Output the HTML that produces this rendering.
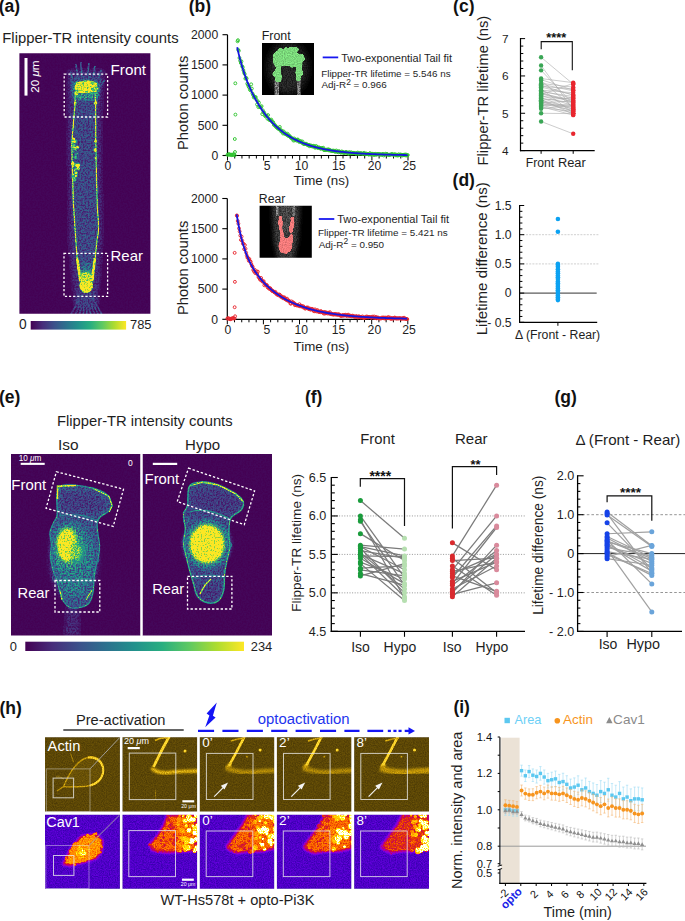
<!DOCTYPE html>
<html><head><meta charset="utf-8"><style>
html,body{margin:0;padding:0;background:#fff;width:685px;height:921px;overflow:hidden}
svg{display:block}
text{font-family:"Liberation Sans",sans-serif}
</style></head><body>
<svg width="685" height="921" viewBox="0 0 685 921">
<defs>
<linearGradient id="vir" x1="0" x2="1" y1="0" y2="0"><stop offset="0" stop-color="#440154"/><stop offset="0.125" stop-color="#472d7b"/><stop offset="0.25" stop-color="#3b528b"/><stop offset="0.375" stop-color="#2c728e"/><stop offset="0.5" stop-color="#21918c"/><stop offset="0.625" stop-color="#28ae80"/><stop offset="0.75" stop-color="#5ec962"/><stop offset="0.875" stop-color="#addc30"/><stop offset="1" stop-color="#fde725"/></linearGradient>
<filter id="b05" x="-20%" y="-20%" width="140%" height="140%"><feGaussianBlur stdDeviation="0.5"/></filter>
<filter id="b1" x="-30%" y="-30%" width="160%" height="160%"><feGaussianBlur stdDeviation="1"/></filter>
<filter id="b2" x="-50%" y="-50%" width="200%" height="200%"><feGaussianBlur stdDeviation="2"/></filter>
<filter id="b3" x="-50%" y="-50%" width="200%" height="200%"><feGaussianBlur stdDeviation="3.5"/></filter>
<filter id="vm" x="0" y="0" width="100%" height="100%" color-interpolation-filters="sRGB"><feTurbulence type="fractalNoise" baseFrequency="0.6" numOctaves="2" seed="4" result="n"/><feColorMatrix in="n" type="matrix" values="3 0 0 0 -1  3 0 0 0 -1  3 0 0 0 -1  0 0 0 0 1" result="nn"/><feComposite in="SourceGraphic" in2="nn" operator="arithmetic" k1="1.1" k2="0.45" k3="0.02" k4="0" result="m"/><feComponentTransfer in="m"><feFuncR type="table" tableValues="0.267 0.278 0.231 0.173 0.129 0.157 0.369 0.678 0.992"/><feFuncG type="table" tableValues="0.004 0.176 0.322 0.447 0.569 0.682 0.788 0.863 0.906"/><feFuncB type="table" tableValues="0.329 0.482 0.545 0.557 0.549 0.502 0.384 0.188 0.145"/><feFuncA type="linear" slope="0" intercept="1"/></feComponentTransfer></filter>
<filter id="vm2" x="0" y="0" width="100%" height="100%" color-interpolation-filters="sRGB"><feTurbulence type="fractalNoise" baseFrequency="0.7" numOctaves="2" seed="5" result="n"/><feColorMatrix in="n" type="matrix" values="2.4 0 0 0 -0.7  2.4 0 0 0 -0.7  2.4 0 0 0 -0.7  0 0 0 0 1" result="nn"/><feComposite in="SourceGraphic" in2="nn" operator="arithmetic" k1="0.6" k2="0.8" k3="0" k4="0" result="m"/><feComponentTransfer in="m"><feFuncR type="table" tableValues="0.267 0.278 0.231 0.173 0.129 0.157 0.369 0.678 0.992"/><feFuncG type="table" tableValues="0.004 0.176 0.322 0.447 0.569 0.682 0.788 0.863 0.906"/><feFuncB type="table" tableValues="0.329 0.482 0.545 0.557 0.549 0.502 0.384 0.188 0.145"/></feComponentTransfer></filter>
<filter id="am" x="0" y="0" width="100%" height="100%" color-interpolation-filters="sRGB"><feTurbulence type="fractalNoise" baseFrequency="0.9" numOctaves="2" seed="6" result="n"/><feColorMatrix in="n" type="matrix" values="2 0 0 0 -0.5  2 0 0 0 -0.5  2 0 0 0 -0.5  0 0 0 0 1" result="nn"/><feComposite in="SourceGraphic" in2="nn" operator="arithmetic" k1="0.3" k2="0.85" k3="0" k4="0" result="m"/><feComponentTransfer in="m"><feFuncR type="table" tableValues="0.000 0.250 0.500 0.780 1.000"/><feFuncG type="table" tableValues="0.000 0.190 0.390 0.600 0.860"/><feFuncB type="table" tableValues="0.000 0.020 0.030 0.020 0.200"/><feFuncA type="linear" slope="0" intercept="1"/></feComponentTransfer></filter>
<filter id="fm" x="0" y="0" width="100%" height="100%" color-interpolation-filters="sRGB"><feTurbulence type="fractalNoise" baseFrequency="0.85" numOctaves="2" seed="8" result="n"/><feColorMatrix in="n" type="matrix" values="2 0 0 0 -0.5  2 0 0 0 -0.5  2 0 0 0 -0.5  0 0 0 0 1" result="nn"/><feComposite in="SourceGraphic" in2="nn" operator="arithmetic" k1="0.35" k2="0.83" k3="0" k4="0" result="m"/><feComponentTransfer in="m"><feFuncR type="table" tableValues="0.000 0.000 0.004 0.098 0.192 0.286 0.384 0.478 0.573 0.635 0.678 0.722 0.765 0.812 0.851 0.898 0.941 0.988 1.000 1.000 1.000 1.000 1.000 1.000 1.000 1.000 1.000 1.000 1.000 1.000 1.000 1.000"/><feFuncG type="table" tableValues="0.000 0.000 0.000 0.000 0.000 0.000 0.000 0.000 0.000 0.000 0.000 0.000 0.000 0.055 0.137 0.224 0.310 0.396 0.459 0.522 0.576 0.631 0.686 0.745 0.804 0.859 0.918 0.973 1.000 1.000 1.000 1.000"/><feFuncB type="table" tableValues="0.000 0.239 0.376 0.510 0.647 0.753 0.863 0.890 0.824 0.710 0.592 0.478 0.365 0.251 0.137 0.020 0.000 0.000 0.000 0.000 0.000 0.000 0.000 0.000 0.000 0.000 0.000 0.137 0.384 0.627 0.875 1.000"/><feFuncA type="linear" slope="0" intercept="1"/></feComponentTransfer></filter>
<filter id="gm" x="0" y="0" width="100%" height="100%" color-interpolation-filters="sRGB"><feTurbulence type="fractalNoise" baseFrequency="0.8" numOctaves="2" seed="3" result="n"/><feColorMatrix in="n" type="matrix" values="3 0 0 0 -1  3 0 0 0 -1  3 0 0 0 -1  0 0 0 0 1" result="nn"/><feComposite in="SourceGraphic" in2="nn" operator="arithmetic" k1="0.7" k2="0.6" k3="0" k4="0" result="m"/><feComponentTransfer in="m"><feFuncR type="table" tableValues="0.000 1.000"/><feFuncG type="table" tableValues="0.000 1.000"/><feFuncB type="table" tableValues="0.000 1.000"/><feFuncA type="linear" slope="0" intercept="1"/></feComponentTransfer></filter>
<filter id="tex" x="-10%" y="-10%" width="120%" height="120%" color-interpolation-filters="sRGB"><feGaussianBlur in="SourceGraphic" stdDeviation="1.1" result="bl"/><feColorMatrix in="bl" type="matrix" values="1 0 0 0 0  0 1 0 0 0  0 0 1 0 0  0 0 0 12 -5" result="goo"/><feTurbulence type="fractalNoise" baseFrequency="0.9" numOctaves="1" seed="2" result="n"/><feColorMatrix in="n" type="matrix" values="2 0 0 0 -0.5  2 0 0 0 -0.5  2 0 0 0 -0.5  0 0 0 0 1" result="g"/><feComposite in="goo" in2="g" operator="arithmetic" k1="0.3" k2="0.85" result="c"/><feComposite in="c" in2="goo" operator="in"/></filter>
</defs>

<text x="-1.3" y="12.4" font-size="17.5" font-weight="bold" fill="#111">(a)</text>
<text x="2.3" y="43.0" font-size="14.83" fill="#1e1e1e">Flipper-TR intensity counts</text>
<svg x="19.4" y="53.2" width="131" height="260.6" viewBox="19.4 53.2 131 260.6" overflow="hidden">
<g filter="url(#vm)">
<rect x="19.40" y="53.20" width="131.00" height="260.60" fill="#000"/>
<path d="M68,70 L104,70 L101,120 L102,240 L99,290 L92,300 L80,300 L73,290 L69,240 L68,120 Z" fill="#1a1a1a" filter="url(#b2)"/>
<line x1="78.00" y1="80.00" x2="76.00" y2="64.00" stroke="#484848" stroke-width="1.5" filter="url(#b05)"/>
<line x1="82.00" y1="79.00" x2="81.00" y2="62.00" stroke="#484848" stroke-width="1.5" filter="url(#b05)"/>
<line x1="87.00" y1="79.00" x2="89.00" y2="63.00" stroke="#484848" stroke-width="1.5" filter="url(#b05)"/>
<line x1="92.00" y1="80.00" x2="95.00" y2="66.00" stroke="#484848" stroke-width="1.5" filter="url(#b05)"/>
<line x1="97.00" y1="82.00" x2="101.00" y2="70.00" stroke="#484848" stroke-width="1.5" filter="url(#b05)"/>
<line x1="74.00" y1="82.00" x2="70.00" y2="72.00" stroke="#484848" stroke-width="1.5" filter="url(#b05)"/>
<line x1="100.00" y1="86.00" x2="105.00" y2="80.00" stroke="#484848" stroke-width="1.5" filter="url(#b05)"/>
<line x1="86.00" y1="288.00" x2="70.00" y2="316.00" stroke="#363636" stroke-width="1.5" filter="url(#b05)"/>
<line x1="86.00" y1="288.00" x2="75.00" y2="316.00" stroke="#363636" stroke-width="1.5" filter="url(#b05)"/>
<line x1="86.00" y1="288.00" x2="79.00" y2="316.00" stroke="#363636" stroke-width="1.5" filter="url(#b05)"/>
<line x1="86.00" y1="288.00" x2="83.00" y2="316.00" stroke="#363636" stroke-width="1.5" filter="url(#b05)"/>
<line x1="86.00" y1="288.00" x2="87.00" y2="316.00" stroke="#363636" stroke-width="1.5" filter="url(#b05)"/>
<line x1="86.00" y1="288.00" x2="91.00" y2="316.00" stroke="#363636" stroke-width="1.5" filter="url(#b05)"/>
<line x1="86.00" y1="288.00" x2="95.00" y2="316.00" stroke="#363636" stroke-width="1.5" filter="url(#b05)"/>
<line x1="86.00" y1="288.00" x2="99.00" y2="316.00" stroke="#363636" stroke-width="1.5" filter="url(#b05)"/>
<line x1="86.00" y1="288.00" x2="103.00" y2="316.00" stroke="#363636" stroke-width="1.5" filter="url(#b05)"/>
<ellipse cx="86" cy="300" rx="12" ry="10" fill="#2a2a2a" filter="url(#b2)"/>
<path d="M70,79 Q86,72 102,79 L100,92 L96.5,102 L96.5,143 L97,169 L98,204 L99.5,228 L97.5,242 L95,262 L93.5,278 L86,293 L78.5,278 L76.5,262 L75,240 L72.5,204 L71.5,170 L70.5,143 L74,102 L70,92 Z" fill="#303030" filter="url(#b05)"/>
<path d="M72,84 Q86,76 100,84 L98,100 L74,100 Z" fill="#707070" filter="url(#b1)"/>
<ellipse cx="86" cy="272" rx="7" ry="10" fill="#555" filter="url(#b1)"/>
</g>
<g filter="url(#vm2)">
<path d="M74.5,87 Q76,80.5 84,81 Q92,79 97,83.5 Q98.5,89 93,92 Q86,94 80,93 Q74.5,92 74.5,87 Z" fill="#f4f4f4" filter="url(#b05)"/>
<circle cx="78.08" cy="89.60" r="1.66" fill="#e0e0e0" filter="url(#b05)"/>
<circle cx="80.80" cy="89.40" r="1.02" fill="#ffffff" filter="url(#b05)"/>
<circle cx="94.04" cy="90.37" r="1.49" fill="#c0c0c0" filter="url(#b05)"/>
<circle cx="82.93" cy="83.25" r="1.21" fill="#c0c0c0" filter="url(#b05)"/>
<circle cx="81.11" cy="89.94" r="1.08" fill="#e0e0e0" filter="url(#b05)"/>
<circle cx="87.92" cy="88.11" r="0.89" fill="#c0c0c0" filter="url(#b05)"/>
<circle cx="92.90" cy="90.22" r="1.77" fill="#ffffff" filter="url(#b05)"/>
<circle cx="83.42" cy="88.67" r="1.28" fill="#e0e0e0" filter="url(#b05)"/>
<circle cx="87.80" cy="90.06" r="1.05" fill="#ffffff" filter="url(#b05)"/>
<circle cx="96.83" cy="88.72" r="1.48" fill="#ffffff" filter="url(#b05)"/>
<circle cx="84.78" cy="81.60" r="1.64" fill="#c0c0c0" filter="url(#b05)"/>
<circle cx="79.88" cy="90.26" r="1.25" fill="#e0e0e0" filter="url(#b05)"/>
<circle cx="86.35" cy="91.36" r="1.59" fill="#c0c0c0" filter="url(#b05)"/>
<circle cx="76.68" cy="82.72" r="1.54" fill="#c0c0c0" filter="url(#b05)"/>
<circle cx="88.62" cy="89.56" r="0.81" fill="#c0c0c0" filter="url(#b05)"/>
<circle cx="92.66" cy="86.87" r="1.00" fill="#ffffff" filter="url(#b05)"/>
<circle cx="82.92" cy="88.67" r="1.02" fill="#ffffff" filter="url(#b05)"/>
<circle cx="95.97" cy="86.96" r="1.48" fill="#a0a0a0" filter="url(#b05)"/>
<circle cx="89.15" cy="88.92" r="1.44" fill="#ffffff" filter="url(#b05)"/>
<circle cx="80.75" cy="84.59" r="1.45" fill="#c0c0c0" filter="url(#b05)"/>
<circle cx="92.57" cy="88.93" r="0.98" fill="#e0e0e0" filter="url(#b05)"/>
<circle cx="92.96" cy="81.99" r="0.86" fill="#a0a0a0" filter="url(#b05)"/>
<circle cx="91.46" cy="86.19" r="0.86" fill="#c0c0c0" filter="url(#b05)"/>
<circle cx="77.47" cy="85.70" r="1.08" fill="#c0c0c0" filter="url(#b05)"/>
<circle cx="80.14" cy="89.08" r="1.68" fill="#a0a0a0" filter="url(#b05)"/>
<circle cx="90.91" cy="88.44" r="1.74" fill="#e0e0e0" filter="url(#b05)"/>
<circle cx="92.62" cy="88.95" r="1.45" fill="#a0a0a0" filter="url(#b05)"/>
<circle cx="95.34" cy="90.12" r="1.57" fill="#c0c0c0" filter="url(#b05)"/>
<circle cx="85.27" cy="82.39" r="1.16" fill="#ffffff" filter="url(#b05)"/>
<circle cx="82.80" cy="82.36" r="0.87" fill="#c0c0c0" filter="url(#b05)"/>
<circle cx="92.06" cy="82.93" r="1.79" fill="#a0a0a0" filter="url(#b05)"/>
<circle cx="85.50" cy="90.13" r="1.40" fill="#ffffff" filter="url(#b05)"/>
<circle cx="82.62" cy="90.36" r="1.30" fill="#ffffff" filter="url(#b05)"/>
<circle cx="95.58" cy="89.96" r="1.74" fill="#a0a0a0" filter="url(#b05)"/>
<circle cx="76.81" cy="91.30" r="1.54" fill="#a0a0a0" filter="url(#b05)"/>
<circle cx="86.40" cy="89.52" r="0.95" fill="#ffffff" filter="url(#b05)"/>
<circle cx="84.79" cy="87.66" r="1.50" fill="#e0e0e0" filter="url(#b05)"/>
<circle cx="89.93" cy="91.15" r="0.88" fill="#ffffff" filter="url(#b05)"/>
<circle cx="78.91" cy="89.90" r="1.44" fill="#c0c0c0" filter="url(#b05)"/>
<circle cx="80.29" cy="88.98" r="1.61" fill="#e0e0e0" filter="url(#b05)"/>
<circle cx="76.50" cy="93.00" r="2.20" fill="#d8d8d8" filter="url(#b05)"/>
<circle cx="95.50" cy="91.00" r="1.80" fill="#c8c8c8" filter="url(#b05)"/>
<path d="M75,94 L75.2,102 L71.8,143 L72.4,170 L73.4,204 L75.8,240 L77.4,262 L80,277" fill="none" stroke="#f0f0f0" stroke-width="1.2" filter="url(#b05)"/>
<path d="M95,94 L95.6,102 L95.8,143 L96.3,169 L97.2,204 L98.8,229 L97,241 L94.7,262 L92.5,277" fill="none" stroke="#e6e6e6" stroke-width="1.2" filter="url(#b05)"/>
<circle cx="75.30" cy="103.00" r="1.60" fill="#ffffff" filter="url(#b05)"/>
<circle cx="95.60" cy="103.00" r="1.80" fill="#ffffff" filter="url(#b05)"/>
<circle cx="75.72" cy="149.96" r="0.89" fill="#c0c0c0" filter="url(#b05)"/>
<circle cx="74.09" cy="138.95" r="0.93" fill="#ffffff" filter="url(#b05)"/>
<circle cx="74.53" cy="180.08" r="1.51" fill="#909090" filter="url(#b05)"/>
<circle cx="73.55" cy="140.93" r="1.79" fill="#e0e0e0" filter="url(#b05)"/>
<circle cx="77.41" cy="147.28" r="1.59" fill="#ffffff" filter="url(#b05)"/>
<circle cx="73.49" cy="164.97" r="0.86" fill="#ffffff" filter="url(#b05)"/>
<circle cx="73.83" cy="145.58" r="1.65" fill="#c0c0c0" filter="url(#b05)"/>
<circle cx="72.88" cy="142.13" r="1.63" fill="#c0c0c0" filter="url(#b05)"/>
<circle cx="75.75" cy="172.49" r="1.83" fill="#909090" filter="url(#b05)"/>
<circle cx="77.95" cy="167.07" r="1.61" fill="#c0c0c0" filter="url(#b05)"/>
<circle cx="72.93" cy="164.10" r="1.80" fill="#e0e0e0" filter="url(#b05)"/>
<circle cx="77.28" cy="153.46" r="0.82" fill="#a0a0a0" filter="url(#b05)"/>
<circle cx="74.88" cy="169.31" r="1.03" fill="#a0a0a0" filter="url(#b05)"/>
<circle cx="73.07" cy="174.76" r="1.30" fill="#ffffff" filter="url(#b05)"/>
<circle cx="72.97" cy="162.65" r="1.37" fill="#ffffff" filter="url(#b05)"/>
<circle cx="76.17" cy="165.47" r="1.49" fill="#c0c0c0" filter="url(#b05)"/>
<circle cx="73.71" cy="152.00" r="0.81" fill="#c0c0c0" filter="url(#b05)"/>
<circle cx="75.96" cy="140.19" r="0.91" fill="#909090" filter="url(#b05)"/>
<circle cx="74.58" cy="178.25" r="1.48" fill="#a0a0a0" filter="url(#b05)"/>
<circle cx="75.40" cy="157.32" r="1.87" fill="#909090" filter="url(#b05)"/>
<circle cx="73.04" cy="179.95" r="0.83" fill="#ffffff" filter="url(#b05)"/>
<circle cx="74.37" cy="164.29" r="1.33" fill="#e0e0e0" filter="url(#b05)"/>
<circle cx="77.95" cy="164.87" r="1.78" fill="#ffffff" filter="url(#b05)"/>
<circle cx="78.23" cy="168.47" r="1.67" fill="#e0e0e0" filter="url(#b05)"/>
<circle cx="75.35" cy="141.64" r="1.63" fill="#a0a0a0" filter="url(#b05)"/>
<circle cx="75.83" cy="175.67" r="1.51" fill="#c0c0c0" filter="url(#b05)"/>
<circle cx="75.74" cy="154.82" r="1.21" fill="#909090" filter="url(#b05)"/>
<circle cx="72.74" cy="176.85" r="1.45" fill="#a0a0a0" filter="url(#b05)"/>
<circle cx="74.72" cy="148.30" r="1.77" fill="#e0e0e0" filter="url(#b05)"/>
<circle cx="76.51" cy="173.77" r="1.81" fill="#909090" filter="url(#b05)"/>
<circle cx="76.35" cy="169.16" r="1.45" fill="#a0a0a0" filter="url(#b05)"/>
<circle cx="76.26" cy="166.67" r="0.86" fill="#909090" filter="url(#b05)"/>
<circle cx="73.86" cy="148.08" r="0.85" fill="#909090" filter="url(#b05)"/>
<circle cx="75.13" cy="172.64" r="1.11" fill="#c0c0c0" filter="url(#b05)"/>
<circle cx="74.56" cy="179.44" r="1.72" fill="#a0a0a0" filter="url(#b05)"/>
<circle cx="77.64" cy="164.12" r="1.24" fill="#a0a0a0" filter="url(#b05)"/>
<circle cx="74.46" cy="170.73" r="0.85" fill="#e0e0e0" filter="url(#b05)"/>
<circle cx="72.75" cy="174.61" r="1.20" fill="#c0c0c0" filter="url(#b05)"/>
<circle cx="74.76" cy="141.60" r="1.23" fill="#e0e0e0" filter="url(#b05)"/>
<circle cx="73.52" cy="138.38" r="0.95" fill="#ffffff" filter="url(#b05)"/>
<circle cx="78.08" cy="164.02" r="1.25" fill="#909090" filter="url(#b05)"/>
<circle cx="76.27" cy="173.12" r="1.39" fill="#e0e0e0" filter="url(#b05)"/>
<circle cx="77.87" cy="165.56" r="1.88" fill="#ffffff" filter="url(#b05)"/>
<circle cx="73.90" cy="180.89" r="1.11" fill="#909090" filter="url(#b05)"/>
<circle cx="73.48" cy="165.59" r="1.42" fill="#c0c0c0" filter="url(#b05)"/>
<circle cx="95.00" cy="150.00" r="1.60" fill="#ffffff" filter="url(#b05)"/>
<circle cx="95.50" cy="141.00" r="1.50" fill="#f0f0f0" filter="url(#b05)"/>
<circle cx="95.80" cy="158.00" r="1.30" fill="#d0d0d0" filter="url(#b05)"/>
<ellipse cx="86.2" cy="285.5" rx="6.8" ry="7.6" fill="#ffffff" filter="url(#b05)"/>
<path d="M77.2,258 L80.4,281" fill="none" stroke="#ffffff" stroke-width="2.6" filter="url(#b05)"/>
<path d="M94.8,258 L92.2,281" fill="none" stroke="#ffffff" stroke-width="2.6" filter="url(#b05)"/>
<path d="M80,274 Q86,268 92.5,274 L92.5,282 L80,282 Z" fill="#d0d0d0" filter="url(#b1)"/>
</g>
</svg>
<rect x="24.50" y="58.00" width="3.00" height="37.60" fill="#fff"/>
<text x="38.7" y="92.7" font-size="11.6" fill="#fff" transform="rotate(-90 38.7 92.7)">20 <tspan font-style="italic">μ</tspan>m</text>
<rect x="64.2" y="74.2" width="43.4" height="42.8" fill="none" stroke="#fff" stroke-width="1.3" stroke-dasharray="2.2 1.9"/>
<rect x="64.0" y="253.4" width="43.6" height="43.0" fill="none" stroke="#fff" stroke-width="1.3" stroke-dasharray="2.2 1.9"/>
<text x="110.6" y="74.5" font-size="15.2" fill="#fff">Front</text>
<text x="110.5" y="261.0" font-size="14.98" fill="#fff">Rear</text>
<rect x="30.70" y="321.00" width="95.40" height="8.60" fill="url(#vir)"/>
<text x="19.1" y="329.3" font-size="13.75" fill="#1e1e1e">0</text>
<text x="130.0" y="329.3" font-size="12.91" fill="#1e1e1e">785</text>
<text x="188.7" y="12.4" font-size="17.5" font-weight="bold" fill="#111">(b)</text>
<line x1="227.50" y1="34.70" x2="227.50" y2="156.00" stroke="#000" stroke-width="1.2"/>
<line x1="226.90" y1="155.50" x2="408.60" y2="155.50" stroke="#000" stroke-width="1.2"/>
<line x1="222.50" y1="155.50" x2="227.50" y2="155.50" stroke="#000" stroke-width="1.1"/>
<text x="218.2" y="159.8" font-size="12.2" text-anchor="end" fill="#1e1e1e">0</text>
<line x1="222.50" y1="125.30" x2="227.50" y2="125.30" stroke="#000" stroke-width="1.1"/>
<text x="218.2" y="129.6" font-size="12.2" text-anchor="end" fill="#1e1e1e">500</text>
<line x1="222.50" y1="95.10" x2="227.50" y2="95.10" stroke="#000" stroke-width="1.1"/>
<text x="218.2" y="99.4" font-size="12.2" text-anchor="end" fill="#1e1e1e">1000</text>
<line x1="222.50" y1="64.90" x2="227.50" y2="64.90" stroke="#000" stroke-width="1.1"/>
<text x="218.2" y="69.2" font-size="12.2" text-anchor="end" fill="#1e1e1e">1500</text>
<line x1="222.50" y1="34.70" x2="227.50" y2="34.70" stroke="#000" stroke-width="1.1"/>
<text x="218.2" y="39.0" font-size="12.2" text-anchor="end" fill="#1e1e1e">2000</text>
<line x1="227.50" y1="155.50" x2="227.50" y2="160.50" stroke="#000" stroke-width="1"/>
<text x="228.0" y="170.0" font-size="12.2" text-anchor="middle" fill="#1e1e1e">0</text>
<line x1="234.72" y1="155.50" x2="234.72" y2="158.50" stroke="#000" stroke-width="1"/>
<line x1="241.94" y1="155.50" x2="241.94" y2="158.50" stroke="#000" stroke-width="1"/>
<line x1="249.16" y1="155.50" x2="249.16" y2="158.50" stroke="#000" stroke-width="1"/>
<line x1="256.38" y1="155.50" x2="256.38" y2="158.50" stroke="#000" stroke-width="1"/>
<line x1="263.60" y1="155.50" x2="263.60" y2="160.50" stroke="#000" stroke-width="1"/>
<text x="267.1" y="170.0" font-size="12.2" text-anchor="middle" fill="#1e1e1e">5</text>
<line x1="270.82" y1="155.50" x2="270.82" y2="158.50" stroke="#000" stroke-width="1"/>
<line x1="278.04" y1="155.50" x2="278.04" y2="158.50" stroke="#000" stroke-width="1"/>
<line x1="285.26" y1="155.50" x2="285.26" y2="158.50" stroke="#000" stroke-width="1"/>
<line x1="292.48" y1="155.50" x2="292.48" y2="158.50" stroke="#000" stroke-width="1"/>
<line x1="299.70" y1="155.50" x2="299.70" y2="160.50" stroke="#000" stroke-width="1"/>
<text x="301.5" y="170.0" font-size="12.2" text-anchor="middle" fill="#1e1e1e">10</text>
<line x1="306.92" y1="155.50" x2="306.92" y2="158.50" stroke="#000" stroke-width="1"/>
<line x1="314.14" y1="155.50" x2="314.14" y2="158.50" stroke="#000" stroke-width="1"/>
<line x1="321.36" y1="155.50" x2="321.36" y2="158.50" stroke="#000" stroke-width="1"/>
<line x1="328.58" y1="155.50" x2="328.58" y2="158.50" stroke="#000" stroke-width="1"/>
<line x1="335.80" y1="155.50" x2="335.80" y2="160.50" stroke="#000" stroke-width="1"/>
<text x="338.8" y="170.0" font-size="12.2" text-anchor="middle" fill="#1e1e1e">15</text>
<line x1="343.02" y1="155.50" x2="343.02" y2="158.50" stroke="#000" stroke-width="1"/>
<line x1="350.24" y1="155.50" x2="350.24" y2="158.50" stroke="#000" stroke-width="1"/>
<line x1="357.46" y1="155.50" x2="357.46" y2="158.50" stroke="#000" stroke-width="1"/>
<line x1="364.68" y1="155.50" x2="364.68" y2="158.50" stroke="#000" stroke-width="1"/>
<line x1="371.90" y1="155.50" x2="371.90" y2="160.50" stroke="#000" stroke-width="1"/>
<text x="374.6" y="170.0" font-size="12.2" text-anchor="middle" fill="#1e1e1e">20</text>
<line x1="379.12" y1="155.50" x2="379.12" y2="158.50" stroke="#000" stroke-width="1"/>
<line x1="386.34" y1="155.50" x2="386.34" y2="158.50" stroke="#000" stroke-width="1"/>
<line x1="393.56" y1="155.50" x2="393.56" y2="158.50" stroke="#000" stroke-width="1"/>
<line x1="400.78" y1="155.50" x2="400.78" y2="158.50" stroke="#000" stroke-width="1"/>
<line x1="408.00" y1="155.50" x2="408.00" y2="160.50" stroke="#000" stroke-width="1"/>
<text x="409.3" y="170.0" font-size="12.2" text-anchor="middle" fill="#1e1e1e">25</text>
<g fill="none" stroke="#2fc42f" stroke-width="0.95">
<circle cx="227.50" cy="154.82" r="1.45"/>
<circle cx="228.22" cy="154.65" r="1.45"/>
<circle cx="228.94" cy="154.10" r="1.45"/>
<circle cx="229.67" cy="154.80" r="1.45"/>
<circle cx="230.39" cy="154.73" r="1.45"/>
<circle cx="231.11" cy="154.61" r="1.45"/>
<circle cx="231.83" cy="155.22" r="1.45"/>
<circle cx="232.55" cy="154.73" r="1.45"/>
<circle cx="233.28" cy="154.55" r="1.45"/>
<circle cx="234.00" cy="154.30" r="1.45"/>
<circle cx="234.72" cy="155.36" r="1.45"/>
<circle cx="234.98" cy="152.00" r="1.45"/>
<circle cx="234.80" cy="139.01" r="1.45"/>
<circle cx="235.42" cy="114.61" r="1.45"/>
<circle cx="235.32" cy="83.32" r="1.45"/>
<circle cx="237.97" cy="40.20" r="1.45"/>
<circle cx="237.54" cy="41.31" r="1.45"/>
<circle cx="238.19" cy="49.77" r="1.45"/>
<circle cx="238.84" cy="50.75" r="1.45"/>
<circle cx="239.49" cy="57.94" r="1.45"/>
<circle cx="240.13" cy="60.72" r="1.45"/>
<circle cx="240.78" cy="62.97" r="1.45"/>
<circle cx="241.43" cy="61.33" r="1.45"/>
<circle cx="242.08" cy="66.22" r="1.45"/>
<circle cx="242.73" cy="67.21" r="1.45"/>
<circle cx="243.38" cy="70.11" r="1.45"/>
<circle cx="244.03" cy="72.60" r="1.45"/>
<circle cx="244.68" cy="73.99" r="1.45"/>
<circle cx="245.33" cy="78.64" r="1.45"/>
<circle cx="245.98" cy="77.64" r="1.45"/>
<circle cx="246.63" cy="78.49" r="1.45"/>
<circle cx="247.28" cy="83.63" r="1.45"/>
<circle cx="247.93" cy="84.69" r="1.45"/>
<circle cx="248.58" cy="86.56" r="1.45"/>
<circle cx="249.23" cy="87.42" r="1.45"/>
<circle cx="249.88" cy="89.59" r="1.45"/>
<circle cx="250.53" cy="90.39" r="1.45"/>
<circle cx="251.18" cy="84.32" r="1.45"/>
<circle cx="251.83" cy="88.55" r="1.45"/>
<circle cx="252.48" cy="93.47" r="1.45"/>
<circle cx="253.13" cy="95.09" r="1.45"/>
<circle cx="253.78" cy="97.43" r="1.45"/>
<circle cx="254.43" cy="97.04" r="1.45"/>
<circle cx="255.08" cy="97.07" r="1.45"/>
<circle cx="255.73" cy="97.09" r="1.45"/>
<circle cx="256.38" cy="99.61" r="1.45"/>
<circle cx="257.03" cy="104.45" r="1.45"/>
<circle cx="257.68" cy="101.26" r="1.45"/>
<circle cx="258.33" cy="107.09" r="1.45"/>
<circle cx="258.98" cy="102.68" r="1.45"/>
<circle cx="259.63" cy="106.21" r="1.45"/>
<circle cx="260.28" cy="107.29" r="1.45"/>
<circle cx="260.93" cy="107.44" r="1.45"/>
<circle cx="261.58" cy="106.16" r="1.45"/>
<circle cx="262.23" cy="114.08" r="1.45"/>
<circle cx="262.88" cy="110.37" r="1.45"/>
<circle cx="263.53" cy="112.45" r="1.45"/>
<circle cx="264.18" cy="112.59" r="1.45"/>
<circle cx="264.83" cy="115.38" r="1.45"/>
<circle cx="265.48" cy="116.31" r="1.45"/>
<circle cx="266.13" cy="115.55" r="1.45"/>
<circle cx="266.78" cy="115.75" r="1.45"/>
<circle cx="267.43" cy="118.72" r="1.45"/>
<circle cx="268.08" cy="115.08" r="1.45"/>
<circle cx="268.73" cy="118.62" r="1.45"/>
<circle cx="269.38" cy="120.02" r="1.45"/>
<circle cx="270.03" cy="120.13" r="1.45"/>
<circle cx="270.68" cy="120.32" r="1.45"/>
<circle cx="271.33" cy="119.63" r="1.45"/>
<circle cx="271.98" cy="121.51" r="1.45"/>
<circle cx="272.62" cy="122.31" r="1.45"/>
<circle cx="273.27" cy="122.32" r="1.45"/>
<circle cx="273.92" cy="124.95" r="1.45"/>
<circle cx="274.57" cy="124.67" r="1.45"/>
<circle cx="275.22" cy="125.59" r="1.45"/>
<circle cx="275.87" cy="126.70" r="1.45"/>
<circle cx="276.52" cy="127.06" r="1.45"/>
<circle cx="277.17" cy="127.73" r="1.45"/>
<circle cx="277.82" cy="128.53" r="1.45"/>
<circle cx="278.47" cy="128.13" r="1.45"/>
<circle cx="279.12" cy="129.35" r="1.45"/>
<circle cx="279.77" cy="126.93" r="1.45"/>
<circle cx="280.42" cy="129.81" r="1.45"/>
<circle cx="281.07" cy="131.38" r="1.45"/>
<circle cx="281.72" cy="130.62" r="1.45"/>
<circle cx="282.37" cy="132.04" r="1.45"/>
<circle cx="283.02" cy="133.54" r="1.45"/>
<circle cx="283.67" cy="131.45" r="1.45"/>
<circle cx="284.32" cy="133.31" r="1.45"/>
<circle cx="284.97" cy="133.82" r="1.45"/>
<circle cx="285.62" cy="133.33" r="1.45"/>
<circle cx="286.27" cy="134.43" r="1.45"/>
<circle cx="286.92" cy="134.90" r="1.45"/>
<circle cx="287.57" cy="133.75" r="1.45"/>
<circle cx="288.22" cy="136.00" r="1.45"/>
<circle cx="288.87" cy="135.43" r="1.45"/>
<circle cx="289.52" cy="136.13" r="1.45"/>
<circle cx="290.17" cy="136.68" r="1.45"/>
<circle cx="290.82" cy="137.76" r="1.45"/>
<circle cx="291.47" cy="137.90" r="1.45"/>
<circle cx="292.12" cy="138.59" r="1.45"/>
<circle cx="292.77" cy="138.78" r="1.45"/>
<circle cx="293.42" cy="140.59" r="1.45"/>
<circle cx="294.07" cy="138.44" r="1.45"/>
<circle cx="294.72" cy="140.36" r="1.45"/>
<circle cx="295.37" cy="139.57" r="1.45"/>
<circle cx="296.02" cy="139.68" r="1.45"/>
<circle cx="296.67" cy="140.67" r="1.45"/>
<circle cx="297.32" cy="139.70" r="1.45"/>
<circle cx="297.97" cy="139.59" r="1.45"/>
<circle cx="298.62" cy="140.99" r="1.45"/>
<circle cx="299.27" cy="142.02" r="1.45"/>
<circle cx="299.92" cy="141.36" r="1.45"/>
<circle cx="300.57" cy="140.99" r="1.45"/>
<circle cx="301.22" cy="141.92" r="1.45"/>
<circle cx="301.87" cy="142.79" r="1.45"/>
<circle cx="302.52" cy="141.51" r="1.45"/>
<circle cx="303.17" cy="143.59" r="1.45"/>
<circle cx="303.82" cy="143.97" r="1.45"/>
<circle cx="304.47" cy="144.07" r="1.45"/>
<circle cx="305.11" cy="143.73" r="1.45"/>
<circle cx="305.76" cy="144.01" r="1.45"/>
<circle cx="306.41" cy="143.87" r="1.45"/>
<circle cx="307.06" cy="144.69" r="1.45"/>
<circle cx="307.71" cy="144.94" r="1.45"/>
<circle cx="308.36" cy="145.50" r="1.45"/>
<circle cx="309.01" cy="144.84" r="1.45"/>
<circle cx="309.66" cy="146.22" r="1.45"/>
<circle cx="310.31" cy="145.76" r="1.45"/>
<circle cx="310.96" cy="145.47" r="1.45"/>
<circle cx="311.61" cy="146.09" r="1.45"/>
<circle cx="312.26" cy="146.47" r="1.45"/>
<circle cx="312.91" cy="146.32" r="1.45"/>
<circle cx="313.56" cy="145.83" r="1.45"/>
<circle cx="314.21" cy="146.28" r="1.45"/>
<circle cx="314.86" cy="147.65" r="1.45"/>
<circle cx="315.51" cy="147.40" r="1.45"/>
<circle cx="316.16" cy="145.99" r="1.45"/>
<circle cx="316.81" cy="147.45" r="1.45"/>
<circle cx="317.46" cy="147.54" r="1.45"/>
<circle cx="318.11" cy="147.88" r="1.45"/>
<circle cx="318.76" cy="147.33" r="1.45"/>
<circle cx="319.41" cy="147.78" r="1.45"/>
<circle cx="320.06" cy="148.13" r="1.45"/>
<circle cx="320.71" cy="148.93" r="1.45"/>
<circle cx="321.36" cy="148.01" r="1.45"/>
<circle cx="322.01" cy="148.33" r="1.45"/>
<circle cx="322.66" cy="148.44" r="1.45"/>
<circle cx="323.31" cy="147.74" r="1.45"/>
<circle cx="323.96" cy="150.11" r="1.45"/>
<circle cx="324.61" cy="149.71" r="1.45"/>
<circle cx="325.26" cy="150.08" r="1.45"/>
<circle cx="325.91" cy="149.75" r="1.45"/>
<circle cx="326.56" cy="149.77" r="1.45"/>
<circle cx="327.21" cy="149.63" r="1.45"/>
<circle cx="327.86" cy="149.83" r="1.45"/>
<circle cx="328.51" cy="149.25" r="1.45"/>
<circle cx="329.16" cy="150.53" r="1.45"/>
<circle cx="329.81" cy="150.08" r="1.45"/>
<circle cx="330.46" cy="150.32" r="1.45"/>
<circle cx="331.11" cy="150.81" r="1.45"/>
<circle cx="331.76" cy="150.97" r="1.45"/>
<circle cx="332.41" cy="150.67" r="1.45"/>
<circle cx="333.06" cy="151.17" r="1.45"/>
<circle cx="333.71" cy="150.60" r="1.45"/>
<circle cx="334.36" cy="150.90" r="1.45"/>
<circle cx="335.01" cy="151.81" r="1.45"/>
<circle cx="335.66" cy="151.33" r="1.45"/>
<circle cx="336.31" cy="150.49" r="1.45"/>
<circle cx="336.96" cy="151.76" r="1.45"/>
<circle cx="337.60" cy="151.61" r="1.45"/>
<circle cx="338.25" cy="152.31" r="1.45"/>
<circle cx="338.90" cy="151.11" r="1.45"/>
<circle cx="339.55" cy="151.84" r="1.45"/>
<circle cx="340.20" cy="152.11" r="1.45"/>
<circle cx="340.85" cy="152.76" r="1.45"/>
<circle cx="341.50" cy="151.47" r="1.45"/>
<circle cx="342.15" cy="152.29" r="1.45"/>
<circle cx="342.80" cy="151.73" r="1.45"/>
<circle cx="343.45" cy="153.02" r="1.45"/>
<circle cx="344.10" cy="152.75" r="1.45"/>
<circle cx="344.75" cy="152.50" r="1.45"/>
<circle cx="345.40" cy="152.74" r="1.45"/>
<circle cx="346.05" cy="151.89" r="1.45"/>
<circle cx="346.70" cy="152.55" r="1.45"/>
<circle cx="347.35" cy="152.58" r="1.45"/>
<circle cx="348.00" cy="153.51" r="1.45"/>
<circle cx="348.65" cy="153.76" r="1.45"/>
<circle cx="349.30" cy="152.07" r="1.45"/>
<circle cx="349.95" cy="153.23" r="1.45"/>
<circle cx="350.60" cy="153.35" r="1.45"/>
<circle cx="351.25" cy="152.30" r="1.45"/>
<circle cx="351.90" cy="153.32" r="1.45"/>
<circle cx="352.55" cy="153.17" r="1.45"/>
<circle cx="353.20" cy="152.86" r="1.45"/>
<circle cx="353.85" cy="153.19" r="1.45"/>
<circle cx="354.50" cy="153.07" r="1.45"/>
<circle cx="355.15" cy="153.24" r="1.45"/>
<circle cx="355.80" cy="153.61" r="1.45"/>
<circle cx="356.45" cy="153.54" r="1.45"/>
<circle cx="357.10" cy="153.17" r="1.45"/>
<circle cx="357.75" cy="152.59" r="1.45"/>
<circle cx="358.40" cy="154.00" r="1.45"/>
<circle cx="359.05" cy="153.39" r="1.45"/>
<circle cx="359.70" cy="153.13" r="1.45"/>
<circle cx="360.35" cy="153.66" r="1.45"/>
<circle cx="361.00" cy="153.13" r="1.45"/>
<circle cx="361.65" cy="153.54" r="1.45"/>
<circle cx="362.30" cy="153.74" r="1.45"/>
<circle cx="362.95" cy="153.92" r="1.45"/>
<circle cx="363.60" cy="153.19" r="1.45"/>
<circle cx="364.25" cy="152.84" r="1.45"/>
<circle cx="364.90" cy="154.02" r="1.45"/>
<circle cx="365.55" cy="154.21" r="1.45"/>
<circle cx="366.20" cy="153.51" r="1.45"/>
<circle cx="366.85" cy="154.12" r="1.45"/>
<circle cx="367.50" cy="154.05" r="1.45"/>
<circle cx="368.15" cy="154.19" r="1.45"/>
<circle cx="368.80" cy="154.71" r="1.45"/>
<circle cx="369.45" cy="153.64" r="1.45"/>
<circle cx="370.09" cy="153.21" r="1.45"/>
<circle cx="370.74" cy="154.53" r="1.45"/>
<circle cx="371.39" cy="154.53" r="1.45"/>
<circle cx="372.04" cy="153.71" r="1.45"/>
<circle cx="372.69" cy="154.24" r="1.45"/>
<circle cx="373.34" cy="153.94" r="1.45"/>
<circle cx="373.99" cy="155.05" r="1.45"/>
<circle cx="374.64" cy="154.20" r="1.45"/>
<circle cx="375.29" cy="153.83" r="1.45"/>
<circle cx="375.94" cy="154.85" r="1.45"/>
<circle cx="376.59" cy="153.95" r="1.45"/>
<circle cx="377.24" cy="154.43" r="1.45"/>
<circle cx="377.89" cy="154.10" r="1.45"/>
<circle cx="378.54" cy="153.94" r="1.45"/>
<circle cx="379.19" cy="154.44" r="1.45"/>
<circle cx="379.84" cy="154.11" r="1.45"/>
<circle cx="380.49" cy="154.97" r="1.45"/>
<circle cx="381.14" cy="154.14" r="1.45"/>
<circle cx="381.79" cy="154.87" r="1.45"/>
<circle cx="382.44" cy="154.48" r="1.45"/>
<circle cx="383.09" cy="153.85" r="1.45"/>
<circle cx="383.74" cy="155.50" r="1.45"/>
<circle cx="384.39" cy="154.73" r="1.45"/>
<circle cx="385.04" cy="154.53" r="1.45"/>
<circle cx="385.69" cy="153.72" r="1.45"/>
<circle cx="386.34" cy="154.44" r="1.45"/>
<circle cx="386.99" cy="153.96" r="1.45"/>
<circle cx="387.64" cy="154.47" r="1.45"/>
<circle cx="388.29" cy="155.01" r="1.45"/>
<circle cx="388.94" cy="154.85" r="1.45"/>
<circle cx="389.59" cy="154.68" r="1.45"/>
<circle cx="390.24" cy="154.80" r="1.45"/>
<circle cx="390.89" cy="154.42" r="1.45"/>
<circle cx="391.54" cy="154.38" r="1.45"/>
<circle cx="392.19" cy="153.95" r="1.45"/>
<circle cx="392.84" cy="154.65" r="1.45"/>
<circle cx="393.49" cy="154.78" r="1.45"/>
<circle cx="394.14" cy="154.57" r="1.45"/>
<circle cx="394.79" cy="154.23" r="1.45"/>
<circle cx="395.44" cy="154.66" r="1.45"/>
<circle cx="396.09" cy="155.43" r="1.45"/>
<circle cx="396.74" cy="154.66" r="1.45"/>
<circle cx="397.39" cy="155.32" r="1.45"/>
<circle cx="398.04" cy="155.50" r="1.45"/>
<circle cx="398.69" cy="154.26" r="1.45"/>
<circle cx="399.34" cy="155.08" r="1.45"/>
<circle cx="399.99" cy="154.77" r="1.45"/>
<circle cx="400.64" cy="154.47" r="1.45"/>
<circle cx="401.29" cy="154.92" r="1.45"/>
<circle cx="401.94" cy="154.90" r="1.45"/>
<circle cx="402.58" cy="155.50" r="1.45"/>
<circle cx="403.23" cy="154.86" r="1.45"/>
<circle cx="403.88" cy="154.84" r="1.45"/>
<circle cx="404.53" cy="154.69" r="1.45"/>
<circle cx="405.18" cy="155.39" r="1.45"/>
<circle cx="405.83" cy="154.47" r="1.45"/>
<circle cx="406.48" cy="155.50" r="1.45"/>
<circle cx="407.13" cy="155.12" r="1.45"/>
<circle cx="407.78" cy="155.03" r="1.45"/>
</g>
<polyline points="237.17,47.23 238.62,53.61 240.06,59.34 241.51,64.54 242.95,69.31 244.39,73.69 245.84,77.76 247.28,81.55 248.73,85.10 250.17,88.44 251.61,91.58 253.06,94.55 254.50,97.36 255.95,100.03 257.39,102.56 258.83,104.96 260.28,107.25 261.72,109.44 263.17,111.51 264.61,113.49 266.05,115.38 267.50,117.19 268.94,118.91 270.39,120.55 271.83,122.12 273.27,123.61 274.72,125.04 276.16,126.41 277.61,127.71 279.05,128.95 280.49,130.14 281.94,131.28 283.38,132.36 284.83,133.40 286.27,134.39 287.71,135.33 289.16,136.23 290.60,137.10 292.05,137.92 293.49,138.71 294.93,139.46 296.38,140.18 297.82,140.86 299.27,141.52 300.71,142.14 302.15,142.74 303.60,143.31 305.04,143.86 306.49,144.38 307.93,144.88 309.37,145.35 310.82,145.80 312.26,146.24 313.71,146.65 315.15,147.05 316.59,147.43 318.04,147.79 319.48,148.13 320.93,148.46 322.37,148.78 323.81,149.08 325.26,149.37 326.70,149.64 328.15,149.90 329.59,150.15 331.03,150.39 332.48,150.62 333.92,150.84 335.37,151.05 336.81,151.25 338.25,151.44 339.70,151.62 341.14,151.79 342.59,151.96 344.03,152.12 345.47,152.27 346.92,152.41 348.36,152.55 349.81,152.68 351.25,152.81 352.69,152.93 354.14,153.04 355.58,153.15 357.03,153.26 358.47,153.36 359.91,153.46 361.36,153.55 362.80,153.63 364.25,153.72 365.69,153.80 367.13,153.87 368.58,153.95 370.02,154.02 371.47,154.08 372.91,154.15 374.35,154.21 375.80,154.26 377.24,154.32 378.69,154.37 380.13,154.42 381.57,154.47 383.02,154.52 384.46,154.56 385.91,154.60 387.35,154.64 388.79,154.68 390.24,154.72 391.68,154.75 393.13,154.79 394.57,154.82 396.01,154.85 397.46,154.88 398.90,154.91 400.35,154.93 401.79,154.96 403.23,154.98 404.68,155.01 406.12,155.03 407.57,155.05" fill="none" stroke="#1515e0" stroke-width="1.8"/>
<line x1="227.30" y1="198.50" x2="227.30" y2="319.80" stroke="#000" stroke-width="1.2"/>
<line x1="226.70" y1="319.30" x2="408.40" y2="319.30" stroke="#000" stroke-width="1.2"/>
<line x1="222.30" y1="319.30" x2="227.30" y2="319.30" stroke="#000" stroke-width="1.1"/>
<text x="218.0" y="323.6" font-size="12.2" text-anchor="end" fill="#1e1e1e">0</text>
<line x1="222.30" y1="289.10" x2="227.30" y2="289.10" stroke="#000" stroke-width="1.1"/>
<text x="218.0" y="293.4" font-size="12.2" text-anchor="end" fill="#1e1e1e">500</text>
<line x1="222.30" y1="258.90" x2="227.30" y2="258.90" stroke="#000" stroke-width="1.1"/>
<text x="218.0" y="263.2" font-size="12.2" text-anchor="end" fill="#1e1e1e">1000</text>
<line x1="222.30" y1="228.70" x2="227.30" y2="228.70" stroke="#000" stroke-width="1.1"/>
<text x="218.0" y="233.0" font-size="12.2" text-anchor="end" fill="#1e1e1e">1500</text>
<line x1="222.30" y1="198.50" x2="227.30" y2="198.50" stroke="#000" stroke-width="1.1"/>
<text x="218.0" y="202.8" font-size="12.2" text-anchor="end" fill="#1e1e1e">2000</text>
<line x1="227.30" y1="319.30" x2="227.30" y2="324.30" stroke="#000" stroke-width="1"/>
<text x="227.8" y="333.8" font-size="12.2" text-anchor="middle" fill="#1e1e1e">0</text>
<line x1="234.52" y1="319.30" x2="234.52" y2="322.30" stroke="#000" stroke-width="1"/>
<line x1="241.74" y1="319.30" x2="241.74" y2="322.30" stroke="#000" stroke-width="1"/>
<line x1="248.96" y1="319.30" x2="248.96" y2="322.30" stroke="#000" stroke-width="1"/>
<line x1="256.18" y1="319.30" x2="256.18" y2="322.30" stroke="#000" stroke-width="1"/>
<line x1="263.40" y1="319.30" x2="263.40" y2="324.30" stroke="#000" stroke-width="1"/>
<text x="266.9" y="333.8" font-size="12.2" text-anchor="middle" fill="#1e1e1e">5</text>
<line x1="270.62" y1="319.30" x2="270.62" y2="322.30" stroke="#000" stroke-width="1"/>
<line x1="277.84" y1="319.30" x2="277.84" y2="322.30" stroke="#000" stroke-width="1"/>
<line x1="285.06" y1="319.30" x2="285.06" y2="322.30" stroke="#000" stroke-width="1"/>
<line x1="292.28" y1="319.30" x2="292.28" y2="322.30" stroke="#000" stroke-width="1"/>
<line x1="299.50" y1="319.30" x2="299.50" y2="324.30" stroke="#000" stroke-width="1"/>
<text x="301.3" y="333.8" font-size="12.2" text-anchor="middle" fill="#1e1e1e">10</text>
<line x1="306.72" y1="319.30" x2="306.72" y2="322.30" stroke="#000" stroke-width="1"/>
<line x1="313.94" y1="319.30" x2="313.94" y2="322.30" stroke="#000" stroke-width="1"/>
<line x1="321.16" y1="319.30" x2="321.16" y2="322.30" stroke="#000" stroke-width="1"/>
<line x1="328.38" y1="319.30" x2="328.38" y2="322.30" stroke="#000" stroke-width="1"/>
<line x1="335.60" y1="319.30" x2="335.60" y2="324.30" stroke="#000" stroke-width="1"/>
<text x="338.6" y="333.8" font-size="12.2" text-anchor="middle" fill="#1e1e1e">15</text>
<line x1="342.82" y1="319.30" x2="342.82" y2="322.30" stroke="#000" stroke-width="1"/>
<line x1="350.04" y1="319.30" x2="350.04" y2="322.30" stroke="#000" stroke-width="1"/>
<line x1="357.26" y1="319.30" x2="357.26" y2="322.30" stroke="#000" stroke-width="1"/>
<line x1="364.48" y1="319.30" x2="364.48" y2="322.30" stroke="#000" stroke-width="1"/>
<line x1="371.70" y1="319.30" x2="371.70" y2="324.30" stroke="#000" stroke-width="1"/>
<text x="374.4" y="333.8" font-size="12.2" text-anchor="middle" fill="#1e1e1e">20</text>
<line x1="378.92" y1="319.30" x2="378.92" y2="322.30" stroke="#000" stroke-width="1"/>
<line x1="386.14" y1="319.30" x2="386.14" y2="322.30" stroke="#000" stroke-width="1"/>
<line x1="393.36" y1="319.30" x2="393.36" y2="322.30" stroke="#000" stroke-width="1"/>
<line x1="400.58" y1="319.30" x2="400.58" y2="322.30" stroke="#000" stroke-width="1"/>
<line x1="407.80" y1="319.30" x2="407.80" y2="324.30" stroke="#000" stroke-width="1"/>
<text x="409.1" y="333.8" font-size="12.2" text-anchor="middle" fill="#1e1e1e">25</text>
<g fill="none" stroke="#e8262e" stroke-width="0.95">
<circle cx="227.30" cy="318.58" r="1.45"/>
<circle cx="228.02" cy="318.31" r="1.45"/>
<circle cx="228.74" cy="318.29" r="1.45"/>
<circle cx="229.47" cy="319.08" r="1.45"/>
<circle cx="230.19" cy="319.28" r="1.45"/>
<circle cx="230.91" cy="318.73" r="1.45"/>
<circle cx="231.63" cy="318.89" r="1.45"/>
<circle cx="232.35" cy="318.08" r="1.45"/>
<circle cx="233.08" cy="318.26" r="1.45"/>
<circle cx="233.80" cy="318.39" r="1.45"/>
<circle cx="234.52" cy="318.46" r="1.45"/>
<circle cx="235.09" cy="316.28" r="1.45"/>
<circle cx="234.65" cy="307.22" r="1.45"/>
<circle cx="234.90" cy="281.85" r="1.45"/>
<circle cx="234.66" cy="252.86" r="1.45"/>
<circle cx="236.83" cy="215.41" r="1.45"/>
<circle cx="237.05" cy="215.84" r="1.45"/>
<circle cx="237.70" cy="220.99" r="1.45"/>
<circle cx="238.35" cy="223.69" r="1.45"/>
<circle cx="239.00" cy="228.35" r="1.45"/>
<circle cx="239.65" cy="231.46" r="1.45"/>
<circle cx="240.30" cy="235.52" r="1.45"/>
<circle cx="240.95" cy="239.93" r="1.45"/>
<circle cx="241.60" cy="236.59" r="1.45"/>
<circle cx="242.25" cy="240.66" r="1.45"/>
<circle cx="242.90" cy="243.64" r="1.45"/>
<circle cx="243.55" cy="243.82" r="1.45"/>
<circle cx="244.19" cy="249.18" r="1.45"/>
<circle cx="244.84" cy="245.09" r="1.45"/>
<circle cx="245.49" cy="248.74" r="1.45"/>
<circle cx="246.14" cy="252.68" r="1.45"/>
<circle cx="246.79" cy="255.52" r="1.45"/>
<circle cx="247.44" cy="257.68" r="1.45"/>
<circle cx="248.09" cy="257.91" r="1.45"/>
<circle cx="248.74" cy="260.74" r="1.45"/>
<circle cx="249.39" cy="259.02" r="1.45"/>
<circle cx="250.04" cy="261.22" r="1.45"/>
<circle cx="250.69" cy="261.67" r="1.45"/>
<circle cx="251.34" cy="264.14" r="1.45"/>
<circle cx="251.99" cy="265.97" r="1.45"/>
<circle cx="252.64" cy="266.79" r="1.45"/>
<circle cx="253.29" cy="269.96" r="1.45"/>
<circle cx="253.94" cy="271.39" r="1.45"/>
<circle cx="254.59" cy="269.66" r="1.45"/>
<circle cx="255.24" cy="273.08" r="1.45"/>
<circle cx="255.89" cy="272.41" r="1.45"/>
<circle cx="256.54" cy="271.30" r="1.45"/>
<circle cx="257.19" cy="274.05" r="1.45"/>
<circle cx="257.84" cy="271.65" r="1.45"/>
<circle cx="258.49" cy="276.99" r="1.45"/>
<circle cx="259.14" cy="277.73" r="1.45"/>
<circle cx="259.79" cy="278.96" r="1.45"/>
<circle cx="260.44" cy="280.00" r="1.45"/>
<circle cx="261.09" cy="277.96" r="1.45"/>
<circle cx="261.74" cy="280.51" r="1.45"/>
<circle cx="262.39" cy="281.52" r="1.45"/>
<circle cx="263.04" cy="281.57" r="1.45"/>
<circle cx="263.69" cy="281.22" r="1.45"/>
<circle cx="264.34" cy="285.30" r="1.45"/>
<circle cx="264.99" cy="283.91" r="1.45"/>
<circle cx="265.64" cy="284.69" r="1.45"/>
<circle cx="266.29" cy="285.05" r="1.45"/>
<circle cx="266.94" cy="285.14" r="1.45"/>
<circle cx="267.59" cy="287.40" r="1.45"/>
<circle cx="268.24" cy="287.70" r="1.45"/>
<circle cx="268.89" cy="287.59" r="1.45"/>
<circle cx="269.54" cy="289.06" r="1.45"/>
<circle cx="270.19" cy="288.16" r="1.45"/>
<circle cx="270.84" cy="289.13" r="1.45"/>
<circle cx="271.49" cy="290.24" r="1.45"/>
<circle cx="272.14" cy="290.91" r="1.45"/>
<circle cx="272.79" cy="291.00" r="1.45"/>
<circle cx="273.44" cy="291.41" r="1.45"/>
<circle cx="274.09" cy="292.08" r="1.45"/>
<circle cx="274.74" cy="292.47" r="1.45"/>
<circle cx="275.39" cy="291.88" r="1.45"/>
<circle cx="276.03" cy="293.48" r="1.45"/>
<circle cx="276.68" cy="293.98" r="1.45"/>
<circle cx="277.33" cy="294.84" r="1.45"/>
<circle cx="277.98" cy="294.48" r="1.45"/>
<circle cx="278.63" cy="295.30" r="1.45"/>
<circle cx="279.28" cy="294.46" r="1.45"/>
<circle cx="279.93" cy="294.90" r="1.45"/>
<circle cx="280.58" cy="296.63" r="1.45"/>
<circle cx="281.23" cy="296.23" r="1.45"/>
<circle cx="281.88" cy="297.32" r="1.45"/>
<circle cx="282.53" cy="296.80" r="1.45"/>
<circle cx="283.18" cy="298.34" r="1.45"/>
<circle cx="283.83" cy="297.78" r="1.45"/>
<circle cx="284.48" cy="297.35" r="1.45"/>
<circle cx="285.13" cy="298.98" r="1.45"/>
<circle cx="285.78" cy="299.48" r="1.45"/>
<circle cx="286.43" cy="299.95" r="1.45"/>
<circle cx="287.08" cy="298.69" r="1.45"/>
<circle cx="287.73" cy="300.81" r="1.45"/>
<circle cx="288.38" cy="300.28" r="1.45"/>
<circle cx="289.03" cy="300.89" r="1.45"/>
<circle cx="289.68" cy="301.44" r="1.45"/>
<circle cx="290.33" cy="303.47" r="1.45"/>
<circle cx="290.98" cy="303.65" r="1.45"/>
<circle cx="291.63" cy="301.44" r="1.45"/>
<circle cx="292.28" cy="302.69" r="1.45"/>
<circle cx="292.93" cy="302.30" r="1.45"/>
<circle cx="293.58" cy="303.17" r="1.45"/>
<circle cx="294.23" cy="303.21" r="1.45"/>
<circle cx="294.88" cy="305.23" r="1.45"/>
<circle cx="295.53" cy="304.46" r="1.45"/>
<circle cx="296.18" cy="304.79" r="1.45"/>
<circle cx="296.83" cy="305.48" r="1.45"/>
<circle cx="297.48" cy="305.04" r="1.45"/>
<circle cx="298.13" cy="305.55" r="1.45"/>
<circle cx="298.78" cy="305.81" r="1.45"/>
<circle cx="299.43" cy="304.20" r="1.45"/>
<circle cx="300.08" cy="306.39" r="1.45"/>
<circle cx="300.73" cy="305.82" r="1.45"/>
<circle cx="301.38" cy="305.86" r="1.45"/>
<circle cx="302.03" cy="306.20" r="1.45"/>
<circle cx="302.68" cy="307.22" r="1.45"/>
<circle cx="303.33" cy="306.26" r="1.45"/>
<circle cx="303.98" cy="307.54" r="1.45"/>
<circle cx="304.63" cy="307.82" r="1.45"/>
<circle cx="305.28" cy="308.68" r="1.45"/>
<circle cx="305.93" cy="307.76" r="1.45"/>
<circle cx="306.58" cy="307.55" r="1.45"/>
<circle cx="307.23" cy="308.32" r="1.45"/>
<circle cx="307.88" cy="307.48" r="1.45"/>
<circle cx="308.52" cy="308.79" r="1.45"/>
<circle cx="309.17" cy="309.19" r="1.45"/>
<circle cx="309.82" cy="308.53" r="1.45"/>
<circle cx="310.47" cy="309.67" r="1.45"/>
<circle cx="311.12" cy="309.37" r="1.45"/>
<circle cx="311.77" cy="308.90" r="1.45"/>
<circle cx="312.42" cy="308.95" r="1.45"/>
<circle cx="313.07" cy="310.02" r="1.45"/>
<circle cx="313.72" cy="311.08" r="1.45"/>
<circle cx="314.37" cy="311.24" r="1.45"/>
<circle cx="315.02" cy="309.39" r="1.45"/>
<circle cx="315.67" cy="310.81" r="1.45"/>
<circle cx="316.32" cy="311.43" r="1.45"/>
<circle cx="316.97" cy="310.47" r="1.45"/>
<circle cx="317.62" cy="310.16" r="1.45"/>
<circle cx="318.27" cy="311.79" r="1.45"/>
<circle cx="318.92" cy="311.80" r="1.45"/>
<circle cx="319.57" cy="311.72" r="1.45"/>
<circle cx="320.22" cy="312.25" r="1.45"/>
<circle cx="320.87" cy="311.02" r="1.45"/>
<circle cx="321.52" cy="311.97" r="1.45"/>
<circle cx="322.17" cy="312.04" r="1.45"/>
<circle cx="322.82" cy="312.44" r="1.45"/>
<circle cx="323.47" cy="313.46" r="1.45"/>
<circle cx="324.12" cy="312.01" r="1.45"/>
<circle cx="324.77" cy="313.67" r="1.45"/>
<circle cx="325.42" cy="312.02" r="1.45"/>
<circle cx="326.07" cy="313.11" r="1.45"/>
<circle cx="326.72" cy="312.72" r="1.45"/>
<circle cx="327.37" cy="313.50" r="1.45"/>
<circle cx="328.02" cy="312.65" r="1.45"/>
<circle cx="328.67" cy="312.89" r="1.45"/>
<circle cx="329.32" cy="313.79" r="1.45"/>
<circle cx="329.97" cy="312.21" r="1.45"/>
<circle cx="330.62" cy="313.77" r="1.45"/>
<circle cx="331.27" cy="314.25" r="1.45"/>
<circle cx="331.92" cy="313.92" r="1.45"/>
<circle cx="332.57" cy="314.01" r="1.45"/>
<circle cx="333.22" cy="314.73" r="1.45"/>
<circle cx="333.87" cy="314.18" r="1.45"/>
<circle cx="334.52" cy="314.42" r="1.45"/>
<circle cx="335.17" cy="313.94" r="1.45"/>
<circle cx="335.82" cy="314.67" r="1.45"/>
<circle cx="336.47" cy="314.11" r="1.45"/>
<circle cx="337.12" cy="314.57" r="1.45"/>
<circle cx="337.77" cy="314.81" r="1.45"/>
<circle cx="338.42" cy="314.24" r="1.45"/>
<circle cx="339.07" cy="314.47" r="1.45"/>
<circle cx="339.72" cy="315.09" r="1.45"/>
<circle cx="340.37" cy="315.70" r="1.45"/>
<circle cx="341.01" cy="315.60" r="1.45"/>
<circle cx="341.66" cy="316.04" r="1.45"/>
<circle cx="342.31" cy="315.19" r="1.45"/>
<circle cx="342.96" cy="315.08" r="1.45"/>
<circle cx="343.61" cy="315.80" r="1.45"/>
<circle cx="344.26" cy="315.28" r="1.45"/>
<circle cx="344.91" cy="315.07" r="1.45"/>
<circle cx="345.56" cy="314.78" r="1.45"/>
<circle cx="346.21" cy="315.73" r="1.45"/>
<circle cx="346.86" cy="315.28" r="1.45"/>
<circle cx="347.51" cy="316.22" r="1.45"/>
<circle cx="348.16" cy="314.66" r="1.45"/>
<circle cx="348.81" cy="315.32" r="1.45"/>
<circle cx="349.46" cy="315.83" r="1.45"/>
<circle cx="350.11" cy="315.97" r="1.45"/>
<circle cx="350.76" cy="315.64" r="1.45"/>
<circle cx="351.41" cy="316.35" r="1.45"/>
<circle cx="352.06" cy="315.94" r="1.45"/>
<circle cx="352.71" cy="315.64" r="1.45"/>
<circle cx="353.36" cy="316.48" r="1.45"/>
<circle cx="354.01" cy="316.35" r="1.45"/>
<circle cx="354.66" cy="316.59" r="1.45"/>
<circle cx="355.31" cy="317.01" r="1.45"/>
<circle cx="355.96" cy="316.27" r="1.45"/>
<circle cx="356.61" cy="316.26" r="1.45"/>
<circle cx="357.26" cy="316.82" r="1.45"/>
<circle cx="357.91" cy="317.48" r="1.45"/>
<circle cx="358.56" cy="316.38" r="1.45"/>
<circle cx="359.21" cy="316.49" r="1.45"/>
<circle cx="359.86" cy="317.01" r="1.45"/>
<circle cx="360.51" cy="317.54" r="1.45"/>
<circle cx="361.16" cy="316.99" r="1.45"/>
<circle cx="361.81" cy="317.41" r="1.45"/>
<circle cx="362.46" cy="316.45" r="1.45"/>
<circle cx="363.11" cy="317.59" r="1.45"/>
<circle cx="363.76" cy="318.06" r="1.45"/>
<circle cx="364.41" cy="317.69" r="1.45"/>
<circle cx="365.06" cy="317.29" r="1.45"/>
<circle cx="365.71" cy="317.54" r="1.45"/>
<circle cx="366.36" cy="316.51" r="1.45"/>
<circle cx="367.01" cy="317.41" r="1.45"/>
<circle cx="367.66" cy="316.71" r="1.45"/>
<circle cx="368.31" cy="317.50" r="1.45"/>
<circle cx="368.96" cy="316.97" r="1.45"/>
<circle cx="369.61" cy="317.10" r="1.45"/>
<circle cx="370.26" cy="317.10" r="1.45"/>
<circle cx="370.91" cy="317.73" r="1.45"/>
<circle cx="371.56" cy="317.52" r="1.45"/>
<circle cx="372.21" cy="316.65" r="1.45"/>
<circle cx="372.86" cy="317.25" r="1.45"/>
<circle cx="373.50" cy="317.76" r="1.45"/>
<circle cx="374.15" cy="316.50" r="1.45"/>
<circle cx="374.80" cy="317.95" r="1.45"/>
<circle cx="375.45" cy="317.88" r="1.45"/>
<circle cx="376.10" cy="316.96" r="1.45"/>
<circle cx="376.75" cy="318.37" r="1.45"/>
<circle cx="377.40" cy="317.80" r="1.45"/>
<circle cx="378.05" cy="317.51" r="1.45"/>
<circle cx="378.70" cy="318.31" r="1.45"/>
<circle cx="379.35" cy="318.46" r="1.45"/>
<circle cx="380.00" cy="318.43" r="1.45"/>
<circle cx="380.65" cy="318.34" r="1.45"/>
<circle cx="381.30" cy="318.40" r="1.45"/>
<circle cx="381.95" cy="317.56" r="1.45"/>
<circle cx="382.60" cy="317.95" r="1.45"/>
<circle cx="383.25" cy="317.48" r="1.45"/>
<circle cx="383.90" cy="318.29" r="1.45"/>
<circle cx="384.55" cy="317.68" r="1.45"/>
<circle cx="385.20" cy="318.67" r="1.45"/>
<circle cx="385.85" cy="317.55" r="1.45"/>
<circle cx="386.50" cy="317.91" r="1.45"/>
<circle cx="387.15" cy="317.81" r="1.45"/>
<circle cx="387.80" cy="318.13" r="1.45"/>
<circle cx="388.45" cy="316.92" r="1.45"/>
<circle cx="389.10" cy="318.29" r="1.45"/>
<circle cx="389.75" cy="318.18" r="1.45"/>
<circle cx="390.40" cy="317.72" r="1.45"/>
<circle cx="391.05" cy="318.98" r="1.45"/>
<circle cx="391.70" cy="318.04" r="1.45"/>
<circle cx="392.35" cy="318.62" r="1.45"/>
<circle cx="393.00" cy="318.29" r="1.45"/>
<circle cx="393.65" cy="318.65" r="1.45"/>
<circle cx="394.30" cy="317.71" r="1.45"/>
<circle cx="394.95" cy="317.64" r="1.45"/>
<circle cx="395.60" cy="318.18" r="1.45"/>
<circle cx="396.25" cy="318.61" r="1.45"/>
<circle cx="396.90" cy="318.29" r="1.45"/>
<circle cx="397.55" cy="318.45" r="1.45"/>
<circle cx="398.20" cy="318.42" r="1.45"/>
<circle cx="398.85" cy="318.35" r="1.45"/>
<circle cx="399.50" cy="318.30" r="1.45"/>
<circle cx="400.15" cy="318.21" r="1.45"/>
<circle cx="400.80" cy="318.54" r="1.45"/>
<circle cx="401.45" cy="318.83" r="1.45"/>
<circle cx="402.10" cy="318.38" r="1.45"/>
<circle cx="402.75" cy="318.24" r="1.45"/>
<circle cx="403.40" cy="318.85" r="1.45"/>
<circle cx="404.05" cy="317.72" r="1.45"/>
<circle cx="404.70" cy="318.70" r="1.45"/>
<circle cx="405.35" cy="318.68" r="1.45"/>
<circle cx="405.99" cy="318.79" r="1.45"/>
<circle cx="406.64" cy="319.08" r="1.45"/>
<circle cx="407.29" cy="319.11" r="1.45"/>
</g>
<polyline points="236.69,214.34 238.13,222.93 239.57,230.29 241.02,236.66 242.46,242.20 243.91,247.07 245.35,251.38 246.79,255.22 248.24,258.68 249.68,261.82 251.13,264.68 252.57,267.30 254.01,269.72 255.46,271.97 256.90,274.07 258.35,276.04 259.79,277.89 261.23,279.64 262.68,281.29 264.12,282.85 265.57,284.34 267.01,285.75 268.45,287.10 269.90,288.39 271.34,289.62 272.79,290.80 274.23,291.93 275.67,293.01 277.12,294.04 278.56,295.04 280.01,295.99 281.45,296.90 282.89,297.78 284.34,298.62 285.78,299.43 287.23,300.20 288.67,300.95 290.11,301.66 291.56,302.35 293.00,303.01 294.45,303.65 295.89,304.26 297.33,304.84 298.78,305.41 300.22,305.95 301.67,306.47 303.11,306.97 304.55,307.45 306.00,307.91 307.44,308.35 308.89,308.78 310.33,309.19 311.77,309.58 313.22,309.96 314.66,310.32 316.11,310.67 317.55,311.01 318.99,311.33 320.44,311.64 321.88,311.94 323.33,312.22 324.77,312.50 326.21,312.76 327.66,313.02 329.10,313.26 330.55,313.50 331.99,313.72 333.43,313.94 334.88,314.15 336.32,314.35 337.77,314.54 339.21,314.73 340.65,314.91 342.10,315.08 343.54,315.24 344.99,315.40 346.43,315.55 347.87,315.70 349.32,315.84 350.76,315.97 352.21,316.10 353.65,316.23 355.09,316.35 356.54,316.46 357.98,316.57 359.43,316.68 360.87,316.78 362.31,316.88 363.76,316.97 365.20,317.06 366.65,317.15 368.09,317.23 369.53,317.31 370.98,317.39 372.42,317.46 373.87,317.54 375.31,317.60 376.75,317.67 378.20,317.73 379.64,317.80 381.09,317.85 382.53,317.91 383.97,317.96 385.42,318.02 386.86,318.07 388.31,318.11 389.75,318.16 391.19,318.20 392.64,318.25 394.08,318.29 395.53,318.33 396.97,318.37 398.41,318.40 399.86,318.44 401.30,318.47 402.75,318.50 404.19,318.53 405.63,318.56 407.08,318.59" fill="none" stroke="#1515e0" stroke-width="1.8"/>
<text x="188.0" y="150.1" font-size="14.77" fill="#1e1e1e" transform="rotate(-90 187.993 150.081)">Photon counts</text>
<text x="188.0" y="315.1" font-size="14.77" fill="#1e1e1e" transform="rotate(-90 187.993 315.081)">Photon counts</text>
<text x="293.6" y="185.2" font-size="13.32" fill="#1e1e1e">Time (ns)</text>
<text x="293.6" y="351.2" font-size="13.32" fill="#1e1e1e">Time (ns)</text>
<text x="261.7" y="39.9" font-size="12.44" fill="#1e1e1e">Front</text>
<text x="258.8" y="202.8" font-size="12.27" fill="#1e1e1e">Rear</text>
<svg x="262" y="43.1" width="52.1" height="52" viewBox="262 43.1 52.1 52" overflow="hidden">
<g filter="url(#gm)">
<rect x="262.00" y="43.10" width="52.10" height="52.00" fill="#000"/>
<ellipse cx="288" cy="68" rx="20" ry="26" fill="#262626" filter="url(#b3)"/>
<rect x="274.60" y="80.00" width="4.40" height="16.00" fill="#7a7a7a" filter="url(#b05)"/>
<rect x="297.20" y="80.00" width="3.40" height="16.00" fill="#7a7a7a" filter="url(#b05)"/>
</g>
<g filter="url(#tex)">
<circle cx="278.34" cy="76.06" r="1.58" fill="#7bd87b"/>
<circle cx="296.66" cy="72.15" r="1.56" fill="#7bd87b"/>
<circle cx="289.28" cy="63.36" r="1.90" fill="#7bd87b"/>
<circle cx="284.51" cy="53.14" r="1.80" fill="#7bd87b"/>
<circle cx="277.57" cy="53.89" r="2.10" fill="#7bd87b"/>
<circle cx="300.19" cy="59.58" r="1.64" fill="#7bd87b"/>
<circle cx="301.26" cy="71.70" r="1.66" fill="#7bd87b"/>
<circle cx="298.68" cy="74.92" r="1.63" fill="#7bd87b"/>
<circle cx="293.07" cy="53.99" r="1.45" fill="#7bd87b"/>
<circle cx="282.10" cy="58.71" r="1.88" fill="#7bd87b"/>
<circle cx="281.03" cy="52.23" r="2.15" fill="#7bd87b"/>
<circle cx="295.03" cy="48.92" r="1.88" fill="#7bd87b"/>
<circle cx="290.22" cy="49.84" r="1.52" fill="#7bd87b"/>
<circle cx="276.99" cy="58.74" r="2.26" fill="#7bd87b"/>
<circle cx="300.75" cy="64.50" r="2.00" fill="#7bd87b"/>
<circle cx="298.38" cy="56.40" r="1.85" fill="#7bd87b"/>
<circle cx="274.97" cy="74.73" r="2.23" fill="#7bd87b"/>
<circle cx="279.17" cy="76.39" r="2.58" fill="#7bd87b"/>
<circle cx="283.51" cy="56.58" r="1.61" fill="#7bd87b"/>
<circle cx="292.10" cy="53.47" r="1.63" fill="#7bd87b"/>
<circle cx="299.55" cy="57.25" r="1.62" fill="#7bd87b"/>
<circle cx="295.82" cy="63.92" r="2.26" fill="#7bd87b"/>
<circle cx="286.81" cy="50.48" r="1.55" fill="#7bd87b"/>
<circle cx="298.19" cy="75.54" r="2.53" fill="#7bd87b"/>
<circle cx="275.98" cy="79.98" r="1.54" fill="#7bd87b"/>
<circle cx="285.30" cy="50.77" r="1.86" fill="#7bd87b"/>
<circle cx="281.06" cy="62.45" r="2.25" fill="#7bd87b"/>
<circle cx="289.50" cy="54.95" r="2.33" fill="#7bd87b"/>
<circle cx="302.23" cy="55.61" r="1.64" fill="#7bd87b"/>
<circle cx="299.30" cy="59.92" r="1.88" fill="#7bd87b"/>
<circle cx="299.43" cy="60.75" r="1.64" fill="#7bd87b"/>
<circle cx="277.72" cy="59.17" r="2.24" fill="#7bd87b"/>
<circle cx="292.50" cy="64.66" r="2.00" fill="#7bd87b"/>
<circle cx="287.37" cy="57.18" r="1.97" fill="#7bd87b"/>
<circle cx="290.86" cy="61.54" r="2.33" fill="#7bd87b"/>
<circle cx="278.40" cy="69.81" r="2.42" fill="#7bd87b"/>
<circle cx="289.47" cy="58.11" r="1.52" fill="#7bd87b"/>
<circle cx="290.67" cy="52.69" r="1.85" fill="#7bd87b"/>
<circle cx="300.90" cy="57.65" r="1.87" fill="#7bd87b"/>
<circle cx="277.98" cy="61.84" r="2.39" fill="#7bd87b"/>
<circle cx="278.72" cy="73.94" r="1.46" fill="#7bd87b"/>
<circle cx="278.94" cy="65.16" r="2.60" fill="#7bd87b"/>
<circle cx="285.86" cy="50.80" r="1.43" fill="#7bd87b"/>
<circle cx="298.90" cy="63.04" r="1.98" fill="#7bd87b"/>
<circle cx="296.18" cy="58.89" r="1.60" fill="#7bd87b"/>
<circle cx="302.75" cy="58.21" r="1.87" fill="#7bd87b"/>
<circle cx="286.23" cy="61.46" r="2.38" fill="#7bd87b"/>
<circle cx="298.25" cy="63.60" r="1.56" fill="#7bd87b"/>
<circle cx="283.72" cy="54.37" r="1.81" fill="#7bd87b"/>
<circle cx="281.28" cy="56.17" r="1.93" fill="#7bd87b"/>
<circle cx="294.11" cy="59.04" r="1.62" fill="#7bd87b"/>
<circle cx="278.14" cy="55.66" r="2.49" fill="#7bd87b"/>
<circle cx="276.10" cy="75.91" r="1.53" fill="#7bd87b"/>
<circle cx="298.29" cy="55.91" r="2.34" fill="#7bd87b"/>
<circle cx="285.56" cy="48.21" r="1.51" fill="#7bd87b"/>
<circle cx="298.80" cy="67.22" r="1.98" fill="#7bd87b"/>
<circle cx="291.63" cy="57.86" r="2.42" fill="#7bd87b"/>
<circle cx="274.33" cy="73.99" r="2.13" fill="#7bd87b"/>
<circle cx="297.61" cy="55.82" r="2.05" fill="#7bd87b"/>
<circle cx="298.33" cy="69.37" r="2.05" fill="#7bd87b"/>
<circle cx="292.08" cy="51.09" r="2.56" fill="#7bd87b"/>
<circle cx="275.12" cy="63.59" r="1.62" fill="#7bd87b"/>
<circle cx="286.58" cy="50.46" r="2.45" fill="#7bd87b"/>
<circle cx="282.81" cy="60.96" r="2.48" fill="#7bd87b"/>
<circle cx="299.64" cy="58.78" r="2.00" fill="#7bd87b"/>
<circle cx="293.88" cy="52.70" r="1.56" fill="#7bd87b"/>
<circle cx="291.30" cy="59.18" r="2.43" fill="#7bd87b"/>
<circle cx="280.42" cy="51.91" r="1.52" fill="#7bd87b"/>
<circle cx="299.21" cy="79.76" r="1.82" fill="#7bd87b"/>
<circle cx="284.90" cy="57.21" r="1.46" fill="#7bd87b"/>
<circle cx="288.51" cy="51.63" r="1.44" fill="#7bd87b"/>
<circle cx="281.72" cy="55.23" r="2.44" fill="#7bd87b"/>
<circle cx="282.92" cy="61.94" r="2.26" fill="#7bd87b"/>
<circle cx="290.44" cy="51.09" r="2.23" fill="#7bd87b"/>
<circle cx="293.40" cy="49.31" r="2.50" fill="#7bd87b"/>
<circle cx="293.76" cy="65.12" r="1.81" fill="#7bd87b"/>
<circle cx="275.78" cy="64.18" r="1.84" fill="#7bd87b"/>
<circle cx="278.39" cy="71.50" r="2.19" fill="#7bd87b"/>
<circle cx="283.50" cy="62.77" r="2.08" fill="#7bd87b"/>
<circle cx="286.67" cy="58.79" r="2.37" fill="#7bd87b"/>
<circle cx="297.96" cy="63.99" r="2.06" fill="#7bd87b"/>
<circle cx="278.64" cy="73.19" r="2.57" fill="#7bd87b"/>
<circle cx="286.30" cy="51.51" r="2.12" fill="#7bd87b"/>
<circle cx="292.51" cy="49.20" r="2.48" fill="#7bd87b"/>
<circle cx="284.37" cy="64.07" r="2.07" fill="#7bd87b"/>
<circle cx="276.13" cy="58.93" r="2.54" fill="#7bd87b"/>
<circle cx="291.82" cy="60.28" r="2.46" fill="#7bd87b"/>
<circle cx="274.27" cy="55.38" r="1.48" fill="#7bd87b"/>
<circle cx="294.14" cy="64.96" r="1.77" fill="#7bd87b"/>
<circle cx="285.82" cy="55.38" r="2.25" fill="#7bd87b"/>
<circle cx="297.35" cy="60.64" r="2.44" fill="#7bd87b"/>
<circle cx="290.10" cy="48.57" r="1.49" fill="#7bd87b"/>
<circle cx="274.83" cy="60.44" r="2.40" fill="#7bd87b"/>
<circle cx="280.40" cy="50.01" r="2.32" fill="#7bd87b"/>
<circle cx="278.07" cy="64.30" r="2.22" fill="#7bd87b"/>
<circle cx="278.16" cy="66.42" r="2.39" fill="#7bd87b"/>
<circle cx="299.36" cy="73.56" r="2.39" fill="#7bd87b"/>
<circle cx="278.97" cy="54.10" r="1.47" fill="#7bd87b"/>
<circle cx="294.87" cy="61.08" r="2.10" fill="#7bd87b"/>
<circle cx="284.22" cy="59.42" r="1.86" fill="#7bd87b"/>
<circle cx="278.97" cy="65.45" r="2.29" fill="#7bd87b"/>
<circle cx="277.21" cy="59.60" r="2.10" fill="#7bd87b"/>
<circle cx="294.09" cy="61.29" r="1.75" fill="#7bd87b"/>
<circle cx="301.26" cy="74.17" r="1.65" fill="#7bd87b"/>
<circle cx="292.63" cy="62.37" r="1.78" fill="#7bd87b"/>
<circle cx="295.34" cy="55.42" r="1.57" fill="#7bd87b"/>
<circle cx="299.06" cy="67.90" r="2.26" fill="#7bd87b"/>
<circle cx="280.78" cy="59.58" r="2.28" fill="#7bd87b"/>
<circle cx="290.29" cy="53.67" r="1.93" fill="#7bd87b"/>
<circle cx="299.85" cy="57.60" r="2.50" fill="#7bd87b"/>
<circle cx="295.99" cy="61.12" r="2.24" fill="#7bd87b"/>
<circle cx="290.99" cy="57.61" r="1.89" fill="#7bd87b"/>
<circle cx="295.39" cy="64.40" r="2.13" fill="#7bd87b"/>
<circle cx="296.71" cy="79.26" r="1.53" fill="#7bd87b"/>
<circle cx="299.83" cy="75.47" r="1.67" fill="#7bd87b"/>
<circle cx="279.94" cy="51.98" r="2.57" fill="#7bd87b"/>
<circle cx="289.67" cy="54.77" r="2.49" fill="#7bd87b"/>
<circle cx="288.40" cy="55.40" r="1.62" fill="#7bd87b"/>
<circle cx="300.30" cy="61.49" r="2.01" fill="#7bd87b"/>
<circle cx="283.07" cy="53.13" r="1.74" fill="#7bd87b"/>
<circle cx="291.59" cy="53.32" r="1.49" fill="#7bd87b"/>
<circle cx="299.51" cy="73.38" r="2.01" fill="#7bd87b"/>
<circle cx="297.97" cy="64.61" r="1.46" fill="#7bd87b"/>
<circle cx="298.34" cy="57.34" r="1.98" fill="#7bd87b"/>
<circle cx="283.21" cy="54.48" r="2.19" fill="#7bd87b"/>
<circle cx="287.79" cy="50.56" r="2.04" fill="#7bd87b"/>
<circle cx="278.85" cy="74.44" r="2.31" fill="#7bd87b"/>
<circle cx="291.64" cy="56.65" r="2.49" fill="#7bd87b"/>
<circle cx="279.19" cy="80.18" r="2.47" fill="#7bd87b"/>
<circle cx="276.69" cy="59.59" r="2.09" fill="#7bd87b"/>
<circle cx="296.80" cy="49.51" r="2.26" fill="#7bd87b"/>
<circle cx="286.49" cy="55.72" r="1.76" fill="#7bd87b"/>
<circle cx="287.63" cy="50.69" r="1.59" fill="#7bd87b"/>
<circle cx="291.50" cy="50.57" r="1.56" fill="#7bd87b"/>
<circle cx="283.52" cy="56.03" r="2.16" fill="#7bd87b"/>
<circle cx="302.91" cy="59.34" r="2.01" fill="#7bd87b"/>
<circle cx="300.80" cy="56.51" r="2.56" fill="#7bd87b"/>
<circle cx="298.91" cy="71.34" r="2.48" fill="#7bd87b"/>
<circle cx="276.55" cy="54.14" r="2.57" fill="#7bd87b"/>
<circle cx="285.90" cy="64.16" r="2.46" fill="#7bd87b"/>
<circle cx="278.54" cy="76.36" r="2.14" fill="#7bd87b"/>
<circle cx="276.75" cy="57.52" r="2.02" fill="#7bd87b"/>
<circle cx="279.16" cy="66.07" r="1.82" fill="#7bd87b"/>
<circle cx="291.94" cy="65.32" r="2.53" fill="#7bd87b"/>
<circle cx="299.74" cy="69.28" r="2.28" fill="#7bd87b"/>
<circle cx="295.45" cy="54.71" r="1.86" fill="#7bd87b"/>
<circle cx="289.35" cy="59.35" r="1.54" fill="#7bd87b"/>
<circle cx="277.10" cy="71.09" r="2.34" fill="#7bd87b"/>
<circle cx="296.21" cy="63.39" r="2.11" fill="#7bd87b"/>
<circle cx="294.63" cy="61.68" r="2.13" fill="#7bd87b"/>
</g>
</svg>
<svg x="259.6" y="205.7" width="52.2" height="52.1" viewBox="259.6 205.7 52.2 52.1" overflow="hidden">
<g filter="url(#gm)">
<rect x="259.60" y="205.70" width="52.20" height="52.10" fill="#000"/>
<path d="M272,203 L300,203 L298,240 L294,260 L278,260 L274,240 Z" fill="#3a3a3a" filter="url(#b2)"/>
<path d="M281,205 L292,205 L290,232 L283,232 Z" fill="#4a4a4a" filter="url(#b1)"/>
<rect x="276.00" y="205.70" width="2.60" height="10.00" fill="#808080" filter="url(#b05)"/>
<rect x="292.60" y="205.70" width="2.60" height="10.00" fill="#808080" filter="url(#b05)"/>
</g>
<g filter="url(#tex)">
<circle cx="282.06" cy="250.91" r="1.60" fill="#f57b7b"/>
<circle cx="286.18" cy="248.57" r="1.62" fill="#f57b7b"/>
<circle cx="290.77" cy="237.31" r="1.66" fill="#f57b7b"/>
<circle cx="291.40" cy="238.07" r="1.38" fill="#f57b7b"/>
<circle cx="285.53" cy="247.32" r="1.56" fill="#f57b7b"/>
<circle cx="283.52" cy="243.64" r="1.36" fill="#f57b7b"/>
<circle cx="288.08" cy="247.70" r="1.72" fill="#f57b7b"/>
<circle cx="285.65" cy="251.20" r="1.50" fill="#f57b7b"/>
<circle cx="290.43" cy="241.67" r="1.81" fill="#f57b7b"/>
<circle cx="292.58" cy="224.39" r="1.64" fill="#f57b7b"/>
<circle cx="282.37" cy="243.31" r="1.61" fill="#f57b7b"/>
<circle cx="285.46" cy="240.09" r="1.62" fill="#f57b7b"/>
<circle cx="280.12" cy="222.09" r="1.27" fill="#f57b7b"/>
<circle cx="286.62" cy="245.13" r="1.56" fill="#f57b7b"/>
<circle cx="291.73" cy="231.26" r="1.27" fill="#f57b7b"/>
<circle cx="282.03" cy="235.48" r="1.59" fill="#f57b7b"/>
<circle cx="283.87" cy="249.29" r="1.89" fill="#f57b7b"/>
<circle cx="282.96" cy="238.67" r="1.83" fill="#f57b7b"/>
<circle cx="290.69" cy="239.82" r="1.68" fill="#f57b7b"/>
<circle cx="288.25" cy="248.48" r="1.43" fill="#f57b7b"/>
<circle cx="289.63" cy="249.75" r="1.76" fill="#f57b7b"/>
<circle cx="287.10" cy="241.49" r="1.49" fill="#f57b7b"/>
<circle cx="280.20" cy="223.83" r="1.79" fill="#f57b7b"/>
<circle cx="281.50" cy="230.75" r="1.28" fill="#f57b7b"/>
<circle cx="284.99" cy="248.14" r="1.96" fill="#f57b7b"/>
<circle cx="291.24" cy="227.32" r="1.31" fill="#f57b7b"/>
<circle cx="285.74" cy="242.82" r="1.42" fill="#f57b7b"/>
<circle cx="279.80" cy="217.14" r="1.42" fill="#f57b7b"/>
<circle cx="279.88" cy="223.57" r="1.71" fill="#f57b7b"/>
<circle cx="289.98" cy="243.96" r="1.73" fill="#f57b7b"/>
<circle cx="291.71" cy="222.89" r="1.32" fill="#f57b7b"/>
<circle cx="287.98" cy="248.67" r="1.27" fill="#f57b7b"/>
<circle cx="285.37" cy="246.55" r="1.82" fill="#f57b7b"/>
<circle cx="291.43" cy="246.44" r="1.22" fill="#f57b7b"/>
<circle cx="291.69" cy="223.97" r="1.54" fill="#f57b7b"/>
<circle cx="280.35" cy="226.64" r="1.52" fill="#f57b7b"/>
<circle cx="281.88" cy="232.73" r="1.51" fill="#f57b7b"/>
<circle cx="287.17" cy="251.11" r="1.79" fill="#f57b7b"/>
<circle cx="287.15" cy="247.03" r="1.50" fill="#f57b7b"/>
<circle cx="280.89" cy="225.20" r="1.82" fill="#f57b7b"/>
<circle cx="280.34" cy="244.10" r="1.72" fill="#f57b7b"/>
<circle cx="281.70" cy="242.80" r="1.91" fill="#f57b7b"/>
<circle cx="289.86" cy="236.88" r="1.36" fill="#f57b7b"/>
<circle cx="284.23" cy="242.31" r="1.23" fill="#f57b7b"/>
<circle cx="281.77" cy="235.02" r="1.79" fill="#f57b7b"/>
<circle cx="287.09" cy="247.72" r="1.54" fill="#f57b7b"/>
<circle cx="283.16" cy="251.34" r="1.58" fill="#f57b7b"/>
<circle cx="292.72" cy="222.51" r="1.98" fill="#f57b7b"/>
<circle cx="291.31" cy="239.63" r="1.82" fill="#f57b7b"/>
<circle cx="290.70" cy="240.06" r="1.46" fill="#f57b7b"/>
<circle cx="284.38" cy="242.26" r="1.88" fill="#f57b7b"/>
<circle cx="281.61" cy="239.34" r="1.55" fill="#f57b7b"/>
<circle cx="290.95" cy="241.56" r="1.98" fill="#f57b7b"/>
<circle cx="291.74" cy="235.42" r="1.49" fill="#f57b7b"/>
<circle cx="289.53" cy="243.10" r="1.69" fill="#f57b7b"/>
<circle cx="282.28" cy="235.29" r="1.21" fill="#f57b7b"/>
<circle cx="280.64" cy="246.00" r="1.77" fill="#f57b7b"/>
<circle cx="281.79" cy="235.10" r="1.49" fill="#f57b7b"/>
<circle cx="292.13" cy="222.35" r="1.31" fill="#f57b7b"/>
<circle cx="287.39" cy="240.19" r="1.54" fill="#f57b7b"/>
<circle cx="288.44" cy="248.17" r="1.52" fill="#f57b7b"/>
<circle cx="280.30" cy="217.47" r="1.82" fill="#f57b7b"/>
<circle cx="280.43" cy="245.30" r="1.91" fill="#f57b7b"/>
<circle cx="282.15" cy="234.32" r="1.99" fill="#f57b7b"/>
<circle cx="291.53" cy="237.23" r="1.93" fill="#f57b7b"/>
<circle cx="283.23" cy="247.77" r="1.91" fill="#f57b7b"/>
<circle cx="280.74" cy="217.35" r="1.59" fill="#f57b7b"/>
<circle cx="284.30" cy="238.85" r="1.46" fill="#f57b7b"/>
<circle cx="289.82" cy="245.09" r="1.86" fill="#f57b7b"/>
<circle cx="288.18" cy="245.79" r="1.29" fill="#f57b7b"/>
<circle cx="281.32" cy="242.07" r="1.54" fill="#f57b7b"/>
<circle cx="281.05" cy="244.71" r="1.57" fill="#f57b7b"/>
<circle cx="281.89" cy="243.37" r="1.69" fill="#f57b7b"/>
<circle cx="287.90" cy="240.57" r="1.96" fill="#f57b7b"/>
<circle cx="284.56" cy="250.68" r="1.95" fill="#f57b7b"/>
<circle cx="288.32" cy="239.74" r="1.29" fill="#f57b7b"/>
<circle cx="282.21" cy="251.24" r="1.71" fill="#f57b7b"/>
<circle cx="281.16" cy="221.90" r="1.85" fill="#f57b7b"/>
<circle cx="292.29" cy="222.49" r="1.59" fill="#f57b7b"/>
<circle cx="280.93" cy="228.42" r="1.56" fill="#f57b7b"/>
<circle cx="290.68" cy="231.94" r="1.21" fill="#f57b7b"/>
<circle cx="285.13" cy="240.41" r="1.47" fill="#f57b7b"/>
<circle cx="289.41" cy="241.54" r="1.66" fill="#f57b7b"/>
<circle cx="280.71" cy="228.45" r="1.26" fill="#f57b7b"/>
<circle cx="291.94" cy="226.25" r="1.22" fill="#f57b7b"/>
<circle cx="280.09" cy="247.38" r="1.67" fill="#f57b7b"/>
<circle cx="280.67" cy="223.89" r="1.36" fill="#f57b7b"/>
<circle cx="280.26" cy="243.75" r="1.47" fill="#f57b7b"/>
<circle cx="292.13" cy="226.17" r="1.69" fill="#f57b7b"/>
<circle cx="280.70" cy="228.99" r="1.42" fill="#f57b7b"/>
<circle cx="291.51" cy="218.20" r="1.42" fill="#f57b7b"/>
<circle cx="285.36" cy="241.66" r="1.74" fill="#f57b7b"/>
<circle cx="287.70" cy="241.40" r="1.50" fill="#f57b7b"/>
<circle cx="284.76" cy="243.70" r="1.83" fill="#f57b7b"/>
<circle cx="291.13" cy="247.28" r="1.20" fill="#f57b7b"/>
<circle cx="281.22" cy="250.29" r="1.59" fill="#f57b7b"/>
<circle cx="289.25" cy="245.41" r="1.95" fill="#f57b7b"/>
<circle cx="287.89" cy="250.50" r="1.57" fill="#f57b7b"/>
<circle cx="290.85" cy="229.75" r="1.82" fill="#f57b7b"/>
<circle cx="291.21" cy="226.88" r="1.97" fill="#f57b7b"/>
<circle cx="282.19" cy="238.25" r="1.31" fill="#f57b7b"/>
<circle cx="284.69" cy="244.07" r="1.37" fill="#f57b7b"/>
<circle cx="282.34" cy="234.74" r="1.40" fill="#f57b7b"/>
<circle cx="280.66" cy="243.09" r="1.38" fill="#f57b7b"/>
<circle cx="290.37" cy="242.35" r="1.68" fill="#f57b7b"/>
<circle cx="282.99" cy="242.88" r="1.41" fill="#f57b7b"/>
<circle cx="283.43" cy="241.95" r="1.86" fill="#f57b7b"/>
<circle cx="283.47" cy="246.09" r="1.52" fill="#f57b7b"/>
<circle cx="283.81" cy="248.83" r="1.85" fill="#f57b7b"/>
<circle cx="290.87" cy="230.60" r="1.24" fill="#f57b7b"/>
<circle cx="282.04" cy="236.12" r="1.45" fill="#f57b7b"/>
<circle cx="290.98" cy="238.70" r="1.86" fill="#f57b7b"/>
<circle cx="286.30" cy="248.77" r="1.70" fill="#f57b7b"/>
<circle cx="285.53" cy="239.64" r="1.46" fill="#f57b7b"/>
<circle cx="282.08" cy="239.66" r="1.63" fill="#f57b7b"/>
<circle cx="281.48" cy="250.16" r="1.92" fill="#f57b7b"/>
<circle cx="280.56" cy="245.20" r="1.26" fill="#f57b7b"/>
<circle cx="287.63" cy="243.31" r="1.92" fill="#f57b7b"/>
<circle cx="279.58" cy="220.79" r="1.50" fill="#f57b7b"/>
<circle cx="288.17" cy="241.76" r="1.75" fill="#f57b7b"/>
<circle cx="282.44" cy="243.13" r="1.86" fill="#f57b7b"/>
<circle cx="286.94" cy="251.44" r="1.44" fill="#f57b7b"/>
<circle cx="291.22" cy="227.79" r="1.80" fill="#f57b7b"/>
<circle cx="291.97" cy="220.66" r="1.28" fill="#f57b7b"/>
<circle cx="286.30" cy="240.98" r="1.71" fill="#f57b7b"/>
<circle cx="285.31" cy="239.89" r="1.38" fill="#f57b7b"/>
<circle cx="286.01" cy="252.08" r="1.51" fill="#f57b7b"/>
<circle cx="285.84" cy="252.40" r="1.60" fill="#f57b7b"/>
<circle cx="292.17" cy="226.44" r="1.86" fill="#f57b7b"/>
<circle cx="292.75" cy="218.52" r="1.87" fill="#f57b7b"/>
</g>
</svg>
<line x1="322.70" y1="57.40" x2="338.20" y2="57.40" stroke="#1818f0" stroke-width="1.8"/>
<text x="341.2" y="61.6" font-size="10.98" fill="#1e1e1e">Two-exponential Tail fit</text>
<text x="321.2" y="76.6" font-size="9.85" fill="#1e1e1e">Flipper-TR lifetime = 5.546 ns</text>
<text x="321.5" y="88.1" font-size="9.85" fill="#1e1e1e">Adj-R<tspan font-size="8.47" dy="-3.4">2</tspan><tspan dy="3.4"> = 0.966</tspan></text>
<line x1="318.80" y1="219.00" x2="334.30" y2="219.00" stroke="#1818f0" stroke-width="1.8"/>
<text x="337.2" y="222.6" font-size="11.08" fill="#1e1e1e">Two-exponential Tail fit</text>
<text x="318.0" y="235.7" font-size="9.87" fill="#1e1e1e">Flipper-TR lifetime = 5.421 ns</text>
<text x="318.8" y="247.5" font-size="9.87" fill="#1e1e1e">Adj-R<tspan font-size="8.49" dy="-3.4">2</tspan><tspan dy="3.4"> = 0.950</tspan></text>
<text x="453.1" y="12.4" font-size="17.5" font-weight="bold" fill="#111">(c)</text>
<line x1="520.50" y1="38.01" x2="520.50" y2="151.20" stroke="#000" stroke-width="1.2"/>
<line x1="519.90" y1="150.60" x2="594.70" y2="150.60" stroke="#000" stroke-width="1.2"/>
<line x1="520.50" y1="150.60" x2="525.10" y2="150.60" stroke="#000" stroke-width="1"/>
<line x1="520.50" y1="143.13" x2="523.30" y2="143.13" stroke="#000" stroke-width="1"/>
<line x1="520.50" y1="135.67" x2="523.30" y2="135.67" stroke="#000" stroke-width="1"/>
<line x1="520.50" y1="128.20" x2="523.30" y2="128.20" stroke="#000" stroke-width="1"/>
<line x1="520.50" y1="120.74" x2="523.30" y2="120.74" stroke="#000" stroke-width="1"/>
<line x1="520.50" y1="113.27" x2="525.10" y2="113.27" stroke="#000" stroke-width="1"/>
<line x1="520.50" y1="105.80" x2="523.30" y2="105.80" stroke="#000" stroke-width="1"/>
<line x1="520.50" y1="98.34" x2="523.30" y2="98.34" stroke="#000" stroke-width="1"/>
<line x1="520.50" y1="90.87" x2="523.30" y2="90.87" stroke="#000" stroke-width="1"/>
<line x1="520.50" y1="83.41" x2="523.30" y2="83.41" stroke="#000" stroke-width="1"/>
<line x1="520.50" y1="75.94" x2="525.10" y2="75.94" stroke="#000" stroke-width="1"/>
<line x1="520.50" y1="68.47" x2="523.30" y2="68.47" stroke="#000" stroke-width="1"/>
<line x1="520.50" y1="61.01" x2="523.30" y2="61.01" stroke="#000" stroke-width="1"/>
<line x1="520.50" y1="53.54" x2="523.30" y2="53.54" stroke="#000" stroke-width="1"/>
<line x1="520.50" y1="46.08" x2="523.30" y2="46.08" stroke="#000" stroke-width="1"/>
<line x1="520.50" y1="38.61" x2="525.10" y2="38.61" stroke="#000" stroke-width="1"/>
<text x="508.5" y="154.8" font-size="11.8" text-anchor="end" fill="#1e1e1e">4</text>
<text x="508.5" y="117.5" font-size="11.8" text-anchor="end" fill="#1e1e1e">5</text>
<text x="508.5" y="80.1" font-size="11.8" text-anchor="end" fill="#1e1e1e">6</text>
<text x="508.5" y="42.8" font-size="11.8" text-anchor="end" fill="#1e1e1e">7</text>
<line x1="541.10" y1="150.60" x2="541.10" y2="153.80" stroke="#000" stroke-width="1"/>
<line x1="573.20" y1="150.60" x2="573.20" y2="153.80" stroke="#000" stroke-width="1"/>
<text x="525.8" y="166.5" font-size="12.18" fill="#1e1e1e">Front</text>
<text x="557.9" y="166.5" font-size="12.85" fill="#1e1e1e">Rear</text>
<text x="488.2" y="165.4" font-size="14.73" fill="#1e1e1e" transform="rotate(-90 488.206 165.378)">Flipper-TR lifetime (ns)</text>
<path d="M541.2,49.3 L541.2,41.6 L572.3,41.6 L572.3,70.3" fill="none" stroke="#111" stroke-width="1.1"/>
<text x="546.2" y="42.4" font-size="12.82" font-weight="bold" fill="#111">****</text>
<g stroke="#a9a9a9" stroke-width="0.6">
<line x1="541.10" y1="57.28" x2="573.20" y2="84.15" stroke="#a9a9a9" stroke-width="0.6"/>
<line x1="541.10" y1="65.49" x2="573.20" y2="109.54" stroke="#a9a9a9" stroke-width="0.6"/>
<line x1="541.10" y1="70.34" x2="573.20" y2="103.94" stroke="#a9a9a9" stroke-width="0.6"/>
<line x1="541.10" y1="78.55" x2="573.20" y2="82.66" stroke="#a9a9a9" stroke-width="0.6"/>
<line x1="541.10" y1="80.42" x2="573.20" y2="107.67" stroke="#a9a9a9" stroke-width="0.6"/>
<line x1="541.10" y1="83.41" x2="573.20" y2="87.14" stroke="#a9a9a9" stroke-width="0.6"/>
<line x1="541.10" y1="84.15" x2="573.20" y2="90.87" stroke="#a9a9a9" stroke-width="0.6"/>
<line x1="541.10" y1="86.39" x2="573.20" y2="89.01" stroke="#a9a9a9" stroke-width="0.6"/>
<line x1="541.10" y1="87.14" x2="573.20" y2="94.60" stroke="#a9a9a9" stroke-width="0.6"/>
<line x1="541.10" y1="88.63" x2="573.20" y2="113.27" stroke="#a9a9a9" stroke-width="0.6"/>
<line x1="541.10" y1="90.13" x2="573.20" y2="92.74" stroke="#a9a9a9" stroke-width="0.6"/>
<line x1="541.10" y1="90.87" x2="573.20" y2="98.34" stroke="#a9a9a9" stroke-width="0.6"/>
<line x1="541.10" y1="91.62" x2="573.20" y2="96.47" stroke="#a9a9a9" stroke-width="0.6"/>
<line x1="541.10" y1="92.74" x2="573.20" y2="102.07" stroke="#a9a9a9" stroke-width="0.6"/>
<line x1="541.10" y1="93.49" x2="573.20" y2="100.20" stroke="#a9a9a9" stroke-width="0.6"/>
<line x1="541.10" y1="94.60" x2="573.20" y2="83.41" stroke="#a9a9a9" stroke-width="0.6"/>
<line x1="541.10" y1="95.35" x2="573.20" y2="105.80" stroke="#a9a9a9" stroke-width="0.6"/>
<line x1="541.10" y1="96.47" x2="573.20" y2="99.08" stroke="#a9a9a9" stroke-width="0.6"/>
<line x1="541.10" y1="97.59" x2="573.20" y2="109.54" stroke="#a9a9a9" stroke-width="0.6"/>
<line x1="541.10" y1="98.34" x2="573.20" y2="102.82" stroke="#a9a9a9" stroke-width="0.6"/>
<line x1="541.10" y1="99.46" x2="573.20" y2="114.02" stroke="#a9a9a9" stroke-width="0.6"/>
<line x1="541.10" y1="100.20" x2="573.20" y2="97.59" stroke="#a9a9a9" stroke-width="0.6"/>
<line x1="541.10" y1="101.32" x2="573.20" y2="111.40" stroke="#a9a9a9" stroke-width="0.6"/>
<line x1="541.10" y1="102.07" x2="573.20" y2="108.79" stroke="#a9a9a9" stroke-width="0.6"/>
<line x1="541.10" y1="102.82" x2="573.20" y2="100.95" stroke="#a9a9a9" stroke-width="0.6"/>
<line x1="541.10" y1="103.94" x2="573.20" y2="106.55" stroke="#a9a9a9" stroke-width="0.6"/>
<line x1="541.10" y1="105.06" x2="573.20" y2="113.27" stroke="#a9a9a9" stroke-width="0.6"/>
<line x1="541.10" y1="105.80" x2="573.20" y2="103.94" stroke="#a9a9a9" stroke-width="0.6"/>
<line x1="541.10" y1="106.55" x2="573.20" y2="115.14" stroke="#a9a9a9" stroke-width="0.6"/>
<line x1="541.10" y1="107.67" x2="573.20" y2="111.40" stroke="#a9a9a9" stroke-width="0.6"/>
<line x1="541.10" y1="108.79" x2="573.20" y2="105.06" stroke="#a9a9a9" stroke-width="0.6"/>
<line x1="541.10" y1="113.27" x2="573.20" y2="113.64" stroke="#a9a9a9" stroke-width="0.6"/>
<line x1="541.10" y1="121.48" x2="573.20" y2="133.80" stroke="#a9a9a9" stroke-width="0.6"/>
<line x1="541.10" y1="79.67" x2="573.20" y2="90.13" stroke="#a9a9a9" stroke-width="0.6"/>
<line x1="541.10" y1="85.27" x2="573.20" y2="95.35" stroke="#a9a9a9" stroke-width="0.6"/>
<line x1="541.10" y1="93.86" x2="573.20" y2="102.07" stroke="#a9a9a9" stroke-width="0.6"/>
<line x1="541.10" y1="100.58" x2="573.20" y2="107.67" stroke="#a9a9a9" stroke-width="0.6"/>
<line x1="541.10" y1="103.56" x2="573.20" y2="110.28" stroke="#a9a9a9" stroke-width="0.6"/>
</g>
<circle cx="541.10" cy="57.28" r="2.20" fill="#3aa655"/>
<circle cx="541.10" cy="65.49" r="2.20" fill="#3aa655"/>
<circle cx="541.10" cy="70.34" r="2.20" fill="#3aa655"/>
<circle cx="541.10" cy="78.55" r="2.20" fill="#3aa655"/>
<circle cx="541.10" cy="80.42" r="2.20" fill="#3aa655"/>
<circle cx="541.10" cy="83.41" r="2.20" fill="#3aa655"/>
<circle cx="541.10" cy="84.15" r="2.20" fill="#3aa655"/>
<circle cx="541.10" cy="86.39" r="2.20" fill="#3aa655"/>
<circle cx="541.10" cy="87.14" r="2.20" fill="#3aa655"/>
<circle cx="541.10" cy="88.63" r="2.20" fill="#3aa655"/>
<circle cx="541.10" cy="90.13" r="2.20" fill="#3aa655"/>
<circle cx="541.10" cy="90.87" r="2.20" fill="#3aa655"/>
<circle cx="541.10" cy="91.62" r="2.20" fill="#3aa655"/>
<circle cx="541.10" cy="92.74" r="2.20" fill="#3aa655"/>
<circle cx="541.10" cy="93.49" r="2.20" fill="#3aa655"/>
<circle cx="541.10" cy="94.60" r="2.20" fill="#3aa655"/>
<circle cx="541.10" cy="95.35" r="2.20" fill="#3aa655"/>
<circle cx="541.10" cy="96.47" r="2.20" fill="#3aa655"/>
<circle cx="541.10" cy="97.59" r="2.20" fill="#3aa655"/>
<circle cx="541.10" cy="98.34" r="2.20" fill="#3aa655"/>
<circle cx="541.10" cy="99.46" r="2.20" fill="#3aa655"/>
<circle cx="541.10" cy="100.20" r="2.20" fill="#3aa655"/>
<circle cx="541.10" cy="101.32" r="2.20" fill="#3aa655"/>
<circle cx="541.10" cy="102.07" r="2.20" fill="#3aa655"/>
<circle cx="541.10" cy="102.82" r="2.20" fill="#3aa655"/>
<circle cx="541.10" cy="103.94" r="2.20" fill="#3aa655"/>
<circle cx="541.10" cy="105.06" r="2.20" fill="#3aa655"/>
<circle cx="541.10" cy="105.80" r="2.20" fill="#3aa655"/>
<circle cx="541.10" cy="106.55" r="2.20" fill="#3aa655"/>
<circle cx="541.10" cy="107.67" r="2.20" fill="#3aa655"/>
<circle cx="541.10" cy="108.79" r="2.20" fill="#3aa655"/>
<circle cx="541.10" cy="113.27" r="2.20" fill="#3aa655"/>
<circle cx="541.10" cy="121.48" r="2.20" fill="#3aa655"/>
<circle cx="541.10" cy="79.67" r="2.20" fill="#3aa655"/>
<circle cx="541.10" cy="85.27" r="2.20" fill="#3aa655"/>
<circle cx="541.10" cy="93.86" r="2.20" fill="#3aa655"/>
<circle cx="541.10" cy="100.58" r="2.20" fill="#3aa655"/>
<circle cx="541.10" cy="103.56" r="2.20" fill="#3aa655"/>
<circle cx="573.20" cy="84.15" r="2.20" fill="#e8262e"/>
<circle cx="573.20" cy="109.54" r="2.20" fill="#e8262e"/>
<circle cx="573.20" cy="103.94" r="2.20" fill="#e8262e"/>
<circle cx="573.20" cy="82.66" r="2.20" fill="#e8262e"/>
<circle cx="573.20" cy="107.67" r="2.20" fill="#e8262e"/>
<circle cx="573.20" cy="87.14" r="2.20" fill="#e8262e"/>
<circle cx="573.20" cy="90.87" r="2.20" fill="#e8262e"/>
<circle cx="573.20" cy="89.01" r="2.20" fill="#e8262e"/>
<circle cx="573.20" cy="94.60" r="2.20" fill="#e8262e"/>
<circle cx="573.20" cy="113.27" r="2.20" fill="#e8262e"/>
<circle cx="573.20" cy="92.74" r="2.20" fill="#e8262e"/>
<circle cx="573.20" cy="98.34" r="2.20" fill="#e8262e"/>
<circle cx="573.20" cy="96.47" r="2.20" fill="#e8262e"/>
<circle cx="573.20" cy="102.07" r="2.20" fill="#e8262e"/>
<circle cx="573.20" cy="100.20" r="2.20" fill="#e8262e"/>
<circle cx="573.20" cy="83.41" r="2.20" fill="#e8262e"/>
<circle cx="573.20" cy="105.80" r="2.20" fill="#e8262e"/>
<circle cx="573.20" cy="99.08" r="2.20" fill="#e8262e"/>
<circle cx="573.20" cy="109.54" r="2.20" fill="#e8262e"/>
<circle cx="573.20" cy="102.82" r="2.20" fill="#e8262e"/>
<circle cx="573.20" cy="114.02" r="2.20" fill="#e8262e"/>
<circle cx="573.20" cy="97.59" r="2.20" fill="#e8262e"/>
<circle cx="573.20" cy="111.40" r="2.20" fill="#e8262e"/>
<circle cx="573.20" cy="108.79" r="2.20" fill="#e8262e"/>
<circle cx="573.20" cy="100.95" r="2.20" fill="#e8262e"/>
<circle cx="573.20" cy="106.55" r="2.20" fill="#e8262e"/>
<circle cx="573.20" cy="113.27" r="2.20" fill="#e8262e"/>
<circle cx="573.20" cy="103.94" r="2.20" fill="#e8262e"/>
<circle cx="573.20" cy="115.14" r="2.20" fill="#e8262e"/>
<circle cx="573.20" cy="111.40" r="2.20" fill="#e8262e"/>
<circle cx="573.20" cy="105.06" r="2.20" fill="#e8262e"/>
<circle cx="573.20" cy="113.64" r="2.20" fill="#e8262e"/>
<circle cx="573.20" cy="133.80" r="2.20" fill="#e8262e"/>
<circle cx="573.20" cy="90.13" r="2.20" fill="#e8262e"/>
<circle cx="573.20" cy="95.35" r="2.20" fill="#e8262e"/>
<circle cx="573.20" cy="102.07" r="2.20" fill="#e8262e"/>
<circle cx="573.20" cy="107.67" r="2.20" fill="#e8262e"/>
<circle cx="573.20" cy="110.28" r="2.20" fill="#e8262e"/>
<text x="452.6" y="186.3" font-size="17.5" font-weight="bold" fill="#111">(d)</text>
<line x1="519.60" y1="234.70" x2="599.50" y2="234.70" stroke="#c4c4c4" stroke-width="0.8" stroke-dasharray="2 1.2"/>
<line x1="519.60" y1="263.90" x2="599.50" y2="263.90" stroke="#c4c4c4" stroke-width="0.8" stroke-dasharray="2 1.2"/>
<line x1="519.60" y1="293.10" x2="596.70" y2="293.10" stroke="#333" stroke-width="1"/>
<line x1="519.60" y1="204.90" x2="519.60" y2="322.90" stroke="#000" stroke-width="1.2"/>
<line x1="519.00" y1="322.30" x2="597.20" y2="322.30" stroke="#000" stroke-width="1.2"/>
<line x1="519.60" y1="322.30" x2="524.20" y2="322.30" stroke="#000" stroke-width="1"/>
<line x1="519.60" y1="316.46" x2="522.40" y2="316.46" stroke="#000" stroke-width="1"/>
<line x1="519.60" y1="310.62" x2="522.40" y2="310.62" stroke="#000" stroke-width="1"/>
<line x1="519.60" y1="304.78" x2="522.40" y2="304.78" stroke="#000" stroke-width="1"/>
<line x1="519.60" y1="298.94" x2="522.40" y2="298.94" stroke="#000" stroke-width="1"/>
<line x1="519.60" y1="293.10" x2="524.20" y2="293.10" stroke="#000" stroke-width="1"/>
<line x1="519.60" y1="287.26" x2="522.40" y2="287.26" stroke="#000" stroke-width="1"/>
<line x1="519.60" y1="281.42" x2="522.40" y2="281.42" stroke="#000" stroke-width="1"/>
<line x1="519.60" y1="275.58" x2="522.40" y2="275.58" stroke="#000" stroke-width="1"/>
<line x1="519.60" y1="269.74" x2="522.40" y2="269.74" stroke="#000" stroke-width="1"/>
<line x1="519.60" y1="263.90" x2="524.20" y2="263.90" stroke="#000" stroke-width="1"/>
<line x1="519.60" y1="258.06" x2="522.40" y2="258.06" stroke="#000" stroke-width="1"/>
<line x1="519.60" y1="252.22" x2="522.40" y2="252.22" stroke="#000" stroke-width="1"/>
<line x1="519.60" y1="246.38" x2="522.40" y2="246.38" stroke="#000" stroke-width="1"/>
<line x1="519.60" y1="240.54" x2="522.40" y2="240.54" stroke="#000" stroke-width="1"/>
<line x1="519.60" y1="234.70" x2="524.20" y2="234.70" stroke="#000" stroke-width="1"/>
<line x1="519.60" y1="228.86" x2="522.40" y2="228.86" stroke="#000" stroke-width="1"/>
<line x1="519.60" y1="223.02" x2="522.40" y2="223.02" stroke="#000" stroke-width="1"/>
<line x1="519.60" y1="217.18" x2="522.40" y2="217.18" stroke="#000" stroke-width="1"/>
<line x1="519.60" y1="211.34" x2="522.40" y2="211.34" stroke="#000" stroke-width="1"/>
<line x1="519.60" y1="205.50" x2="524.20" y2="205.50" stroke="#000" stroke-width="1"/>
<text x="511.6" y="209.8" font-size="12.2" text-anchor="end" fill="#1e1e1e">1.5</text>
<text x="511.6" y="239.0" font-size="12.2" text-anchor="end" fill="#1e1e1e">1.0</text>
<text x="511.6" y="268.2" font-size="12.2" text-anchor="end" fill="#1e1e1e">0.5</text>
<text x="511.6" y="297.4" font-size="12.2" text-anchor="end" fill="#1e1e1e">0</text>
<text x="511.6" y="326.6" font-size="12.2" text-anchor="end" fill="#1e1e1e">- 0.5</text>
<line x1="557.90" y1="322.30" x2="557.90" y2="325.80" stroke="#000" stroke-width="1"/>
<text x="515.0" y="338.7" font-size="12.28" fill="#1e1e1e">Δ (Front - Rear)</text>
<text x="487.3" y="335.2" font-size="15.07" fill="#1e1e1e" transform="rotate(-90 487.344 335.206)">Lifetime difference (ns)</text>
<circle cx="557.90" cy="218.93" r="2.30" fill="#0ca2f2"/>
<circle cx="557.90" cy="231.78" r="2.30" fill="#0ca2f2"/>
<circle cx="557.90" cy="263.90" r="2.30" fill="#0ca2f2"/>
<circle cx="557.90" cy="265.07" r="2.30" fill="#0ca2f2"/>
<circle cx="557.90" cy="266.82" r="2.30" fill="#0ca2f2"/>
<circle cx="557.90" cy="269.16" r="2.30" fill="#0ca2f2"/>
<circle cx="557.90" cy="271.49" r="2.30" fill="#0ca2f2"/>
<circle cx="557.90" cy="273.24" r="2.30" fill="#0ca2f2"/>
<circle cx="557.90" cy="275.58" r="2.30" fill="#0ca2f2"/>
<circle cx="557.90" cy="277.33" r="2.30" fill="#0ca2f2"/>
<circle cx="557.90" cy="279.08" r="2.30" fill="#0ca2f2"/>
<circle cx="557.90" cy="281.42" r="2.30" fill="#0ca2f2"/>
<circle cx="557.90" cy="283.17" r="2.30" fill="#0ca2f2"/>
<circle cx="557.90" cy="284.92" r="2.30" fill="#0ca2f2"/>
<circle cx="557.90" cy="286.68" r="2.30" fill="#0ca2f2"/>
<circle cx="557.90" cy="288.43" r="2.30" fill="#0ca2f2"/>
<circle cx="557.90" cy="290.18" r="2.30" fill="#0ca2f2"/>
<circle cx="557.90" cy="291.93" r="2.30" fill="#0ca2f2"/>
<circle cx="557.90" cy="293.68" r="2.30" fill="#0ca2f2"/>
<circle cx="557.90" cy="295.44" r="2.30" fill="#0ca2f2"/>
<circle cx="557.90" cy="297.19" r="2.30" fill="#0ca2f2"/>
<circle cx="557.90" cy="298.94" r="2.30" fill="#0ca2f2"/>
<circle cx="557.90" cy="300.11" r="2.30" fill="#0ca2f2"/>
<text x="-1.0" y="403.0" font-size="17.5" font-weight="bold" fill="#111">(e)</text>
<text x="57.0" y="426.0" font-size="14.77" fill="#1e1e1e">Flipper-TR intensity counts</text>
<text x="57.9" y="449.5" font-size="15.45" fill="#1e1e1e">Iso</text>
<text x="185.1" y="449.9" font-size="15" fill="#1e1e1e">Hypo</text>
<svg x="11" y="454.1" width="129.5" height="181.5" viewBox="11 454.1 129.5 181.5" overflow="hidden">
<g filter="url(#vm)">
<rect x="11.00" y="454.10" width="129.50" height="181.50" fill="#000"/>
<path d="M58.5,489.0 C59.4,487.3 59.8,486.3 62.0,485.6 C64.2,484.9 66.9,484.6 72.0,485.0 C77.1,485.4 86.9,486.7 92.6,488.2 C98.3,489.7 102.9,491.7 106.0,494.0 C109.1,496.3 110.3,499.3 111.0,502.0 C111.7,504.7 111.8,507.5 110.0,510.0 C108.2,512.5 102.2,514.7 100.0,517.0 C97.8,519.3 97.3,521.0 97.0,524.0 C96.7,527.0 97.6,531.5 98.0,535.0 C98.4,538.5 99.4,541.5 99.5,545.0 C99.6,548.5 99.1,552.5 98.5,556.0 C97.9,559.5 96.8,562.3 96.0,566.0 C95.2,569.7 94.5,573.7 94.0,578.0 C93.5,582.3 93.8,587.8 93.0,592.0 C92.2,596.2 91.2,600.4 89.0,603.0 C86.8,605.6 83.2,606.8 80.0,607.5 C76.8,608.2 72.7,608.4 70.0,607.5 C67.3,606.6 65.7,604.6 64.0,602.0 C62.3,599.4 61.2,595.7 60.0,592.0 C58.8,588.3 58.2,583.7 57.0,580.0 C55.8,576.3 54.1,573.8 53.0,570.0 C51.9,566.2 50.8,561.2 50.5,557.0 C50.2,552.8 51.6,549.0 51.5,545.0 C51.4,541.0 49.8,536.5 50.0,533.0 C50.2,529.5 51.8,526.8 53.0,524.0 C54.2,521.2 56.3,519.2 57.0,516.0 C57.7,512.8 57.0,508.3 57.0,505.0 C57.0,501.7 56.5,498.7 56.8,496.0 C57.0,493.3 57.6,490.7 58.5,489.0 Z" fill="#181818" filter="url(#b2)"/>
<path d="M66,606 L80,606 L80,636 L64,636 Z" fill="#141414" filter="url(#b2)"/>
<path d="M58.5,489.0 C59.4,487.3 59.8,486.3 62.0,485.6 C64.2,484.9 66.9,484.6 72.0,485.0 C77.1,485.4 86.9,486.7 92.6,488.2 C98.3,489.7 102.9,491.7 106.0,494.0 C109.1,496.3 110.3,499.3 111.0,502.0 C111.7,504.7 111.8,507.5 110.0,510.0 C108.2,512.5 102.2,514.7 100.0,517.0 C97.8,519.3 97.3,521.0 97.0,524.0 C96.7,527.0 97.6,531.5 98.0,535.0 C98.4,538.5 99.4,541.5 99.5,545.0 C99.6,548.5 99.1,552.5 98.5,556.0 C97.9,559.5 96.8,562.3 96.0,566.0 C95.2,569.7 94.5,573.7 94.0,578.0 C93.5,582.3 93.8,587.8 93.0,592.0 C92.2,596.2 91.2,600.4 89.0,603.0 C86.8,605.6 83.2,606.8 80.0,607.5 C76.8,608.2 72.7,608.4 70.0,607.5 C67.3,606.6 65.7,604.6 64.0,602.0 C62.3,599.4 61.2,595.7 60.0,592.0 C58.8,588.3 58.2,583.7 57.0,580.0 C55.8,576.3 54.1,573.8 53.0,570.0 C51.9,566.2 50.8,561.2 50.5,557.0 C50.2,552.8 51.6,549.0 51.5,545.0 C51.4,541.0 49.8,536.5 50.0,533.0 C50.2,529.5 51.8,526.8 53.0,524.0 C54.2,521.2 56.3,519.2 57.0,516.0 C57.7,512.8 57.0,508.3 57.0,505.0 C57.0,501.7 56.5,498.7 56.8,496.0 C57.0,493.3 57.6,490.7 58.5,489.0 Z" fill="#3c3c3c" filter="url(#b05)"/>
<ellipse cx="74" cy="562" rx="21" ry="36" fill="#606060" filter="url(#b3)"/>
<path d="M60,492 L92,492 L106,500 L106,508 L96,514 L62,512 Z" fill="#2a2a2a" filter="url(#b2)"/>
<ellipse cx="68" cy="546" rx="14" ry="21" fill="#8a8a8a" filter="url(#b3)"/>
</g>
<g filter="url(#vm2)">
<ellipse cx="67" cy="545" rx="10.5" ry="17" fill="#f0f0f0" filter="url(#b1)"/>
<ellipse cx="77" cy="552" rx="7" ry="11" fill="#b0b0b0" filter="url(#b2)"/>
<path d="M58.5,489.0 C59.4,487.3 59.8,486.3 62.0,485.6 C64.2,484.9 66.9,484.6 72.0,485.0 C77.1,485.4 86.9,486.7 92.6,488.2 C98.3,489.7 102.9,491.7 106.0,494.0 C109.1,496.3 110.3,499.3 111.0,502.0 C111.7,504.7 111.8,507.5 110.0,510.0 C108.2,512.5 102.2,514.7 100.0,517.0 C97.8,519.3 97.3,521.0 97.0,524.0 C96.7,527.0 97.6,531.5 98.0,535.0 C98.4,538.5 99.4,541.5 99.5,545.0 C99.6,548.5 99.1,552.5 98.5,556.0 C97.9,559.5 96.8,562.3 96.0,566.0 C95.2,569.7 94.5,573.7 94.0,578.0 C93.5,582.3 93.8,587.8 93.0,592.0 C92.2,596.2 91.2,600.4 89.0,603.0 C86.8,605.6 83.2,606.8 80.0,607.5 C76.8,608.2 72.7,608.4 70.0,607.5 C67.3,606.6 65.7,604.6 64.0,602.0 C62.3,599.4 61.2,595.7 60.0,592.0 C58.8,588.3 58.2,583.7 57.0,580.0 C55.8,576.3 54.1,573.8 53.0,570.0 C51.9,566.2 50.8,561.2 50.5,557.0 C50.2,552.8 51.6,549.0 51.5,545.0 C51.4,541.0 49.8,536.5 50.0,533.0 C50.2,529.5 51.8,526.8 53.0,524.0 C54.2,521.2 56.3,519.2 57.0,516.0 C57.7,512.8 57.0,508.3 57.0,505.0 C57.0,501.7 56.5,498.7 56.8,496.0 C57.0,493.3 57.6,490.7 58.5,489.0 Z" fill="none" stroke="#8c8c8c" stroke-width="1.2" filter="url(#b05)"/>
<path d="M57.5,499 L57.5,486.3 L76,485.4" fill="none" stroke="#ffffff" stroke-width="1.5" filter="url(#b05)"/>
<path d="M92.6,488.2 L109.1,496.4 L112.2,505.7 L109.1,511.9" fill="none" stroke="#d8d8d8" stroke-width="1.2" filter="url(#b05)"/>
<path d="M60,516 Q78,512 96,520" fill="none" stroke="#707070" stroke-width="1.1" filter="url(#b05)"/>
<circle cx="54" cy="548" r="3" fill="none" stroke="#606060" stroke-width="0.9" filter="url(#b05)"/>
<circle cx="56" cy="578" r="3.5" fill="none" stroke="#606060" stroke-width="0.9" filter="url(#b05)"/>
<circle cx="96" cy="560" r="3" fill="none" stroke="#606060" stroke-width="0.9" filter="url(#b05)"/>
<path d="M60,590 L62,600 M86,600 L92,590" stroke="#e0e0e0" stroke-width="1.2" filter="url(#b05)"/>
</g></svg>
<svg x="142.5" y="454.1" width="129.5" height="181.5" viewBox="142.5 454.1 129.5 181.5" overflow="hidden">
<g filter="url(#vm)">
<rect x="142.50" y="454.10" width="129.50" height="181.50" fill="#000"/>
<path d="M189.5,486.1 C191.9,482.2 197.1,482.2 201.9,482.0 C206.7,481.8 212.9,483.2 218.4,485.1 C223.9,487.0 230.9,490.6 235.0,493.4 C239.1,496.1 242.2,498.9 243.2,501.6 C244.2,504.4 243.3,507.1 241.2,509.9 C239.1,512.6 232.9,514.3 230.8,518.1 C228.7,521.9 229.0,527.8 228.8,532.6 C228.6,537.4 230.2,542.2 229.8,547.0 C229.5,551.8 227.6,557.0 226.7,561.5 C225.8,566.0 225.1,569.1 224.6,573.9 C224.1,578.7 224.6,585.9 223.6,590.4 C222.6,594.9 221.0,598.6 218.4,600.7 C215.8,602.8 211.5,603.5 208.1,602.8 C204.7,602.1 200.2,599.7 197.8,596.6 C195.4,593.5 195.1,588.7 193.7,584.2 C192.3,579.7 190.9,574.9 189.5,569.7 C188.1,564.5 186.4,557.7 185.4,553.2 C184.4,548.7 183.4,547.0 183.4,542.9 C183.4,538.8 185.4,533.2 185.4,528.4 C185.4,523.6 183.1,517.8 183.4,514.0 C183.8,510.2 186.5,510.3 187.5,505.7 C188.5,501.1 187.1,490.1 189.5,486.1 Z" fill="#181818" filter="url(#b2)"/>
<path d="M189.5,486.1 C191.9,482.2 197.1,482.2 201.9,482.0 C206.7,481.8 212.9,483.2 218.4,485.1 C223.9,487.0 230.9,490.6 235.0,493.4 C239.1,496.1 242.2,498.9 243.2,501.6 C244.2,504.4 243.3,507.1 241.2,509.9 C239.1,512.6 232.9,514.3 230.8,518.1 C228.7,521.9 229.0,527.8 228.8,532.6 C228.6,537.4 230.2,542.2 229.8,547.0 C229.5,551.8 227.6,557.0 226.7,561.5 C225.8,566.0 225.1,569.1 224.6,573.9 C224.1,578.7 224.6,585.9 223.6,590.4 C222.6,594.9 221.0,598.6 218.4,600.7 C215.8,602.8 211.5,603.5 208.1,602.8 C204.7,602.1 200.2,599.7 197.8,596.6 C195.4,593.5 195.1,588.7 193.7,584.2 C192.3,579.7 190.9,574.9 189.5,569.7 C188.1,564.5 186.4,557.7 185.4,553.2 C184.4,548.7 183.4,547.0 183.4,542.9 C183.4,538.8 185.4,533.2 185.4,528.4 C185.4,523.6 183.1,517.8 183.4,514.0 C183.8,510.2 186.5,510.3 187.5,505.7 C188.5,501.1 187.1,490.1 189.5,486.1 Z" fill="#303030" filter="url(#b05)"/>
<path d="M190,492 L218,489 L238,498 L240,508 L228,516 L192,508 Z" fill="#262626" filter="url(#b2)"/>
<ellipse cx="207" cy="544" rx="23" ry="25" fill="#686868" filter="url(#b2)"/>
<ellipse cx="208" cy="592" rx="12" ry="9" fill="#262626" filter="url(#b2)"/>
</g>
<g filter="url(#vm2)">
<ellipse cx="207" cy="544" rx="17.5" ry="19.5" fill="#ffffff" filter="url(#b1)"/>
<path d="M189.5,486.1 C191.9,482.2 197.1,482.2 201.9,482.0 C206.7,481.8 212.9,483.2 218.4,485.1 C223.9,487.0 230.9,490.6 235.0,493.4 C239.1,496.1 242.2,498.9 243.2,501.6 C244.2,504.4 243.3,507.1 241.2,509.9 C239.1,512.6 232.9,514.3 230.8,518.1 C228.7,521.9 229.0,527.8 228.8,532.6 C228.6,537.4 230.2,542.2 229.8,547.0 C229.5,551.8 227.6,557.0 226.7,561.5 C225.8,566.0 225.1,569.1 224.6,573.9 C224.1,578.7 224.6,585.9 223.6,590.4 C222.6,594.9 221.0,598.6 218.4,600.7 C215.8,602.8 211.5,603.5 208.1,602.8 C204.7,602.1 200.2,599.7 197.8,596.6 C195.4,593.5 195.1,588.7 193.7,584.2 C192.3,579.7 190.9,574.9 189.5,569.7 C188.1,564.5 186.4,557.7 185.4,553.2 C184.4,548.7 183.4,547.0 183.4,542.9 C183.4,538.8 185.4,533.2 185.4,528.4 C185.4,523.6 183.1,517.8 183.4,514.0 C183.8,510.2 186.5,510.3 187.5,505.7 C188.5,501.1 187.1,490.1 189.5,486.1 Z" fill="none" stroke="#a0a0a0" stroke-width="1.3" filter="url(#b05)"/>
<path d="M190,486 L202,482.3 L218.4,485.1 L235,493.4 L243,501.6" fill="none" stroke="#d8d8d8" stroke-width="1.3" filter="url(#b05)"/>
<path d="M190,512 Q205,506 230,519" fill="none" stroke="#808080" stroke-width="1.2" filter="url(#b05)"/>
<path d="M193,578 Q210,572 225,578" fill="none" stroke="#707070" stroke-width="1.2" filter="url(#b05)"/>
<path d="M200,594 L205,585 L211,579" fill="none" stroke="#f0f0f0" stroke-width="1.4" filter="url(#b05)"/>
<circle cx="186" cy="540" r="3" fill="none" stroke="#707070" stroke-width="1.0" filter="url(#b05)"/>
<circle cx="186" cy="520" r="3" fill="none" stroke="#707070" stroke-width="1.0" filter="url(#b05)"/>
<circle cx="229" cy="545" r="2.8" fill="none" stroke="#707070" stroke-width="1.0" filter="url(#b05)"/>
</g></svg>
<rect x="140.50" y="454.10" width="2.00" height="181.50" fill="#fff"/>
<text x="18.7" y="460.6" font-size="8.2" fill="#fff">10 <tspan font-style="italic">μ</tspan>m</text>
<rect x="20.70" y="462.80" width="24.00" height="2.10" fill="#fff"/>
<text x="128.0" y="466.4" font-size="8.5" fill="#fff">0</text>
<rect x="152.80" y="462.80" width="24.40" height="2.20" fill="#fff"/>
<polygon points="56.4,471.7 123.5,489.2 113.2,526.4 46.1,508.2" fill="none" stroke="#fff" stroke-width="1.3" stroke-dasharray="2.4 1.9"/>
<polygon points="188.5,468.2 254.6,490.9 244.3,524.7 177.2,501.6" fill="none" stroke="#fff" stroke-width="1.3" stroke-dasharray="2.4 1.9"/>
<rect x="55" y="580.5" width="44.8" height="31.5" fill="none" stroke="#fff" stroke-width="1.3" stroke-dasharray="2.4 1.9"/>
<rect x="187.5" y="576.3" width="44.4" height="32.7" fill="none" stroke="#fff" stroke-width="1.3" stroke-dasharray="2.4 1.9"/>
<text x="11.3" y="490.3" font-size="14.93" fill="#fff">Front</text>
<text x="144.6" y="484.1" font-size="14.84" fill="#fff">Front</text>
<text x="17.5" y="598.2" font-size="14.73" fill="#fff">Rear</text>
<text x="152.2" y="593.5" font-size="14.69" fill="#fff">Rear</text>
<rect x="25.30" y="641.70" width="218.70" height="9.30" fill="url(#vir)"/>
<text x="9.7" y="650.7" font-size="12.92" fill="#1e1e1e">0</text>
<text x="250.8" y="650.7" font-size="12.89" fill="#1e1e1e">234</text>
<text x="304.9" y="403.0" font-size="17.5" font-weight="bold" fill="#111">(f)</text>
<text x="360.3" y="443.9" font-size="14.8" fill="#1e1e1e">Front</text>
<text x="454.9" y="444.2" font-size="15.07" fill="#1e1e1e">Rear</text>
<line x1="331.30" y1="515.95" x2="525.60" y2="515.95" stroke="#8a8a8a" stroke-width="0.9" stroke-dasharray="1 1.6"/>
<line x1="331.30" y1="554.40" x2="525.60" y2="554.40" stroke="#8a8a8a" stroke-width="0.9" stroke-dasharray="1 1.6"/>
<line x1="331.30" y1="592.85" x2="525.60" y2="592.85" stroke="#8a8a8a" stroke-width="0.9" stroke-dasharray="1 1.6"/>
<line x1="331.30" y1="476.90" x2="331.30" y2="631.90" stroke="#000" stroke-width="1.3"/>
<line x1="330.70" y1="631.30" x2="525.00" y2="631.30" stroke="#000" stroke-width="1.3"/>
<line x1="331.30" y1="631.30" x2="337.80" y2="631.30" stroke="#000" stroke-width="1.1"/>
<line x1="331.30" y1="623.61" x2="334.80" y2="623.61" stroke="#000" stroke-width="1.1"/>
<line x1="331.30" y1="615.92" x2="334.80" y2="615.92" stroke="#000" stroke-width="1.1"/>
<line x1="331.30" y1="608.23" x2="334.80" y2="608.23" stroke="#000" stroke-width="1.1"/>
<line x1="331.30" y1="600.54" x2="334.80" y2="600.54" stroke="#000" stroke-width="1.1"/>
<line x1="331.30" y1="592.85" x2="337.80" y2="592.85" stroke="#000" stroke-width="1.1"/>
<line x1="331.30" y1="585.16" x2="334.80" y2="585.16" stroke="#000" stroke-width="1.1"/>
<line x1="331.30" y1="577.47" x2="334.80" y2="577.47" stroke="#000" stroke-width="1.1"/>
<line x1="331.30" y1="569.78" x2="334.80" y2="569.78" stroke="#000" stroke-width="1.1"/>
<line x1="331.30" y1="562.09" x2="334.80" y2="562.09" stroke="#000" stroke-width="1.1"/>
<line x1="331.30" y1="554.40" x2="337.80" y2="554.40" stroke="#000" stroke-width="1.1"/>
<line x1="331.30" y1="546.71" x2="334.80" y2="546.71" stroke="#000" stroke-width="1.1"/>
<line x1="331.30" y1="539.02" x2="334.80" y2="539.02" stroke="#000" stroke-width="1.1"/>
<line x1="331.30" y1="531.33" x2="334.80" y2="531.33" stroke="#000" stroke-width="1.1"/>
<line x1="331.30" y1="523.64" x2="334.80" y2="523.64" stroke="#000" stroke-width="1.1"/>
<line x1="331.30" y1="515.95" x2="337.80" y2="515.95" stroke="#000" stroke-width="1.1"/>
<line x1="331.30" y1="508.26" x2="334.80" y2="508.26" stroke="#000" stroke-width="1.1"/>
<line x1="331.30" y1="500.57" x2="334.80" y2="500.57" stroke="#000" stroke-width="1.1"/>
<line x1="331.30" y1="492.88" x2="334.80" y2="492.88" stroke="#000" stroke-width="1.1"/>
<line x1="331.30" y1="485.19" x2="334.80" y2="485.19" stroke="#000" stroke-width="1.1"/>
<line x1="331.30" y1="477.50" x2="337.80" y2="477.50" stroke="#000" stroke-width="1.1"/>
<text x="326.2" y="481.9" font-size="12.6" text-anchor="end" fill="#1e1e1e">6.5</text>
<text x="326.2" y="520.3" font-size="12.6" text-anchor="end" fill="#1e1e1e">6.0</text>
<text x="326.2" y="558.8" font-size="12.6" text-anchor="end" fill="#1e1e1e">5.5</text>
<text x="326.2" y="597.2" font-size="12.6" text-anchor="end" fill="#1e1e1e">5.0</text>
<text x="326.2" y="635.7" font-size="12.6" text-anchor="end" fill="#1e1e1e">4.5</text>
<line x1="360.40" y1="631.30" x2="360.40" y2="636.80" stroke="#000" stroke-width="1.1"/>
<line x1="404.50" y1="631.30" x2="404.50" y2="636.80" stroke="#000" stroke-width="1.1"/>
<line x1="452.40" y1="631.30" x2="452.40" y2="636.80" stroke="#000" stroke-width="1.1"/>
<line x1="496.60" y1="631.30" x2="496.60" y2="636.80" stroke="#000" stroke-width="1.1"/>
<text x="360.5" y="652.0" font-size="14" text-anchor="middle" fill="#1e1e1e">Iso</text>
<text x="399.9" y="652.0" font-size="14" text-anchor="middle" fill="#1e1e1e">Hypo</text>
<text x="452.2" y="652.0" font-size="14" text-anchor="middle" fill="#1e1e1e">Iso</text>
<text x="491.9" y="652.0" font-size="14" text-anchor="middle" fill="#1e1e1e">Hypo</text>
<text x="300.7" y="611.9" font-size="13.57" fill="#1e1e1e" transform="rotate(-90 300.661 611.886)">Flipper-TR lifetime (ns)</text>
<path d="M360.3,486.8 L360.3,478.6 L404.5,478.6 L404.5,526" fill="none" stroke="#111" stroke-width="1.2"/>
<text x="369.4" y="480.9" font-size="13.91" font-weight="bold" fill="#111">****</text>
<path d="M452.4,528.5 L452.4,466.7 L496.6,466.7 L496.6,474.9" fill="none" stroke="#111" stroke-width="1.2"/>
<text x="470.4" y="468.8" font-size="12.82" font-weight="bold" fill="#111">**</text>
<line x1="360.40" y1="500.57" x2="404.50" y2="538.25" stroke="#7a7a7a" stroke-width="1.25"/>
<line x1="360.40" y1="515.95" x2="404.50" y2="577.47" stroke="#7a7a7a" stroke-width="1.25"/>
<line x1="360.40" y1="519.79" x2="404.50" y2="598.23" stroke="#7a7a7a" stroke-width="1.25"/>
<line x1="360.40" y1="521.33" x2="404.50" y2="585.16" stroke="#7a7a7a" stroke-width="1.25"/>
<line x1="360.40" y1="533.64" x2="404.50" y2="560.55" stroke="#7a7a7a" stroke-width="1.25"/>
<line x1="360.40" y1="545.17" x2="404.50" y2="549.02" stroke="#7a7a7a" stroke-width="1.25"/>
<line x1="360.40" y1="546.71" x2="404.50" y2="569.78" stroke="#7a7a7a" stroke-width="1.25"/>
<line x1="360.40" y1="548.25" x2="404.50" y2="592.85" stroke="#7a7a7a" stroke-width="1.25"/>
<line x1="360.40" y1="550.55" x2="404.50" y2="558.24" stroke="#7a7a7a" stroke-width="1.25"/>
<line x1="360.40" y1="552.86" x2="404.50" y2="589.00" stroke="#7a7a7a" stroke-width="1.25"/>
<line x1="360.40" y1="554.40" x2="404.50" y2="573.62" stroke="#7a7a7a" stroke-width="1.25"/>
<line x1="360.40" y1="555.94" x2="404.50" y2="556.71" stroke="#7a7a7a" stroke-width="1.25"/>
<line x1="360.40" y1="558.24" x2="404.50" y2="583.62" stroke="#7a7a7a" stroke-width="1.25"/>
<line x1="360.40" y1="562.09" x2="404.50" y2="579.01" stroke="#7a7a7a" stroke-width="1.25"/>
<line x1="360.40" y1="563.63" x2="404.50" y2="600.54" stroke="#7a7a7a" stroke-width="1.25"/>
<line x1="360.40" y1="568.24" x2="404.50" y2="565.93" stroke="#7a7a7a" stroke-width="1.25"/>
<line x1="360.40" y1="569.78" x2="404.50" y2="575.93" stroke="#7a7a7a" stroke-width="1.25"/>
<line x1="360.40" y1="573.62" x2="404.50" y2="585.16" stroke="#7a7a7a" stroke-width="1.25"/>
<line x1="360.40" y1="575.93" x2="404.50" y2="563.63" stroke="#7a7a7a" stroke-width="1.25"/>
<line x1="360.40" y1="546.71" x2="404.50" y2="555.94" stroke="#7a7a7a" stroke-width="1.25"/>
<line x1="360.40" y1="554.40" x2="404.50" y2="596.69" stroke="#7a7a7a" stroke-width="1.25"/>
<circle cx="360.40" cy="500.57" r="2.50" fill="#1a9c3c"/>
<circle cx="404.50" cy="538.25" r="2.50" fill="#b6dfb0"/>
<circle cx="360.40" cy="515.95" r="2.50" fill="#1a9c3c"/>
<circle cx="404.50" cy="577.47" r="2.50" fill="#b6dfb0"/>
<circle cx="360.40" cy="519.79" r="2.50" fill="#1a9c3c"/>
<circle cx="404.50" cy="598.23" r="2.50" fill="#b6dfb0"/>
<circle cx="360.40" cy="521.33" r="2.50" fill="#1a9c3c"/>
<circle cx="404.50" cy="585.16" r="2.50" fill="#b6dfb0"/>
<circle cx="360.40" cy="533.64" r="2.50" fill="#1a9c3c"/>
<circle cx="404.50" cy="560.55" r="2.50" fill="#b6dfb0"/>
<circle cx="360.40" cy="545.17" r="2.50" fill="#1a9c3c"/>
<circle cx="404.50" cy="549.02" r="2.50" fill="#b6dfb0"/>
<circle cx="360.40" cy="546.71" r="2.50" fill="#1a9c3c"/>
<circle cx="404.50" cy="569.78" r="2.50" fill="#b6dfb0"/>
<circle cx="360.40" cy="548.25" r="2.50" fill="#1a9c3c"/>
<circle cx="404.50" cy="592.85" r="2.50" fill="#b6dfb0"/>
<circle cx="360.40" cy="550.55" r="2.50" fill="#1a9c3c"/>
<circle cx="404.50" cy="558.24" r="2.50" fill="#b6dfb0"/>
<circle cx="360.40" cy="552.86" r="2.50" fill="#1a9c3c"/>
<circle cx="404.50" cy="589.00" r="2.50" fill="#b6dfb0"/>
<circle cx="360.40" cy="554.40" r="2.50" fill="#1a9c3c"/>
<circle cx="404.50" cy="573.62" r="2.50" fill="#b6dfb0"/>
<circle cx="360.40" cy="555.94" r="2.50" fill="#1a9c3c"/>
<circle cx="404.50" cy="556.71" r="2.50" fill="#b6dfb0"/>
<circle cx="360.40" cy="558.24" r="2.50" fill="#1a9c3c"/>
<circle cx="404.50" cy="583.62" r="2.50" fill="#b6dfb0"/>
<circle cx="360.40" cy="562.09" r="2.50" fill="#1a9c3c"/>
<circle cx="404.50" cy="579.01" r="2.50" fill="#b6dfb0"/>
<circle cx="360.40" cy="563.63" r="2.50" fill="#1a9c3c"/>
<circle cx="404.50" cy="600.54" r="2.50" fill="#b6dfb0"/>
<circle cx="360.40" cy="568.24" r="2.50" fill="#1a9c3c"/>
<circle cx="404.50" cy="565.93" r="2.50" fill="#b6dfb0"/>
<circle cx="360.40" cy="569.78" r="2.50" fill="#1a9c3c"/>
<circle cx="404.50" cy="575.93" r="2.50" fill="#b6dfb0"/>
<circle cx="360.40" cy="573.62" r="2.50" fill="#1a9c3c"/>
<circle cx="404.50" cy="585.16" r="2.50" fill="#b6dfb0"/>
<circle cx="360.40" cy="575.93" r="2.50" fill="#1a9c3c"/>
<circle cx="404.50" cy="563.63" r="2.50" fill="#b6dfb0"/>
<circle cx="360.40" cy="546.71" r="2.50" fill="#1a9c3c"/>
<circle cx="404.50" cy="555.94" r="2.50" fill="#b6dfb0"/>
<circle cx="360.40" cy="554.40" r="2.50" fill="#1a9c3c"/>
<circle cx="404.50" cy="596.69" r="2.50" fill="#b6dfb0"/>
<line x1="452.40" y1="542.86" x2="496.60" y2="569.78" stroke="#7a7a7a" stroke-width="1.25"/>
<line x1="452.40" y1="555.94" x2="496.60" y2="485.19" stroke="#7a7a7a" stroke-width="1.25"/>
<line x1="452.40" y1="558.24" x2="496.60" y2="592.85" stroke="#7a7a7a" stroke-width="1.25"/>
<line x1="452.40" y1="560.55" x2="496.60" y2="558.24" stroke="#7a7a7a" stroke-width="1.25"/>
<line x1="452.40" y1="569.78" x2="496.60" y2="515.95" stroke="#7a7a7a" stroke-width="1.25"/>
<line x1="452.40" y1="573.62" x2="496.60" y2="554.40" stroke="#7a7a7a" stroke-width="1.25"/>
<line x1="452.40" y1="577.47" x2="496.60" y2="525.95" stroke="#7a7a7a" stroke-width="1.25"/>
<line x1="452.40" y1="581.31" x2="496.60" y2="562.09" stroke="#7a7a7a" stroke-width="1.25"/>
<line x1="452.40" y1="585.16" x2="496.60" y2="550.55" stroke="#7a7a7a" stroke-width="1.25"/>
<line x1="452.40" y1="589.00" x2="496.60" y2="565.93" stroke="#7a7a7a" stroke-width="1.25"/>
<line x1="452.40" y1="592.85" x2="496.60" y2="545.17" stroke="#7a7a7a" stroke-width="1.25"/>
<line x1="452.40" y1="594.39" x2="496.60" y2="582.85" stroke="#7a7a7a" stroke-width="1.25"/>
<line x1="452.40" y1="596.69" x2="496.60" y2="558.24" stroke="#7a7a7a" stroke-width="1.25"/>
<line x1="452.40" y1="565.93" x2="496.60" y2="595.16" stroke="#7a7a7a" stroke-width="1.25"/>
<line x1="452.40" y1="583.62" x2="496.60" y2="527.49" stroke="#7a7a7a" stroke-width="1.25"/>
<line x1="452.40" y1="591.31" x2="496.60" y2="554.40" stroke="#7a7a7a" stroke-width="1.25"/>
<line x1="452.40" y1="575.93" x2="496.60" y2="591.31" stroke="#7a7a7a" stroke-width="1.25"/>
<line x1="452.40" y1="571.32" x2="496.60" y2="562.09" stroke="#7a7a7a" stroke-width="1.25"/>
<circle cx="452.40" cy="542.86" r="2.50" fill="#d92a2e"/>
<circle cx="496.60" cy="569.78" r="2.50" fill="#d98a9c"/>
<circle cx="452.40" cy="555.94" r="2.50" fill="#d92a2e"/>
<circle cx="496.60" cy="485.19" r="2.50" fill="#d98a9c"/>
<circle cx="452.40" cy="558.24" r="2.50" fill="#d92a2e"/>
<circle cx="496.60" cy="592.85" r="2.50" fill="#d98a9c"/>
<circle cx="452.40" cy="560.55" r="2.50" fill="#d92a2e"/>
<circle cx="496.60" cy="558.24" r="2.50" fill="#d98a9c"/>
<circle cx="452.40" cy="569.78" r="2.50" fill="#d92a2e"/>
<circle cx="496.60" cy="515.95" r="2.50" fill="#d98a9c"/>
<circle cx="452.40" cy="573.62" r="2.50" fill="#d92a2e"/>
<circle cx="496.60" cy="554.40" r="2.50" fill="#d98a9c"/>
<circle cx="452.40" cy="577.47" r="2.50" fill="#d92a2e"/>
<circle cx="496.60" cy="525.95" r="2.50" fill="#d98a9c"/>
<circle cx="452.40" cy="581.31" r="2.50" fill="#d92a2e"/>
<circle cx="496.60" cy="562.09" r="2.50" fill="#d98a9c"/>
<circle cx="452.40" cy="585.16" r="2.50" fill="#d92a2e"/>
<circle cx="496.60" cy="550.55" r="2.50" fill="#d98a9c"/>
<circle cx="452.40" cy="589.00" r="2.50" fill="#d92a2e"/>
<circle cx="496.60" cy="565.93" r="2.50" fill="#d98a9c"/>
<circle cx="452.40" cy="592.85" r="2.50" fill="#d92a2e"/>
<circle cx="496.60" cy="545.17" r="2.50" fill="#d98a9c"/>
<circle cx="452.40" cy="594.39" r="2.50" fill="#d92a2e"/>
<circle cx="496.60" cy="582.85" r="2.50" fill="#d98a9c"/>
<circle cx="452.40" cy="596.69" r="2.50" fill="#d92a2e"/>
<circle cx="496.60" cy="558.24" r="2.50" fill="#d98a9c"/>
<circle cx="452.40" cy="565.93" r="2.50" fill="#d92a2e"/>
<circle cx="496.60" cy="595.16" r="2.50" fill="#d98a9c"/>
<circle cx="452.40" cy="583.62" r="2.50" fill="#d92a2e"/>
<circle cx="496.60" cy="527.49" r="2.50" fill="#d98a9c"/>
<circle cx="452.40" cy="591.31" r="2.50" fill="#d92a2e"/>
<circle cx="496.60" cy="554.40" r="2.50" fill="#d98a9c"/>
<circle cx="452.40" cy="575.93" r="2.50" fill="#d92a2e"/>
<circle cx="496.60" cy="591.31" r="2.50" fill="#d98a9c"/>
<circle cx="452.40" cy="571.32" r="2.50" fill="#d92a2e"/>
<circle cx="496.60" cy="562.09" r="2.50" fill="#d98a9c"/>
<text x="554.4" y="403.1" font-size="17.5" font-weight="bold" fill="#111">(g)</text>
<text x="575.4" y="444.5" font-size="15.11" fill="#1e1e1e">Δ (Front - Rear)</text>
<line x1="577.60" y1="514.70" x2="685.00" y2="514.70" stroke="#8a8a8a" stroke-width="0.9" stroke-dasharray="2.6 2"/>
<line x1="577.60" y1="592.50" x2="685.00" y2="592.50" stroke="#8a8a8a" stroke-width="0.9" stroke-dasharray="2.6 2"/>
<line x1="577.60" y1="553.60" x2="685.00" y2="553.60" stroke="#222" stroke-width="1"/>
<line x1="577.60" y1="475.20" x2="577.60" y2="632.00" stroke="#000" stroke-width="1.3"/>
<line x1="577.00" y1="631.40" x2="682.00" y2="631.40" stroke="#000" stroke-width="1.3"/>
<line x1="577.60" y1="631.40" x2="583.60" y2="631.40" stroke="#000" stroke-width="1.1"/>
<line x1="577.60" y1="623.62" x2="580.40" y2="623.62" stroke="#000" stroke-width="1.1"/>
<line x1="577.60" y1="615.84" x2="580.40" y2="615.84" stroke="#000" stroke-width="1.1"/>
<line x1="577.60" y1="608.06" x2="580.40" y2="608.06" stroke="#000" stroke-width="1.1"/>
<line x1="577.60" y1="600.28" x2="580.40" y2="600.28" stroke="#000" stroke-width="1.1"/>
<line x1="577.60" y1="592.50" x2="583.60" y2="592.50" stroke="#000" stroke-width="1.1"/>
<line x1="577.60" y1="584.72" x2="580.40" y2="584.72" stroke="#000" stroke-width="1.1"/>
<line x1="577.60" y1="576.94" x2="580.40" y2="576.94" stroke="#000" stroke-width="1.1"/>
<line x1="577.60" y1="569.16" x2="580.40" y2="569.16" stroke="#000" stroke-width="1.1"/>
<line x1="577.60" y1="561.38" x2="580.40" y2="561.38" stroke="#000" stroke-width="1.1"/>
<line x1="577.60" y1="553.60" x2="583.60" y2="553.60" stroke="#000" stroke-width="1.1"/>
<line x1="577.60" y1="545.82" x2="580.40" y2="545.82" stroke="#000" stroke-width="1.1"/>
<line x1="577.60" y1="538.04" x2="580.40" y2="538.04" stroke="#000" stroke-width="1.1"/>
<line x1="577.60" y1="530.26" x2="580.40" y2="530.26" stroke="#000" stroke-width="1.1"/>
<line x1="577.60" y1="522.48" x2="580.40" y2="522.48" stroke="#000" stroke-width="1.1"/>
<line x1="577.60" y1="514.70" x2="583.60" y2="514.70" stroke="#000" stroke-width="1.1"/>
<line x1="577.60" y1="506.92" x2="580.40" y2="506.92" stroke="#000" stroke-width="1.1"/>
<line x1="577.60" y1="499.14" x2="580.40" y2="499.14" stroke="#000" stroke-width="1.1"/>
<line x1="577.60" y1="491.36" x2="580.40" y2="491.36" stroke="#000" stroke-width="1.1"/>
<line x1="577.60" y1="483.58" x2="580.40" y2="483.58" stroke="#000" stroke-width="1.1"/>
<line x1="577.60" y1="475.80" x2="583.60" y2="475.80" stroke="#000" stroke-width="1.1"/>
<text x="574.3" y="480.2" font-size="12.6" text-anchor="end" fill="#1e1e1e">2.0</text>
<text x="574.3" y="519.1" font-size="12.6" text-anchor="end" fill="#1e1e1e">1.0</text>
<text x="574.3" y="558.0" font-size="12.6" text-anchor="end" fill="#1e1e1e">0</text>
<text x="574.3" y="596.9" font-size="12.6" text-anchor="end" fill="#1e1e1e">- 1.0</text>
<text x="574.3" y="635.8" font-size="12.6" text-anchor="end" fill="#1e1e1e">- 2.0</text>
<line x1="607.10" y1="631.40" x2="607.10" y2="636.90" stroke="#000" stroke-width="1.1"/>
<line x1="651.80" y1="631.40" x2="651.80" y2="636.90" stroke="#000" stroke-width="1.1"/>
<text x="598.7" y="649.2" font-size="14.05" fill="#1e1e1e">Iso</text>
<text x="626.4" y="649.2" font-size="14.37" fill="#1e1e1e">Hypo</text>
<text x="542.9" y="614.8" font-size="13.71" fill="#1e1e1e" transform="rotate(-90 542.895 614.797)">Lifetime difference (ns)</text>
<path d="M607.1,502.3 L607.1,495.8 L651.8,495.8 L651.8,520.8" fill="none" stroke="#111" stroke-width="1.2"/>
<text x="620.0" y="496.9" font-size="13.59" font-weight="bold" fill="#111">****</text>
<line x1="607.10" y1="511.98" x2="651.80" y2="545.82" stroke="#a0a0a0" stroke-width="1.2"/>
<line x1="607.10" y1="513.53" x2="651.80" y2="573.05" stroke="#a0a0a0" stroke-width="1.2"/>
<line x1="607.10" y1="515.09" x2="651.80" y2="546.60" stroke="#a0a0a0" stroke-width="1.2"/>
<line x1="607.10" y1="522.87" x2="651.80" y2="569.16" stroke="#a0a0a0" stroke-width="1.2"/>
<line x1="607.10" y1="533.76" x2="651.80" y2="531.82" stroke="#a0a0a0" stroke-width="1.2"/>
<line x1="607.10" y1="536.48" x2="651.80" y2="557.49" stroke="#a0a0a0" stroke-width="1.2"/>
<line x1="607.10" y1="538.04" x2="651.80" y2="561.38" stroke="#a0a0a0" stroke-width="1.2"/>
<line x1="607.10" y1="539.99" x2="651.80" y2="583.94" stroke="#a0a0a0" stroke-width="1.2"/>
<line x1="607.10" y1="541.93" x2="651.80" y2="553.60" stroke="#a0a0a0" stroke-width="1.2"/>
<line x1="607.10" y1="543.49" x2="651.80" y2="567.99" stroke="#a0a0a0" stroke-width="1.2"/>
<line x1="607.10" y1="545.82" x2="651.80" y2="563.33" stroke="#a0a0a0" stroke-width="1.2"/>
<line x1="607.10" y1="547.76" x2="651.80" y2="555.55" stroke="#a0a0a0" stroke-width="1.2"/>
<line x1="607.10" y1="549.71" x2="651.80" y2="611.95" stroke="#a0a0a0" stroke-width="1.2"/>
<line x1="607.10" y1="551.65" x2="651.80" y2="559.44" stroke="#a0a0a0" stroke-width="1.2"/>
<line x1="607.10" y1="552.82" x2="651.80" y2="575.38" stroke="#a0a0a0" stroke-width="1.2"/>
<line x1="607.10" y1="554.38" x2="651.80" y2="573.44" stroke="#a0a0a0" stroke-width="1.2"/>
<line x1="607.10" y1="556.71" x2="651.80" y2="545.43" stroke="#a0a0a0" stroke-width="1.2"/>
<line x1="607.10" y1="558.66" x2="651.80" y2="565.27" stroke="#a0a0a0" stroke-width="1.2"/>
<line x1="607.10" y1="545.04" x2="651.80" y2="571.11" stroke="#a0a0a0" stroke-width="1.2"/>
<line x1="607.10" y1="540.76" x2="651.80" y2="558.66" stroke="#a0a0a0" stroke-width="1.2"/>
<circle cx="607.10" cy="511.98" r="2.50" fill="#1643e8"/>
<circle cx="651.80" cy="545.82" r="2.50" fill="#6aa4da"/>
<circle cx="607.10" cy="513.53" r="2.50" fill="#1643e8"/>
<circle cx="651.80" cy="573.05" r="2.50" fill="#6aa4da"/>
<circle cx="607.10" cy="515.09" r="2.50" fill="#1643e8"/>
<circle cx="651.80" cy="546.60" r="2.50" fill="#6aa4da"/>
<circle cx="607.10" cy="522.87" r="2.50" fill="#1643e8"/>
<circle cx="651.80" cy="569.16" r="2.50" fill="#6aa4da"/>
<circle cx="607.10" cy="533.76" r="2.50" fill="#1643e8"/>
<circle cx="651.80" cy="531.82" r="2.50" fill="#6aa4da"/>
<circle cx="607.10" cy="536.48" r="2.50" fill="#1643e8"/>
<circle cx="651.80" cy="557.49" r="2.50" fill="#6aa4da"/>
<circle cx="607.10" cy="538.04" r="2.50" fill="#1643e8"/>
<circle cx="651.80" cy="561.38" r="2.50" fill="#6aa4da"/>
<circle cx="607.10" cy="539.99" r="2.50" fill="#1643e8"/>
<circle cx="651.80" cy="583.94" r="2.50" fill="#6aa4da"/>
<circle cx="607.10" cy="541.93" r="2.50" fill="#1643e8"/>
<circle cx="651.80" cy="553.60" r="2.50" fill="#6aa4da"/>
<circle cx="607.10" cy="543.49" r="2.50" fill="#1643e8"/>
<circle cx="651.80" cy="567.99" r="2.50" fill="#6aa4da"/>
<circle cx="607.10" cy="545.82" r="2.50" fill="#1643e8"/>
<circle cx="651.80" cy="563.33" r="2.50" fill="#6aa4da"/>
<circle cx="607.10" cy="547.76" r="2.50" fill="#1643e8"/>
<circle cx="651.80" cy="555.55" r="2.50" fill="#6aa4da"/>
<circle cx="607.10" cy="549.71" r="2.50" fill="#1643e8"/>
<circle cx="651.80" cy="611.95" r="2.50" fill="#6aa4da"/>
<circle cx="607.10" cy="551.65" r="2.50" fill="#1643e8"/>
<circle cx="651.80" cy="559.44" r="2.50" fill="#6aa4da"/>
<circle cx="607.10" cy="552.82" r="2.50" fill="#1643e8"/>
<circle cx="651.80" cy="575.38" r="2.50" fill="#6aa4da"/>
<circle cx="607.10" cy="554.38" r="2.50" fill="#1643e8"/>
<circle cx="651.80" cy="573.44" r="2.50" fill="#6aa4da"/>
<circle cx="607.10" cy="556.71" r="2.50" fill="#1643e8"/>
<circle cx="651.80" cy="545.43" r="2.50" fill="#6aa4da"/>
<circle cx="607.10" cy="558.66" r="2.50" fill="#1643e8"/>
<circle cx="651.80" cy="565.27" r="2.50" fill="#6aa4da"/>
<circle cx="607.10" cy="545.04" r="2.50" fill="#1643e8"/>
<circle cx="651.80" cy="571.11" r="2.50" fill="#6aa4da"/>
<circle cx="607.10" cy="540.76" r="2.50" fill="#1643e8"/>
<circle cx="651.80" cy="558.66" r="2.50" fill="#6aa4da"/>
<text x="-0.6" y="713.9" font-size="17.5" font-weight="bold" fill="#111">(h)</text>
<text x="75.9" y="724.6" font-size="14.67" fill="#1e1e1e">Pre-activation</text>
<line x1="63.30" y1="730.00" x2="183.70" y2="730.00" stroke="#333" stroke-width="1.5"/>
<path d="M216.8,702.4 L206.6,713.6 L209.4,715.4 L205.2,727.3 L215.6,717.5 L212.9,715.7 Z" fill="#1414f5"/>
<line x1="198.00" y1="730.90" x2="359.50" y2="730.90" stroke="#1414f5" stroke-width="2.3" stroke-dasharray="16.1 8.3"/>
<line x1="367.40" y1="730.90" x2="383.20" y2="730.90" stroke="#1414f5" stroke-width="2.3"/>
<line x1="387.80" y1="730.90" x2="390.90" y2="730.90" stroke="#1414f5" stroke-width="2.3"/>
<line x1="393.40" y1="730.90" x2="396.50" y2="730.90" stroke="#1414f5" stroke-width="2.3"/>
<line x1="398.50" y1="730.90" x2="401.60" y2="730.90" stroke="#1414f5" stroke-width="2.3"/>
<line x1="404.70" y1="730.90" x2="410.00" y2="730.90" stroke="#1414f5" stroke-width="2.3"/>
<path d="M408.5,727.2 L415.0,730.9 L408.5,734.6 Z" fill="#1414f5"/>
<text x="257.7" y="724.2" font-size="14.9" fill="#1f35ee">optoactivation</text>
<svg x="45.00" y="737.30" width="74.90" height="74.10" viewBox="45.00 737.30 74.90 74.10" overflow="hidden">
<g filter="url(#am)">
<rect x="45.00" y="737.30" width="74.90" height="74.10" fill="#5c5c5c"/>
<path d="M63.5,786.5 C70,771 79,757.5 91,757 C100,757 104.5,764 103,773 C101,781 93,786 83,786.5 C75,787 68,787 63.5,786.5 Z" fill="#686868" stroke="#c0c0c0" stroke-width="1.4" filter="url(#b05)"/>
<path d="M88,757.5 C98,756.5 104.5,764 103,773 C101.5,780 96,784 90,785.5" fill="none" stroke="#ffffff" stroke-width="2.0" filter="url(#b05)"/>
<line x1="63.50" y1="786.50" x2="57.00" y2="791.00" stroke="#b0b0b0" stroke-width="1.1" filter="url(#b05)"/>
<path d="M56,777 Q60,776 64,779" fill="none" stroke="#a0a0a0" stroke-width="0.9" filter="url(#b05)"/>
<line x1="70.50" y1="753.50" x2="73.50" y2="762.00" stroke="#a8a8a8" stroke-width="1" filter="url(#b05)"/>
</g></svg>
<svg x="45.00" y="814.70" width="74.90" height="74.10" viewBox="45.00 814.70 74.90 74.10" overflow="hidden">
<g filter="url(#fm)">
<rect x="45.00" y="814.70" width="74.90" height="74.10" fill="#2b2b2b"/>
<path d="M62.2,865.0 L70.4,848.5 L80.9,835.7 L96.1,833.4 L103.1,840.4 L101.9,852.0 L96.1,859.0 L84.4,862.6 L70.4,866.0 Z" fill="#707070" filter="url(#b1)"/>
<path d="M62.2,865.0 L70.4,848.5 L80.9,835.7 L96.1,833.4 L103.1,840.4 L101.9,852.0 L96.1,859.0 L84.4,862.6 L70.4,866.0 Z" fill="#a8a8a8" transform="translate(85.1 851.4) scale(0.86) translate(-85.1 -851.4)" filter="url(#b05)"/>
<circle cx="71.93" cy="851.14" r="1.71" fill="#9e9e9e" filter="url(#b05)"/>
<circle cx="87.79" cy="835.54" r="1.67" fill="#9e9e9e" filter="url(#b05)"/>
<circle cx="96.41" cy="848.93" r="0.98" fill="#9e9e9e" filter="url(#b05)"/>
<circle cx="83.60" cy="857.56" r="1.10" fill="#b2b2b2" filter="url(#b05)"/>
<circle cx="93.21" cy="852.67" r="0.93" fill="#9e9e9e" filter="url(#b05)"/>
<circle cx="97.60" cy="848.81" r="1.82" fill="#9e9e9e" filter="url(#b05)"/>
<circle cx="78.35" cy="859.51" r="2.27" fill="#9e9e9e" filter="url(#b05)"/>
<circle cx="98.15" cy="836.58" r="0.81" fill="#9e9e9e" filter="url(#b05)"/>
<circle cx="101.69" cy="847.62" r="0.93" fill="#9e9e9e" filter="url(#b05)"/>
<circle cx="82.95" cy="845.98" r="2.03" fill="#b0b0b0" filter="url(#b05)"/>
<circle cx="89.66" cy="838.72" r="1.99" fill="#9e9e9e" filter="url(#b05)"/>
<circle cx="99.20" cy="851.95" r="0.95" fill="#9e9e9e" filter="url(#b05)"/>
<circle cx="96.21" cy="852.10" r="0.88" fill="#9e9e9e" filter="url(#b05)"/>
<circle cx="65.82" cy="859.50" r="0.78" fill="#9e9e9e" filter="url(#b05)"/>
<circle cx="74.22" cy="858.46" r="0.91" fill="#9e9e9e" filter="url(#b05)"/>
<circle cx="87.33" cy="834.87" r="1.07" fill="#9e9e9e" filter="url(#b05)"/>
<circle cx="87.17" cy="838.49" r="1.92" fill="#9e9e9e" filter="url(#b05)"/>
<circle cx="75.04" cy="864.65" r="1.16" fill="#9e9e9e" filter="url(#b05)"/>
<circle cx="81.03" cy="850.35" r="2.22" fill="#eaeaea" filter="url(#b05)"/>
<circle cx="85.07" cy="853.62" r="1.99" fill="#eeeeee" filter="url(#b05)"/>
<circle cx="79.84" cy="856.88" r="1.48" fill="#9e9e9e" filter="url(#b05)"/>
<circle cx="79.18" cy="852.31" r="2.14" fill="#a6a6a6" filter="url(#b05)"/>
<circle cx="88.06" cy="835.36" r="1.23" fill="#9e9e9e" filter="url(#b05)"/>
<circle cx="89.98" cy="844.89" r="2.01" fill="#9e9e9e" filter="url(#b05)"/>
<circle cx="72.47" cy="848.28" r="1.32" fill="#9e9e9e" filter="url(#b05)"/>
<circle cx="77.09" cy="843.59" r="1.79" fill="#9e9e9e" filter="url(#b05)"/>
<circle cx="74.49" cy="845.70" r="0.94" fill="#9e9e9e" filter="url(#b05)"/>
<circle cx="85.48" cy="857.37" r="1.35" fill="#9e9e9e" filter="url(#b05)"/>
<circle cx="95.08" cy="841.18" r="1.24" fill="#9e9e9e" filter="url(#b05)"/>
<circle cx="90.75" cy="836.72" r="1.09" fill="#9e9e9e" filter="url(#b05)"/>
<circle cx="96.29" cy="847.69" r="1.00" fill="#9e9e9e" filter="url(#b05)"/>
<circle cx="75.97" cy="854.60" r="1.66" fill="#b1b1b1" filter="url(#b05)"/>
<circle cx="83.86" cy="839.62" r="2.01" fill="#9e9e9e" filter="url(#b05)"/>
<circle cx="95.22" cy="854.33" r="1.27" fill="#9e9e9e" filter="url(#b05)"/>
<circle cx="94.67" cy="842.24" r="1.27" fill="#9e9e9e" filter="url(#b05)"/>
<circle cx="79.37" cy="846.75" r="1.29" fill="#d0d0d0" filter="url(#b05)"/>
<circle cx="100.13" cy="840.64" r="1.40" fill="#9e9e9e" filter="url(#b05)"/>
<circle cx="89.32" cy="850.32" r="1.56" fill="#9e9e9e" filter="url(#b05)"/>
<circle cx="86.28" cy="842.76" r="1.00" fill="#9f9f9f" filter="url(#b05)"/>
<circle cx="99.00" cy="852.21" r="1.58" fill="#9e9e9e" filter="url(#b05)"/>
<circle cx="89.31" cy="850.51" r="2.53" fill="#a4a4a4" filter="url(#b05)"/>
<circle cx="87.24" cy="844.53" r="2.30" fill="#9e9e9e" filter="url(#b05)"/>
<circle cx="81.72" cy="858.90" r="1.26" fill="#9e9e9e" filter="url(#b05)"/>
<circle cx="84.07" cy="860.03" r="2.10" fill="#9e9e9e" filter="url(#b05)"/>
<circle cx="95.88" cy="833.64" r="1.43" fill="#9e9e9e" filter="url(#b05)"/>
<circle cx="73.19" cy="850.59" r="1.59" fill="#9e9e9e" filter="url(#b05)"/>
<circle cx="75.12" cy="843.66" r="1.78" fill="#9e9e9e" filter="url(#b05)"/>
<circle cx="86.19" cy="845.16" r="1.53" fill="#9e9e9e" filter="url(#b05)"/>
<circle cx="91.49" cy="845.80" r="1.16" fill="#9e9e9e" filter="url(#b05)"/>
<circle cx="77.47" cy="853.10" r="1.64" fill="#c3c3c3" filter="url(#b05)"/>
<circle cx="94.97" cy="853.71" r="1.33" fill="#9e9e9e" filter="url(#b05)"/>
<circle cx="82.49" cy="856.31" r="2.19" fill="#b1b1b1" filter="url(#b05)"/>
<circle cx="81.05" cy="841.39" r="1.91" fill="#9e9e9e" filter="url(#b05)"/>
<circle cx="79.62" cy="862.08" r="1.36" fill="#9e9e9e" filter="url(#b05)"/>
<circle cx="72.92" cy="848.53" r="2.05" fill="#9e9e9e" filter="url(#b05)"/>
<circle cx="94.61" cy="855.16" r="1.58" fill="#9e9e9e" filter="url(#b05)"/>
<circle cx="93.87" cy="834.84" r="0.71" fill="#9e9e9e" filter="url(#b05)"/>
<circle cx="98.21" cy="839.24" r="1.46" fill="#9e9e9e" filter="url(#b05)"/>
<circle cx="67.16" cy="860.91" r="1.49" fill="#9e9e9e" filter="url(#b05)"/>
<circle cx="101.15" cy="852.28" r="0.69" fill="#9e9e9e" filter="url(#b05)"/>
<circle cx="93.59" cy="850.07" r="1.03" fill="#9e9e9e" filter="url(#b05)"/>
<circle cx="85.27" cy="860.39" r="1.17" fill="#9e9e9e" filter="url(#b05)"/>
<circle cx="72.42" cy="853.48" r="1.42" fill="#9e9e9e" filter="url(#b05)"/>
<circle cx="77.23" cy="846.33" r="1.63" fill="#9e9e9e" filter="url(#b05)"/>
<circle cx="102.00" cy="846.86" r="0.78" fill="#9e9e9e" filter="url(#b05)"/>
<circle cx="90.46" cy="858.05" r="1.63" fill="#9e9e9e" filter="url(#b05)"/>
<circle cx="81.98" cy="854.36" r="1.36" fill="#e9e9e9" filter="url(#b05)"/>
<circle cx="66.12" cy="857.79" r="1.20" fill="#9e9e9e" filter="url(#b05)"/>
<circle cx="80.32" cy="856.84" r="1.44" fill="#9e9e9e" filter="url(#b05)"/>
<circle cx="70.35" cy="852.49" r="1.12" fill="#9e9e9e" filter="url(#b05)"/>
<circle cx="74.30" cy="856.39" r="2.11" fill="#9e9e9e" filter="url(#b05)"/>
<circle cx="86.11" cy="842.11" r="0.95" fill="#9e9e9e" filter="url(#b05)"/>
<circle cx="81.81" cy="845.88" r="1.64" fill="#a1a1a1" filter="url(#b05)"/>
<circle cx="75.37" cy="858.64" r="2.27" fill="#9e9e9e" filter="url(#b05)"/>
<circle cx="81.82" cy="852.93" r="2.64" fill="#dcdcdc" filter="url(#b05)"/>
<circle cx="95.80" cy="851.56" r="1.76" fill="#9e9e9e" filter="url(#b05)"/>
<circle cx="97.24" cy="846.45" r="1.91" fill="#9e9e9e" filter="url(#b05)"/>
<circle cx="81.32" cy="840.89" r="1.92" fill="#9e9e9e" filter="url(#b05)"/>
<circle cx="97.12" cy="841.29" r="0.97" fill="#9e9e9e" filter="url(#b05)"/>
<circle cx="69.86" cy="856.37" r="1.89" fill="#9e9e9e" filter="url(#b05)"/>
<circle cx="72.63" cy="861.60" r="1.27" fill="#9e9e9e" filter="url(#b05)"/>
<circle cx="92.01" cy="836.20" r="1.59" fill="#9e9e9e" filter="url(#b05)"/>
<circle cx="74.13" cy="845.03" r="1.83" fill="#9e9e9e" filter="url(#b05)"/>
<circle cx="80.04" cy="849.24" r="2.12" fill="#bbbbbb" filter="url(#b05)"/>
<circle cx="101.27" cy="846.14" r="0.75" fill="#9e9e9e" filter="url(#b05)"/>
<circle cx="73.44" cy="855.09" r="2.15" fill="#9e9e9e" filter="url(#b05)"/>
<circle cx="100.70" cy="845.60" r="1.43" fill="#9e9e9e" filter="url(#b05)"/>
<circle cx="74.29" cy="855.43" r="2.08" fill="#9e9e9e" filter="url(#b05)"/>
<circle cx="73.06" cy="857.99" r="1.74" fill="#9e9e9e" filter="url(#b05)"/>
<circle cx="84.13" cy="837.09" r="1.22" fill="#9e9e9e" filter="url(#b05)"/>
<circle cx="91.57" cy="855.52" r="1.17" fill="#9e9e9e" filter="url(#b05)"/>
<circle cx="88.61" cy="853.97" r="2.45" fill="#9e9e9e" filter="url(#b05)"/>
<circle cx="89.00" cy="837.41" r="0.93" fill="#9e9e9e" filter="url(#b05)"/>
<circle cx="75.76" cy="856.89" r="1.74" fill="#9e9e9e" filter="url(#b05)"/>
<circle cx="88.68" cy="848.32" r="1.30" fill="#9e9e9e" filter="url(#b05)"/>
<circle cx="93.06" cy="851.11" r="1.41" fill="#9e9e9e" filter="url(#b05)"/>
<circle cx="73.07" cy="845.90" r="0.92" fill="#9e9e9e" filter="url(#b05)"/>
<circle cx="82.84" cy="841.46" r="1.43" fill="#9e9e9e" filter="url(#b05)"/>
<circle cx="75.81" cy="846.55" r="2.11" fill="#9e9e9e" filter="url(#b05)"/>
<circle cx="76.63" cy="861.01" r="1.21" fill="#9e9e9e" filter="url(#b05)"/>
<circle cx="94.06" cy="857.11" r="1.07" fill="#9e9e9e" filter="url(#b05)"/>
<circle cx="79.24" cy="857.63" r="2.13" fill="#afafaf" filter="url(#b05)"/>
<circle cx="86.41" cy="838.17" r="1.05" fill="#9e9e9e" filter="url(#b05)"/>
<circle cx="83.78" cy="851.93" r="1.63" fill="#d7d7d7" filter="url(#b05)"/>
<circle cx="94.17" cy="834.38" r="1.46" fill="#9e9e9e" filter="url(#b05)"/>
<circle cx="101.03" cy="845.89" r="1.23" fill="#9e9e9e" filter="url(#b05)"/>
<circle cx="90.28" cy="843.16" r="1.56" fill="#9e9e9e" filter="url(#b05)"/>
<circle cx="86.80" cy="857.09" r="2.20" fill="#9e9e9e" filter="url(#b05)"/>
<circle cx="89.27" cy="849.44" r="1.75" fill="#aaaaaa" filter="url(#b05)"/>
<circle cx="70.11" cy="850.66" r="1.46" fill="#9e9e9e" filter="url(#b05)"/>
</g></svg>
<svg x="122.50" y="737.30" width="74.60" height="74.10" viewBox="122.50 737.30 74.60 74.10" overflow="hidden">
<g filter="url(#am)">
<rect x="122.50" y="737.30" width="74.60" height="74.10" fill="#5c5c5c"/>
<path d="M170,735 Q161,751 153.5,767" fill="none" stroke="#ffffff" stroke-width="2.8" filter="url(#b05)"/>
<path d="M155,740.5 Q161,737 168,738" fill="none" stroke="#d8d8d8" stroke-width="1.6" filter="url(#b05)"/>
<path d="M151.5,768 Q158,774 170,772.5 T198,771" fill="none" stroke="#e4e4e4" stroke-width="3.4" filter="url(#b1)"/>
<line x1="155.50" y1="790.00" x2="155.80" y2="800.00" stroke="#8a8a8a" stroke-width="1.4" filter="url(#b05)"/>
<circle cx="185.00" cy="751.00" r="1.50" fill="#ffffff"/>
</g></svg>
<svg x="122.50" y="814.70" width="74.60" height="74.10" viewBox="122.50 814.70 74.60 74.10" overflow="hidden">
<g filter="url(#fm)">
<rect x="122.50" y="814.70" width="74.60" height="74.10" fill="#2b2b2b"/>
<path d="M148.6,845.0 L156.8,835.7 L163.8,824.0 L167.3,814.0 L198.0,814.0 L198.0,850.9 L180.2,852.0 L166.1,853.2 L152.1,850.9 Z" fill="#6a6a6a" filter="url(#b1)"/>
<path d="M148.6,845.0 L156.8,835.7 L163.8,824.0 L167.3,814.0 L198.0,814.0 L198.0,850.9 L180.2,852.0 L166.1,853.2 L152.1,850.9 Z" fill="#8c8c8c" transform="translate(170.1 837.7) scale(0.86) translate(-170.1 -837.7)" filter="url(#b05)"/>
<circle cx="179.37" cy="843.08" r="2.48" fill="#b5b5b5" filter="url(#b05)"/>
<circle cx="185.15" cy="850.16" r="1.92" fill="#b1b1b1" filter="url(#b05)"/>
<circle cx="195.20" cy="839.44" r="1.42" fill="#ffffff" filter="url(#b05)"/>
<circle cx="171.77" cy="823.67" r="1.60" fill="#727272" filter="url(#b05)"/>
<circle cx="162.41" cy="849.92" r="0.81" fill="#727272" filter="url(#b05)"/>
<circle cx="187.98" cy="819.44" r="1.39" fill="#f2f2f2" filter="url(#b05)"/>
<circle cx="197.13" cy="848.20" r="3.05" fill="#ececec" filter="url(#b05)"/>
<circle cx="175.24" cy="840.57" r="2.27" fill="#727272" filter="url(#b05)"/>
<circle cx="192.75" cy="825.71" r="1.52" fill="#f1f1f1" filter="url(#b05)"/>
<circle cx="163.49" cy="837.64" r="1.40" fill="#727272" filter="url(#b05)"/>
<circle cx="165.29" cy="826.15" r="1.25" fill="#727272" filter="url(#b05)"/>
<circle cx="164.20" cy="832.86" r="0.75" fill="#727272" filter="url(#b05)"/>
<circle cx="196.77" cy="814.90" r="2.82" fill="#ffffff" filter="url(#b05)"/>
<circle cx="149.49" cy="844.88" r="1.16" fill="#727272" filter="url(#b05)"/>
<circle cx="157.54" cy="851.44" r="1.33" fill="#727272" filter="url(#b05)"/>
<circle cx="194.52" cy="850.93" r="1.88" fill="#f0f0f0" filter="url(#b05)"/>
<circle cx="174.52" cy="844.40" r="1.96" fill="#727272" filter="url(#b05)"/>
<circle cx="187.98" cy="847.70" r="2.91" fill="#cacaca" filter="url(#b05)"/>
<circle cx="178.77" cy="849.99" r="2.42" fill="#909090" filter="url(#b05)"/>
<circle cx="175.53" cy="826.25" r="1.17" fill="#737373" filter="url(#b05)"/>
<circle cx="197.34" cy="834.91" r="1.66" fill="#f4f4f4" filter="url(#b05)"/>
<circle cx="177.94" cy="846.39" r="1.61" fill="#919191" filter="url(#b05)"/>
<circle cx="190.02" cy="819.12" r="3.02" fill="#ffffff" filter="url(#b05)"/>
<circle cx="179.74" cy="844.89" r="1.69" fill="#888888" filter="url(#b05)"/>
<circle cx="155.97" cy="847.11" r="1.04" fill="#727272" filter="url(#b05)"/>
<circle cx="197.97" cy="847.41" r="2.07" fill="#ffffff" filter="url(#b05)"/>
<circle cx="172.72" cy="842.60" r="1.25" fill="#727272" filter="url(#b05)"/>
<circle cx="168.55" cy="819.74" r="1.99" fill="#727272" filter="url(#b05)"/>
<circle cx="196.01" cy="838.58" r="1.85" fill="#fbfbfb" filter="url(#b05)"/>
<circle cx="187.23" cy="848.00" r="2.58" fill="#dadada" filter="url(#b05)"/>
<circle cx="186.88" cy="841.23" r="2.52" fill="#ebebeb" filter="url(#b05)"/>
<circle cx="166.55" cy="841.62" r="1.30" fill="#727272" filter="url(#b05)"/>
<circle cx="186.63" cy="841.08" r="2.85" fill="#d0d0d0" filter="url(#b05)"/>
<circle cx="180.69" cy="836.76" r="1.90" fill="#8a8a8a" filter="url(#b05)"/>
<circle cx="160.98" cy="840.33" r="1.43" fill="#727272" filter="url(#b05)"/>
<circle cx="180.58" cy="845.27" r="2.05" fill="#a0a0a0" filter="url(#b05)"/>
<circle cx="185.05" cy="846.46" r="2.59" fill="#c6c6c6" filter="url(#b05)"/>
<circle cx="191.57" cy="840.98" r="3.04" fill="#ffffff" filter="url(#b05)"/>
<circle cx="174.20" cy="834.75" r="2.07" fill="#727272" filter="url(#b05)"/>
<circle cx="194.91" cy="832.71" r="2.58" fill="#ffffff" filter="url(#b05)"/>
<circle cx="184.68" cy="820.74" r="2.11" fill="#e1e1e1" filter="url(#b05)"/>
<circle cx="181.48" cy="830.50" r="2.31" fill="#bbbbbb" filter="url(#b05)"/>
<circle cx="180.06" cy="842.24" r="1.26" fill="#868686" filter="url(#b05)"/>
<circle cx="170.39" cy="839.48" r="1.69" fill="#727272" filter="url(#b05)"/>
<circle cx="179.76" cy="815.64" r="1.36" fill="#a2a2a2" filter="url(#b05)"/>
<circle cx="171.59" cy="828.91" r="1.62" fill="#727272" filter="url(#b05)"/>
<circle cx="160.35" cy="849.40" r="1.00" fill="#727272" filter="url(#b05)"/>
<circle cx="162.36" cy="830.07" r="1.51" fill="#727272" filter="url(#b05)"/>
<circle cx="167.07" cy="815.41" r="0.85" fill="#727272" filter="url(#b05)"/>
<circle cx="175.53" cy="827.30" r="2.31" fill="#858585" filter="url(#b05)"/>
<circle cx="189.03" cy="830.43" r="2.39" fill="#ffffff" filter="url(#b05)"/>
<circle cx="166.85" cy="819.57" r="1.40" fill="#727272" filter="url(#b05)"/>
<circle cx="178.67" cy="827.76" r="0.97" fill="#b5b5b5" filter="url(#b05)"/>
<circle cx="178.99" cy="819.52" r="2.38" fill="#a6a6a6" filter="url(#b05)"/>
<circle cx="167.17" cy="830.92" r="1.09" fill="#727272" filter="url(#b05)"/>
<circle cx="196.64" cy="828.89" r="2.95" fill="#ffffff" filter="url(#b05)"/>
<circle cx="178.03" cy="824.19" r="1.72" fill="#b6b6b6" filter="url(#b05)"/>
<circle cx="169.13" cy="826.51" r="1.40" fill="#727272" filter="url(#b05)"/>
<circle cx="162.75" cy="832.70" r="1.31" fill="#727272" filter="url(#b05)"/>
<circle cx="170.51" cy="825.49" r="1.88" fill="#727272" filter="url(#b05)"/>
<circle cx="162.13" cy="850.66" r="0.90" fill="#727272" filter="url(#b05)"/>
<circle cx="197.45" cy="825.49" r="2.11" fill="#ffffff" filter="url(#b05)"/>
<circle cx="180.46" cy="837.67" r="1.20" fill="#bababa" filter="url(#b05)"/>
<circle cx="186.16" cy="825.79" r="1.73" fill="#dcdcdc" filter="url(#b05)"/>
<circle cx="163.26" cy="834.77" r="1.05" fill="#727272" filter="url(#b05)"/>
<circle cx="185.40" cy="837.16" r="1.56" fill="#b4b4b4" filter="url(#b05)"/>
<circle cx="171.11" cy="849.93" r="1.54" fill="#757575" filter="url(#b05)"/>
<circle cx="149.32" cy="844.51" r="1.15" fill="#727272" filter="url(#b05)"/>
<circle cx="183.58" cy="838.78" r="2.63" fill="#c3c3c3" filter="url(#b05)"/>
<circle cx="167.64" cy="829.36" r="0.99" fill="#727272" filter="url(#b05)"/>
<circle cx="163.24" cy="846.54" r="1.55" fill="#727272" filter="url(#b05)"/>
<circle cx="182.91" cy="830.97" r="2.38" fill="#b0b0b0" filter="url(#b05)"/>
<circle cx="193.59" cy="819.59" r="2.25" fill="#f9f9f9" filter="url(#b05)"/>
<circle cx="173.19" cy="826.96" r="1.67" fill="#727272" filter="url(#b05)"/>
<circle cx="188.70" cy="816.68" r="2.71" fill="#dddddd" filter="url(#b05)"/>
<circle cx="187.71" cy="840.01" r="2.49" fill="#c7c7c7" filter="url(#b05)"/>
<circle cx="183.24" cy="815.92" r="1.44" fill="#d9d9d9" filter="url(#b05)"/>
<circle cx="180.50" cy="851.33" r="1.23" fill="#b9b9b9" filter="url(#b05)"/>
<circle cx="163.05" cy="849.99" r="1.31" fill="#727272" filter="url(#b05)"/>
<circle cx="169.05" cy="820.32" r="0.84" fill="#727272" filter="url(#b05)"/>
<circle cx="177.02" cy="843.10" r="1.14" fill="#a6a6a6" filter="url(#b05)"/>
<circle cx="169.92" cy="826.33" r="1.42" fill="#727272" filter="url(#b05)"/>
<circle cx="194.96" cy="828.67" r="2.54" fill="#dcdcdc" filter="url(#b05)"/>
<circle cx="156.06" cy="838.75" r="1.47" fill="#727272" filter="url(#b05)"/>
<circle cx="176.01" cy="838.34" r="1.73" fill="#737373" filter="url(#b05)"/>
<circle cx="161.16" cy="843.42" r="0.76" fill="#727272" filter="url(#b05)"/>
<circle cx="185.00" cy="821.03" r="2.25" fill="#dfdfdf" filter="url(#b05)"/>
<circle cx="177.94" cy="823.35" r="1.70" fill="#aeaeae" filter="url(#b05)"/>
<circle cx="164.57" cy="845.22" r="1.49" fill="#727272" filter="url(#b05)"/>
<circle cx="195.63" cy="840.70" r="1.42" fill="#e8e8e8" filter="url(#b05)"/>
</g></svg>
<svg x="199.80" y="737.30" width="74.40" height="74.10" viewBox="199.80 737.30 74.40 74.10" overflow="hidden">
<g filter="url(#am)">
<rect x="199.80" y="737.30" width="74.40" height="74.10" fill="#5c5c5c"/>
<path d="M245.3,735 Q236.8,752 228.0,767.5" fill="none" stroke="#ffffff" stroke-width="2.6" filter="url(#b05)"/>
<path d="M226.8,768.5 Q228.8,766 230.8,764" fill="none" stroke="#e0e0e0" stroke-width="3.5" filter="url(#b1)"/>
<path d="M230.8,741 Q237.8,738.5 244.8,738" fill="none" stroke="#c8c8c8" stroke-width="1.5" filter="url(#b05)"/>
<path d="M225.8,768 Q239.8,773.5 254.8,772 T276.8,770.5" fill="none" stroke="#a8a8a8" stroke-width="5" filter="url(#b1)"/>
<circle cx="260.10" cy="749.90" r="1.50" fill="#ffffff"/>
<circle cx="247.00" cy="756.70" r="1.00" fill="#c0c0c0"/>
</g></svg>
<svg x="199.80" y="814.70" width="74.40" height="74.10" viewBox="199.80 814.70 74.40 74.10" overflow="hidden">
<g filter="url(#fm)">
<rect x="199.80" y="814.70" width="74.40" height="74.10" fill="#2b2b2b"/>
<path d="M225.7,846.8 L233.4,836.3 L242.2,824.0 L247.5,814.0 L276.8,814.0 L276.8,848.5 L261.5,852.0 L247.5,852.0 L236.9,853.8 L228.2,850.3 Z" fill="#6a6a6a" filter="url(#b1)"/>
<path d="M225.7,846.8 L233.4,836.3 L242.2,824.0 L247.5,814.0 L276.8,814.0 L276.8,848.5 L261.5,852.0 L247.5,852.0 L236.9,853.8 L228.2,850.3 Z" fill="#8c8c8c" transform="translate(247.7 839.2) scale(0.86) translate(-247.7 -839.2)" filter="url(#b05)"/>
<circle cx="249.36" cy="828.86" r="2.13" fill="#727272" filter="url(#b05)"/>
<circle cx="271.60" cy="817.22" r="2.38" fill="#fefefe" filter="url(#b05)"/>
<circle cx="261.65" cy="831.99" r="1.42" fill="#efefef" filter="url(#b05)"/>
<circle cx="251.57" cy="850.77" r="2.09" fill="#909090" filter="url(#b05)"/>
<circle cx="245.31" cy="843.69" r="1.19" fill="#727272" filter="url(#b05)"/>
<circle cx="260.15" cy="842.88" r="1.26" fill="#cecece" filter="url(#b05)"/>
<circle cx="240.07" cy="846.22" r="1.71" fill="#727272" filter="url(#b05)"/>
<circle cx="270.64" cy="816.18" r="2.14" fill="#f2f2f2" filter="url(#b05)"/>
<circle cx="272.02" cy="818.46" r="1.43" fill="#ffffff" filter="url(#b05)"/>
<circle cx="255.27" cy="849.63" r="1.02" fill="#959595" filter="url(#b05)"/>
<circle cx="251.08" cy="850.65" r="1.52" fill="#818181" filter="url(#b05)"/>
<circle cx="258.34" cy="817.72" r="1.37" fill="#c9c9c9" filter="url(#b05)"/>
<circle cx="256.69" cy="819.94" r="2.69" fill="#a6a6a6" filter="url(#b05)"/>
<circle cx="276.70" cy="818.83" r="3.03" fill="#ffffff" filter="url(#b05)"/>
<circle cx="237.80" cy="838.32" r="1.05" fill="#727272" filter="url(#b05)"/>
<circle cx="260.15" cy="837.49" r="1.26" fill="#e6e6e6" filter="url(#b05)"/>
<circle cx="243.44" cy="848.39" r="1.33" fill="#727272" filter="url(#b05)"/>
<circle cx="255.05" cy="814.73" r="1.53" fill="#bcbcbc" filter="url(#b05)"/>
<circle cx="247.86" cy="822.49" r="1.31" fill="#727272" filter="url(#b05)"/>
<circle cx="230.97" cy="845.21" r="1.35" fill="#727272" filter="url(#b05)"/>
<circle cx="266.97" cy="833.79" r="1.68" fill="#ffffff" filter="url(#b05)"/>
<circle cx="263.39" cy="830.92" r="2.98" fill="#dcdcdc" filter="url(#b05)"/>
<circle cx="246.19" cy="828.84" r="1.32" fill="#757575" filter="url(#b05)"/>
<circle cx="259.81" cy="820.81" r="1.56" fill="#e8e8e8" filter="url(#b05)"/>
<circle cx="234.53" cy="851.67" r="1.18" fill="#727272" filter="url(#b05)"/>
<circle cx="254.41" cy="819.46" r="1.87" fill="#868686" filter="url(#b05)"/>
<circle cx="261.26" cy="816.61" r="2.40" fill="#d9d9d9" filter="url(#b05)"/>
<circle cx="264.75" cy="829.24" r="1.52" fill="#ffffff" filter="url(#b05)"/>
<circle cx="262.26" cy="844.71" r="2.06" fill="#ffffff" filter="url(#b05)"/>
<circle cx="252.72" cy="820.90" r="1.09" fill="#9d9d9d" filter="url(#b05)"/>
<circle cx="265.57" cy="822.85" r="1.54" fill="#d9d9d9" filter="url(#b05)"/>
<circle cx="249.04" cy="836.26" r="1.13" fill="#727272" filter="url(#b05)"/>
<circle cx="250.33" cy="851.67" r="2.28" fill="#828282" filter="url(#b05)"/>
<circle cx="271.13" cy="835.67" r="2.23" fill="#fcfcfc" filter="url(#b05)"/>
<circle cx="272.18" cy="816.61" r="2.24" fill="#ffffff" filter="url(#b05)"/>
<circle cx="241.05" cy="842.85" r="0.84" fill="#727272" filter="url(#b05)"/>
<circle cx="261.45" cy="832.05" r="2.29" fill="#dddddd" filter="url(#b05)"/>
<circle cx="244.77" cy="848.97" r="1.85" fill="#727272" filter="url(#b05)"/>
<circle cx="262.98" cy="838.87" r="1.23" fill="#ffffff" filter="url(#b05)"/>
<circle cx="256.20" cy="838.41" r="1.70" fill="#bebebe" filter="url(#b05)"/>
<circle cx="256.77" cy="821.22" r="1.63" fill="#999999" filter="url(#b05)"/>
<circle cx="249.73" cy="835.32" r="2.01" fill="#727272" filter="url(#b05)"/>
<circle cx="242.76" cy="845.16" r="1.92" fill="#727272" filter="url(#b05)"/>
<circle cx="276.10" cy="847.14" r="1.87" fill="#e0e0e0" filter="url(#b05)"/>
<circle cx="237.52" cy="845.04" r="0.89" fill="#727272" filter="url(#b05)"/>
<circle cx="244.73" cy="843.49" r="1.47" fill="#727272" filter="url(#b05)"/>
<circle cx="244.58" cy="839.26" r="1.12" fill="#727272" filter="url(#b05)"/>
<circle cx="252.16" cy="821.85" r="2.38" fill="#8b8b8b" filter="url(#b05)"/>
<circle cx="266.58" cy="816.30" r="2.84" fill="#eaeaea" filter="url(#b05)"/>
<circle cx="256.63" cy="822.78" r="1.49" fill="#979797" filter="url(#b05)"/>
<circle cx="241.04" cy="845.85" r="1.64" fill="#727272" filter="url(#b05)"/>
<circle cx="275.14" cy="817.76" r="1.67" fill="#eeeeee" filter="url(#b05)"/>
<circle cx="256.57" cy="833.57" r="2.42" fill="#aaaaaa" filter="url(#b05)"/>
<circle cx="246.09" cy="822.32" r="1.44" fill="#727272" filter="url(#b05)"/>
<circle cx="256.89" cy="836.62" r="1.35" fill="#b3b3b3" filter="url(#b05)"/>
<circle cx="246.25" cy="826.94" r="1.55" fill="#727272" filter="url(#b05)"/>
<circle cx="235.34" cy="842.32" r="0.75" fill="#727272" filter="url(#b05)"/>
<circle cx="257.66" cy="827.45" r="2.08" fill="#bababa" filter="url(#b05)"/>
<circle cx="264.62" cy="849.17" r="1.60" fill="#ffffff" filter="url(#b05)"/>
<circle cx="253.39" cy="827.35" r="1.83" fill="#797979" filter="url(#b05)"/>
<circle cx="249.75" cy="848.50" r="2.10" fill="#727272" filter="url(#b05)"/>
<circle cx="251.97" cy="817.94" r="1.37" fill="#9d9d9d" filter="url(#b05)"/>
<circle cx="252.96" cy="816.84" r="2.38" fill="#747474" filter="url(#b05)"/>
<circle cx="258.87" cy="829.74" r="1.96" fill="#e3e3e3" filter="url(#b05)"/>
<circle cx="232.59" cy="841.47" r="0.86" fill="#727272" filter="url(#b05)"/>
<circle cx="242.07" cy="829.32" r="1.48" fill="#727272" filter="url(#b05)"/>
<circle cx="270.08" cy="836.72" r="2.51" fill="#d9d9d9" filter="url(#b05)"/>
<circle cx="269.94" cy="840.95" r="2.65" fill="#ffffff" filter="url(#b05)"/>
<circle cx="248.77" cy="841.06" r="1.35" fill="#727272" filter="url(#b05)"/>
<circle cx="263.93" cy="827.84" r="2.21" fill="#fafafa" filter="url(#b05)"/>
<circle cx="273.17" cy="815.04" r="2.69" fill="#e5e5e5" filter="url(#b05)"/>
<circle cx="259.89" cy="817.84" r="1.47" fill="#b8b8b8" filter="url(#b05)"/>
<circle cx="253.45" cy="849.91" r="1.29" fill="#878787" filter="url(#b05)"/>
<circle cx="260.74" cy="830.84" r="2.91" fill="#f0f0f0" filter="url(#b05)"/>
<circle cx="273.54" cy="842.48" r="1.32" fill="#fafafa" filter="url(#b05)"/>
<circle cx="267.00" cy="829.86" r="2.41" fill="#f8f8f8" filter="url(#b05)"/>
<circle cx="274.96" cy="836.13" r="3.05" fill="#ffffff" filter="url(#b05)"/>
<circle cx="271.10" cy="844.54" r="1.56" fill="#ffffff" filter="url(#b05)"/>
<circle cx="252.84" cy="851.13" r="1.99" fill="#989898" filter="url(#b05)"/>
<circle cx="275.52" cy="820.90" r="2.84" fill="#dcdcdc" filter="url(#b05)"/>
<circle cx="255.39" cy="821.97" r="1.47" fill="#c2c2c2" filter="url(#b05)"/>
<circle cx="265.54" cy="832.07" r="1.28" fill="#ffffff" filter="url(#b05)"/>
<circle cx="255.05" cy="821.95" r="1.85" fill="#b3b3b3" filter="url(#b05)"/>
<circle cx="255.38" cy="847.63" r="2.50" fill="#bfbfbf" filter="url(#b05)"/>
<circle cx="274.78" cy="829.79" r="2.13" fill="#ececec" filter="url(#b05)"/>
<circle cx="234.94" cy="847.76" r="0.69" fill="#727272" filter="url(#b05)"/>
<circle cx="274.97" cy="834.71" r="2.38" fill="#eaeaea" filter="url(#b05)"/>
<circle cx="274.22" cy="827.80" r="1.58" fill="#d9d9d9" filter="url(#b05)"/>
<circle cx="241.62" cy="847.89" r="0.75" fill="#727272" filter="url(#b05)"/>
<circle cx="249.44" cy="818.91" r="1.22" fill="#727272" filter="url(#b05)"/>
</g></svg>
<svg x="276.90" y="737.30" width="74.40" height="74.10" viewBox="276.90 737.30 74.40 74.10" overflow="hidden">
<g filter="url(#am)">
<rect x="276.90" y="737.30" width="74.40" height="74.10" fill="#5c5c5c"/>
<path d="M322.4,735 Q313.9,752 305.1,767.5" fill="none" stroke="#ffffff" stroke-width="2.6" filter="url(#b05)"/>
<path d="M303.9,768.5 Q305.9,766 307.9,764" fill="none" stroke="#e0e0e0" stroke-width="3.5" filter="url(#b1)"/>
<path d="M307.9,741 Q314.9,738.5 321.9,738" fill="none" stroke="#c8c8c8" stroke-width="1.5" filter="url(#b05)"/>
<path d="M302.9,768 Q316.9,773.5 331.9,772 T353.9,770.5" fill="none" stroke="#a8a8a8" stroke-width="5" filter="url(#b1)"/>
<circle cx="337.20" cy="749.90" r="1.50" fill="#ffffff"/>
<circle cx="324.10" cy="756.70" r="1.00" fill="#c0c0c0"/>
</g></svg>
<svg x="276.90" y="814.70" width="74.40" height="74.10" viewBox="276.90 814.70 74.40 74.10" overflow="hidden">
<g filter="url(#fm)">
<rect x="276.90" y="814.70" width="74.40" height="74.10" fill="#2b2b2b"/>
<path d="M302.8,846.8 L310.5,836.3 L319.3,824.0 L324.6,814.0 L353.9,814.0 L353.9,848.5 L338.6,852.0 L324.6,852.0 L314.0,853.8 L305.3,850.3 Z" fill="#6a6a6a" filter="url(#b1)"/>
<path d="M302.8,846.8 L310.5,836.3 L319.3,824.0 L324.6,814.0 L353.9,814.0 L353.9,848.5 L338.6,852.0 L324.6,852.0 L314.0,853.8 L305.3,850.3 Z" fill="#8c8c8c" transform="translate(324.7 839.2) scale(0.86) translate(-324.7 -839.2)" filter="url(#b05)"/>
<circle cx="332.00" cy="831.07" r="1.33" fill="#acacac" filter="url(#b05)"/>
<circle cx="344.36" cy="846.78" r="1.51" fill="#ffffff" filter="url(#b05)"/>
<circle cx="329.41" cy="827.05" r="2.40" fill="#7f7f7f" filter="url(#b05)"/>
<circle cx="353.72" cy="815.77" r="2.36" fill="#ffffff" filter="url(#b05)"/>
<circle cx="322.30" cy="825.29" r="1.40" fill="#727272" filter="url(#b05)"/>
<circle cx="337.85" cy="840.34" r="2.49" fill="#bfbfbf" filter="url(#b05)"/>
<circle cx="334.14" cy="815.76" r="1.27" fill="#979797" filter="url(#b05)"/>
<circle cx="350.89" cy="826.05" r="2.92" fill="#f1f1f1" filter="url(#b05)"/>
<circle cx="318.86" cy="835.85" r="0.82" fill="#727272" filter="url(#b05)"/>
<circle cx="332.67" cy="847.59" r="1.38" fill="#959595" filter="url(#b05)"/>
<circle cx="323.90" cy="815.47" r="1.94" fill="#727272" filter="url(#b05)"/>
<circle cx="336.42" cy="835.23" r="1.35" fill="#e5e5e5" filter="url(#b05)"/>
<circle cx="331.79" cy="828.89" r="1.18" fill="#acacac" filter="url(#b05)"/>
<circle cx="342.43" cy="817.84" r="2.75" fill="#e4e4e4" filter="url(#b05)"/>
<circle cx="351.23" cy="831.24" r="1.67" fill="#f5f5f5" filter="url(#b05)"/>
<circle cx="316.84" cy="838.57" r="0.83" fill="#727272" filter="url(#b05)"/>
<circle cx="326.09" cy="820.56" r="2.04" fill="#7f7f7f" filter="url(#b05)"/>
<circle cx="342.53" cy="833.11" r="2.03" fill="#f0f0f0" filter="url(#b05)"/>
<circle cx="319.75" cy="826.71" r="1.30" fill="#727272" filter="url(#b05)"/>
<circle cx="332.58" cy="829.55" r="2.11" fill="#c5c5c5" filter="url(#b05)"/>
<circle cx="315.14" cy="834.91" r="1.22" fill="#727272" filter="url(#b05)"/>
<circle cx="333.57" cy="816.50" r="1.80" fill="#b3b3b3" filter="url(#b05)"/>
<circle cx="323.30" cy="830.73" r="1.54" fill="#727272" filter="url(#b05)"/>
<circle cx="327.83" cy="820.60" r="2.34" fill="#7f7f7f" filter="url(#b05)"/>
<circle cx="324.02" cy="815.41" r="1.56" fill="#727272" filter="url(#b05)"/>
<circle cx="353.53" cy="833.31" r="2.04" fill="#f8f8f8" filter="url(#b05)"/>
<circle cx="328.41" cy="831.79" r="2.27" fill="#989898" filter="url(#b05)"/>
<circle cx="338.46" cy="830.85" r="2.78" fill="#e8e8e8" filter="url(#b05)"/>
<circle cx="334.44" cy="841.34" r="2.04" fill="#c5c5c5" filter="url(#b05)"/>
<circle cx="345.18" cy="833.06" r="3.05" fill="#ffffff" filter="url(#b05)"/>
<circle cx="325.05" cy="848.18" r="2.09" fill="#7a7a7a" filter="url(#b05)"/>
<circle cx="352.95" cy="825.36" r="1.47" fill="#ffffff" filter="url(#b05)"/>
<circle cx="333.21" cy="850.60" r="1.60" fill="#9c9c9c" filter="url(#b05)"/>
<circle cx="326.50" cy="843.60" r="1.64" fill="#858585" filter="url(#b05)"/>
<circle cx="324.44" cy="840.43" r="1.21" fill="#727272" filter="url(#b05)"/>
<circle cx="321.42" cy="838.97" r="1.06" fill="#727272" filter="url(#b05)"/>
<circle cx="333.96" cy="848.82" r="2.13" fill="#d1d1d1" filter="url(#b05)"/>
<circle cx="315.82" cy="832.18" r="1.36" fill="#727272" filter="url(#b05)"/>
<circle cx="317.23" cy="841.66" r="1.28" fill="#727272" filter="url(#b05)"/>
<circle cx="316.27" cy="831.58" r="1.49" fill="#727272" filter="url(#b05)"/>
<circle cx="327.46" cy="831.78" r="1.61" fill="#7e7e7e" filter="url(#b05)"/>
<circle cx="338.04" cy="842.65" r="1.85" fill="#efefef" filter="url(#b05)"/>
<circle cx="353.51" cy="842.68" r="2.83" fill="#dddddd" filter="url(#b05)"/>
<circle cx="345.54" cy="814.65" r="1.82" fill="#efefef" filter="url(#b05)"/>
<circle cx="340.64" cy="838.29" r="1.53" fill="#e1e1e1" filter="url(#b05)"/>
<circle cx="314.04" cy="843.65" r="0.84" fill="#727272" filter="url(#b05)"/>
<circle cx="332.02" cy="831.48" r="2.40" fill="#c7c7c7" filter="url(#b05)"/>
<circle cx="346.13" cy="836.85" r="2.75" fill="#fcfcfc" filter="url(#b05)"/>
<circle cx="338.18" cy="816.00" r="2.67" fill="#e0e0e0" filter="url(#b05)"/>
<circle cx="323.09" cy="837.93" r="1.03" fill="#727272" filter="url(#b05)"/>
<circle cx="333.77" cy="848.41" r="1.09" fill="#d8d8d8" filter="url(#b05)"/>
<circle cx="349.86" cy="834.34" r="1.96" fill="#f0f0f0" filter="url(#b05)"/>
<circle cx="332.33" cy="827.84" r="2.41" fill="#919191" filter="url(#b05)"/>
<circle cx="338.90" cy="838.27" r="2.94" fill="#f1f1f1" filter="url(#b05)"/>
<circle cx="311.75" cy="846.80" r="0.93" fill="#727272" filter="url(#b05)"/>
<circle cx="331.35" cy="832.24" r="1.67" fill="#8c8c8c" filter="url(#b05)"/>
<circle cx="310.60" cy="851.10" r="1.21" fill="#727272" filter="url(#b05)"/>
<circle cx="343.35" cy="828.34" r="1.30" fill="#f2f2f2" filter="url(#b05)"/>
<circle cx="351.34" cy="815.97" r="2.42" fill="#e4e4e4" filter="url(#b05)"/>
<circle cx="321.22" cy="821.39" r="0.84" fill="#727272" filter="url(#b05)"/>
<circle cx="333.36" cy="831.07" r="1.35" fill="#a7a7a7" filter="url(#b05)"/>
<circle cx="341.24" cy="832.64" r="2.86" fill="#ffffff" filter="url(#b05)"/>
<circle cx="311.65" cy="849.01" r="1.00" fill="#727272" filter="url(#b05)"/>
<circle cx="329.03" cy="849.42" r="1.08" fill="#868686" filter="url(#b05)"/>
<circle cx="351.84" cy="818.71" r="2.59" fill="#e0e0e0" filter="url(#b05)"/>
<circle cx="318.68" cy="825.54" r="1.78" fill="#727272" filter="url(#b05)"/>
<circle cx="320.46" cy="850.11" r="1.52" fill="#727272" filter="url(#b05)"/>
<circle cx="330.01" cy="814.49" r="2.00" fill="#7e7e7e" filter="url(#b05)"/>
<circle cx="338.23" cy="817.86" r="1.98" fill="#e5e5e5" filter="url(#b05)"/>
<circle cx="332.28" cy="829.89" r="1.58" fill="#969696" filter="url(#b05)"/>
<circle cx="352.31" cy="821.50" r="2.22" fill="#ffffff" filter="url(#b05)"/>
<circle cx="306.63" cy="846.29" r="1.40" fill="#727272" filter="url(#b05)"/>
<circle cx="320.10" cy="850.56" r="1.20" fill="#727272" filter="url(#b05)"/>
<circle cx="317.58" cy="846.66" r="0.99" fill="#727272" filter="url(#b05)"/>
<circle cx="334.21" cy="837.27" r="1.97" fill="#b4b4b4" filter="url(#b05)"/>
<circle cx="336.61" cy="838.84" r="2.06" fill="#e9e9e9" filter="url(#b05)"/>
<circle cx="326.26" cy="827.37" r="1.78" fill="#727272" filter="url(#b05)"/>
<circle cx="327.78" cy="842.23" r="1.02" fill="#797979" filter="url(#b05)"/>
<circle cx="326.34" cy="820.11" r="1.64" fill="#727272" filter="url(#b05)"/>
<circle cx="308.95" cy="842.07" r="1.38" fill="#727272" filter="url(#b05)"/>
<circle cx="332.22" cy="839.28" r="1.70" fill="#bababa" filter="url(#b05)"/>
<circle cx="328.85" cy="842.38" r="1.85" fill="#959595" filter="url(#b05)"/>
<circle cx="335.83" cy="835.32" r="1.61" fill="#b3b3b3" filter="url(#b05)"/>
<circle cx="338.13" cy="830.67" r="1.80" fill="#f3f3f3" filter="url(#b05)"/>
<circle cx="337.00" cy="818.60" r="2.60" fill="#c3c3c3" filter="url(#b05)"/>
<circle cx="311.77" cy="838.91" r="1.18" fill="#727272" filter="url(#b05)"/>
<circle cx="325.87" cy="849.80" r="1.97" fill="#898989" filter="url(#b05)"/>
<circle cx="320.11" cy="840.63" r="1.36" fill="#727272" filter="url(#b05)"/>
<circle cx="322.70" cy="832.69" r="1.09" fill="#727272" filter="url(#b05)"/>
<circle cx="329.36" cy="840.01" r="2.40" fill="#949494" filter="url(#b05)"/>
</g></svg>
<svg x="354.20" y="737.30" width="74.80" height="74.10" viewBox="354.20 737.30 74.80 74.10" overflow="hidden">
<g filter="url(#am)">
<rect x="354.20" y="737.30" width="74.80" height="74.10" fill="#5c5c5c"/>
<path d="M398.7,735 Q390.2,752 381.4,767.5" fill="none" stroke="#ffffff" stroke-width="2.6" filter="url(#b05)"/>
<path d="M381.2,768.5 Q383.2,766 385.2,764" fill="none" stroke="#e0e0e0" stroke-width="3.5" filter="url(#b1)"/>
<path d="M385.2,741 Q392.2,738.5 399.2,738" fill="none" stroke="#c8c8c8" stroke-width="1.5" filter="url(#b05)"/>
<path d="M380.2,768 Q394.2,773.5 409.2,772 T431.2,770.5" fill="none" stroke="#b8b8b8" stroke-width="6" filter="url(#b1)"/>
<circle cx="414.50" cy="749.90" r="1.50" fill="#ffffff"/>
<circle cx="401.40" cy="756.70" r="1.00" fill="#c0c0c0"/>
</g></svg>
<svg x="354.20" y="814.70" width="74.80" height="74.10" viewBox="354.20 814.70 74.80 74.10" overflow="hidden">
<g filter="url(#fm)">
<rect x="354.20" y="814.70" width="74.80" height="74.10" fill="#2b2b2b"/>
<path d="M380.1,846.8 L387.8,836.3 L396.6,824.0 L401.9,814.0 L431.2,814.0 L431.2,848.5 L415.9,852.0 L401.9,852.0 L391.3,853.8 L382.6,850.3 Z" fill="#5a5a5a" filter="url(#b1)"/>
<path d="M380.1,846.8 L387.8,836.3 L396.6,824.0 L401.9,814.0 L431.2,814.0 L431.2,848.5 L415.9,852.0 L401.9,852.0 L391.3,853.8 L382.6,850.3 Z" fill="#787878" transform="translate(402.1 839.2) scale(0.86) translate(-402.1 -839.2)" filter="url(#b05)"/>
<circle cx="403.22" cy="836.28" r="1.24" fill="#727272" filter="url(#b05)"/>
<circle cx="406.05" cy="837.38" r="1.43" fill="#727272" filter="url(#b05)"/>
<circle cx="412.29" cy="845.56" r="1.42" fill="#777777" filter="url(#b05)"/>
<circle cx="384.73" cy="846.22" r="0.64" fill="#727272" filter="url(#b05)"/>
<circle cx="413.52" cy="838.50" r="1.01" fill="#8a8a8a" filter="url(#b05)"/>
<circle cx="407.10" cy="816.37" r="1.13" fill="#727272" filter="url(#b05)"/>
<circle cx="402.61" cy="847.53" r="1.40" fill="#727272" filter="url(#b05)"/>
<circle cx="405.64" cy="840.37" r="1.12" fill="#727272" filter="url(#b05)"/>
<circle cx="423.04" cy="842.17" r="1.64" fill="#eeeeee" filter="url(#b05)"/>
<circle cx="419.26" cy="829.94" r="1.86" fill="#fcfcfc" filter="url(#b05)"/>
<circle cx="429.06" cy="847.72" r="1.60" fill="#d8d8d8" filter="url(#b05)"/>
<circle cx="426.61" cy="832.71" r="1.96" fill="#ffffff" filter="url(#b05)"/>
<circle cx="419.88" cy="824.74" r="1.78" fill="#cfcfcf" filter="url(#b05)"/>
<circle cx="429.36" cy="844.17" r="1.67" fill="#e0e0e0" filter="url(#b05)"/>
<circle cx="420.83" cy="821.07" r="2.04" fill="#fafafa" filter="url(#b05)"/>
<circle cx="389.84" cy="843.13" r="1.22" fill="#727272" filter="url(#b05)"/>
<circle cx="429.71" cy="845.98" r="2.90" fill="#ededed" filter="url(#b05)"/>
<circle cx="423.76" cy="839.55" r="3.10" fill="#dfdfdf" filter="url(#b05)"/>
<circle cx="419.58" cy="827.09" r="1.29" fill="#dadada" filter="url(#b05)"/>
<circle cx="392.52" cy="837.93" r="1.04" fill="#727272" filter="url(#b05)"/>
<circle cx="429.11" cy="833.25" r="2.86" fill="#ffffff" filter="url(#b05)"/>
<circle cx="426.52" cy="846.55" r="1.56" fill="#e9e9e9" filter="url(#b05)"/>
<circle cx="417.88" cy="851.43" r="2.80" fill="#bfbfbf" filter="url(#b05)"/>
<circle cx="425.18" cy="838.02" r="1.40" fill="#f5f5f5" filter="url(#b05)"/>
<circle cx="392.28" cy="842.04" r="1.39" fill="#727272" filter="url(#b05)"/>
<circle cx="410.58" cy="825.68" r="1.96" fill="#727272" filter="url(#b05)"/>
<circle cx="408.68" cy="847.93" r="1.24" fill="#727272" filter="url(#b05)"/>
<circle cx="426.98" cy="822.12" r="1.72" fill="#d9d9d9" filter="url(#b05)"/>
<circle cx="402.88" cy="816.41" r="1.11" fill="#727272" filter="url(#b05)"/>
<circle cx="409.34" cy="819.24" r="2.13" fill="#727272" filter="url(#b05)"/>
<circle cx="430.20" cy="840.15" r="2.32" fill="#ffffff" filter="url(#b05)"/>
<circle cx="404.74" cy="843.07" r="1.95" fill="#727272" filter="url(#b05)"/>
<circle cx="417.76" cy="849.83" r="2.35" fill="#e3e3e3" filter="url(#b05)"/>
<circle cx="420.64" cy="850.42" r="2.48" fill="#eaeaea" filter="url(#b05)"/>
<circle cx="426.13" cy="848.67" r="2.72" fill="#f5f5f5" filter="url(#b05)"/>
<circle cx="424.22" cy="836.80" r="1.93" fill="#ffffff" filter="url(#b05)"/>
<circle cx="409.87" cy="838.23" r="1.80" fill="#727272" filter="url(#b05)"/>
<circle cx="417.31" cy="829.46" r="2.11" fill="#dedede" filter="url(#b05)"/>
<circle cx="402.61" cy="847.37" r="1.52" fill="#727272" filter="url(#b05)"/>
<circle cx="404.68" cy="823.16" r="1.35" fill="#727272" filter="url(#b05)"/>
<circle cx="411.50" cy="850.63" r="0.95" fill="#797979" filter="url(#b05)"/>
<circle cx="395.48" cy="840.99" r="0.76" fill="#727272" filter="url(#b05)"/>
<circle cx="426.38" cy="840.27" r="2.91" fill="#f7f7f7" filter="url(#b05)"/>
<circle cx="396.81" cy="840.50" r="1.01" fill="#727272" filter="url(#b05)"/>
<circle cx="421.29" cy="850.39" r="1.94" fill="#ffffff" filter="url(#b05)"/>
<circle cx="409.90" cy="826.60" r="1.60" fill="#727272" filter="url(#b05)"/>
<circle cx="422.88" cy="847.78" r="3.02" fill="#ffffff" filter="url(#b05)"/>
<circle cx="403.13" cy="824.95" r="1.18" fill="#727272" filter="url(#b05)"/>
<circle cx="412.07" cy="833.66" r="2.23" fill="#848484" filter="url(#b05)"/>
<circle cx="430.28" cy="832.01" r="1.26" fill="#dddddd" filter="url(#b05)"/>
<circle cx="424.70" cy="815.65" r="2.30" fill="#ffffff" filter="url(#b05)"/>
<circle cx="395.89" cy="845.50" r="0.73" fill="#727272" filter="url(#b05)"/>
<circle cx="403.34" cy="814.98" r="0.98" fill="#727272" filter="url(#b05)"/>
<circle cx="412.25" cy="831.77" r="1.96" fill="#9c9c9c" filter="url(#b05)"/>
<circle cx="415.08" cy="821.93" r="1.33" fill="#b2b2b2" filter="url(#b05)"/>
<circle cx="416.59" cy="821.13" r="1.67" fill="#b6b6b6" filter="url(#b05)"/>
<circle cx="415.73" cy="834.71" r="2.32" fill="#c3c3c3" filter="url(#b05)"/>
<circle cx="400.21" cy="845.52" r="0.72" fill="#727272" filter="url(#b05)"/>
<circle cx="427.76" cy="842.75" r="2.07" fill="#e1e1e1" filter="url(#b05)"/>
<circle cx="412.07" cy="850.22" r="1.82" fill="#888888" filter="url(#b05)"/>
<circle cx="425.03" cy="845.71" r="2.09" fill="#ffffff" filter="url(#b05)"/>
<circle cx="413.38" cy="822.15" r="2.28" fill="#afafaf" filter="url(#b05)"/>
<circle cx="412.89" cy="842.56" r="2.37" fill="#878787" filter="url(#b05)"/>
<circle cx="407.54" cy="845.47" r="2.03" fill="#727272" filter="url(#b05)"/>
<circle cx="423.83" cy="827.87" r="2.05" fill="#dedede" filter="url(#b05)"/>
<circle cx="408.22" cy="844.58" r="0.88" fill="#727272" filter="url(#b05)"/>
<circle cx="421.45" cy="816.55" r="1.53" fill="#ffffff" filter="url(#b05)"/>
<circle cx="397.22" cy="845.36" r="0.74" fill="#727272" filter="url(#b05)"/>
<circle cx="406.49" cy="842.80" r="1.68" fill="#727272" filter="url(#b05)"/>
<circle cx="428.43" cy="833.60" r="1.37" fill="#ffffff" filter="url(#b05)"/>
<circle cx="391.41" cy="834.96" r="1.30" fill="#727272" filter="url(#b05)"/>
<circle cx="412.75" cy="834.81" r="1.84" fill="#b0b0b0" filter="url(#b05)"/>
<circle cx="396.03" cy="829.17" r="1.46" fill="#727272" filter="url(#b05)"/>
<circle cx="390.74" cy="847.86" r="1.10" fill="#727272" filter="url(#b05)"/>
<circle cx="409.38" cy="822.00" r="1.58" fill="#747474" filter="url(#b05)"/>
<circle cx="411.03" cy="815.10" r="1.68" fill="#a5a5a5" filter="url(#b05)"/>
<circle cx="400.57" cy="845.88" r="1.14" fill="#727272" filter="url(#b05)"/>
<circle cx="415.41" cy="816.62" r="1.73" fill="#bababa" filter="url(#b05)"/>
<circle cx="393.86" cy="832.83" r="1.02" fill="#727272" filter="url(#b05)"/>
<circle cx="421.78" cy="849.84" r="1.81" fill="#f9f9f9" filter="url(#b05)"/>
<circle cx="389.88" cy="838.59" r="0.72" fill="#727272" filter="url(#b05)"/>
<circle cx="419.92" cy="814.91" r="1.59" fill="#d7d7d7" filter="url(#b05)"/>
<circle cx="415.21" cy="826.82" r="2.06" fill="#ababab" filter="url(#b05)"/>
<circle cx="385.46" cy="843.09" r="1.09" fill="#727272" filter="url(#b05)"/>
<circle cx="407.20" cy="831.38" r="1.36" fill="#727272" filter="url(#b05)"/>
<circle cx="407.15" cy="820.36" r="1.64" fill="#727272" filter="url(#b05)"/>
<circle cx="412.73" cy="835.08" r="1.92" fill="#b1b1b1" filter="url(#b05)"/>
<circle cx="423.88" cy="823.26" r="2.76" fill="#ffffff" filter="url(#b05)"/>
<circle cx="426.23" cy="826.57" r="2.97" fill="#eeeeee" filter="url(#b05)"/>
<circle cx="391.25" cy="853.73" r="0.73" fill="#727272" filter="url(#b05)"/>
</g></svg>
<rect x="46.3" y="768.9" width="43.7" height="43" fill="none" stroke="#ececec" stroke-width="1" stroke-opacity="0.8" opacity="0.55"/>
<rect x="45.8" y="845.5" width="43.2" height="43" fill="none" stroke="#ececec" stroke-width="1" stroke-opacity="0.8" opacity="0.55"/>
<line x1="90.00" y1="768.90" x2="119.90" y2="737.40" stroke="#a8a8a8" stroke-width="0.9"/>
<line x1="89.00" y1="845.50" x2="119.40" y2="815.20" stroke="#a8a8a8" stroke-width="0.9"/>
<rect x="53.1" y="778.1" width="20.5" height="19.7" fill="none" stroke="#ececec" stroke-width="1" stroke-opacity="0.8"/>
<rect x="53.5" y="855.5" width="20.4" height="19.9" fill="none" stroke="#ececec" stroke-width="1" stroke-opacity="0.8"/>
<rect x="129.3" y="753.1" width="46.5" height="46.5" fill="none" stroke="#ececec" stroke-width="1" stroke-opacity="0.8"/>
<rect x="128.8" y="830.6" width="46.7" height="46" fill="none" stroke="#ececec" stroke-width="1" stroke-opacity="0.8"/>
<rect x="206.4" y="753.4" width="46.6" height="46.1" fill="none" stroke="#ececec" stroke-width="1" stroke-opacity="0.8"/>
<rect x="206.2" y="831" width="46.6" height="45.6" fill="none" stroke="#ececec" stroke-width="1" stroke-opacity="0.8"/>
<line x1="214.20" y1="796.70" x2="225.40" y2="785.30" stroke="#f4f4f4" stroke-width="1.1"/>
<path d="M228.1,782.6 L224.5,789.5 L220.8,785.8 Z" fill="#f4f4f4"/>
<rect x="283.5" y="753.4" width="46.6" height="46.1" fill="none" stroke="#ececec" stroke-width="1" stroke-opacity="0.8"/>
<rect x="283.3" y="831" width="46.6" height="45.6" fill="none" stroke="#ececec" stroke-width="1" stroke-opacity="0.8"/>
<line x1="291.30" y1="796.70" x2="302.50" y2="785.30" stroke="#f4f4f4" stroke-width="1.1"/>
<path d="M305.2,782.6 L301.6,789.5 L297.9,785.8 Z" fill="#f4f4f4"/>
<rect x="360.8" y="753.4" width="46.6" height="46.1" fill="none" stroke="#ececec" stroke-width="1" stroke-opacity="0.8"/>
<rect x="360.6" y="831" width="46.6" height="45.6" fill="none" stroke="#ececec" stroke-width="1" stroke-opacity="0.8"/>
<line x1="368.60" y1="796.70" x2="379.80" y2="785.30" stroke="#f4f4f4" stroke-width="1.1"/>
<path d="M382.5,782.6 L378.9,789.5 L375.2,785.8 Z" fill="#f4f4f4"/>
<text x="47.6" y="750.5" font-size="14.72" fill="#fff">Actin</text>
<text x="46.3" y="826.8" font-size="14.38" fill="#fff">Cav1</text>
<text x="202.2" y="747.4" font-size="13.38" fill="#fff">0’</text>
<text x="202.2" y="824.9" font-size="13.38" fill="#fff">0’</text>
<text x="279.1" y="747.4" font-size="13.58" fill="#fff">2’</text>
<text x="279.1" y="824.9" font-size="13.58" fill="#fff">2’</text>
<text x="356.6" y="747.4" font-size="13.38" fill="#fff">8’</text>
<text x="356.6" y="824.9" font-size="13.38" fill="#fff">8’</text>
<text x="124.0" y="744.4" font-size="9" fill="#fff">20 <tspan font-style="italic">μ</tspan>m</text>
<rect x="127.70" y="747.00" width="12.10" height="2.20" fill="#fff"/>
<rect x="182.40" y="800.20" width="11.80" height="2.20" fill="#fff"/>
<text x="181.2" y="807.6" font-size="5.2" fill="#fff" font-family="Liberation Serif,serif">20 μm</text>
<rect x="182.00" y="878.60" width="11.80" height="2.20" fill="#fff"/>
<text x="180.8" y="886.2" font-size="5.2" fill="#fff" font-family="Liberation Serif,serif">20 μm</text>
<text x="160.4" y="904.6" font-size="14.63" fill="#1e1e1e">WT-Hs578t + opto-Pi3K</text>
<text x="453.4" y="713.2" font-size="17.5" font-weight="bold" fill="#111">(i)</text>
<rect x="504.50" y="717.80" width="5.40" height="5.40" fill="#5cc8f0"/>
<text x="514.5" y="723.7" font-size="12.69" fill="#6ccff6">Area</text>
<circle cx="557.30" cy="720.70" r="2.80" fill="#f7941d"/>
<text x="563.1" y="723.7" font-size="13.43" fill="#f7941d">Actin</text>
<path d="M606.1,723.2 L609.35,716.9 L612.6,723.2 Z" fill="#8c8c8c"/>
<text x="613.1" y="723.7" font-size="13.57" fill="#8a8a8a">Cav1</text>
<rect x="501.20" y="737.70" width="18.40" height="145.70" fill="#ebe2d6"/>
<line x1="499.90" y1="846.20" x2="646.00" y2="846.20" stroke="#9a9a9a" stroke-width="1"/>
<line x1="499.90" y1="737.20" x2="499.90" y2="865.50" stroke="#000" stroke-width="1.1"/>
<line x1="499.90" y1="869.00" x2="499.90" y2="883.90" stroke="#000" stroke-width="1.1"/>
<line x1="497.70" y1="866.30" x2="502.10" y2="865.00" stroke="#000" stroke-width="0.9"/>
<line x1="497.70" y1="869.80" x2="502.10" y2="868.50" stroke="#000" stroke-width="0.9"/>
<line x1="499.40" y1="883.40" x2="646.40" y2="883.40" stroke="#000" stroke-width="1.1"/>
<line x1="497.70" y1="737.00" x2="499.90" y2="737.00" stroke="#000" stroke-width="1"/>
<line x1="497.70" y1="755.20" x2="499.90" y2="755.20" stroke="#000" stroke-width="1"/>
<line x1="497.70" y1="773.40" x2="499.90" y2="773.40" stroke="#000" stroke-width="1"/>
<line x1="497.70" y1="791.60" x2="499.90" y2="791.60" stroke="#000" stroke-width="1"/>
<line x1="497.70" y1="809.80" x2="499.90" y2="809.80" stroke="#000" stroke-width="1"/>
<line x1="497.70" y1="828.00" x2="499.90" y2="828.00" stroke="#000" stroke-width="1"/>
<line x1="497.70" y1="846.20" x2="499.90" y2="846.20" stroke="#000" stroke-width="1"/>
<line x1="497.70" y1="863.70" x2="499.90" y2="863.70" stroke="#000" stroke-width="1"/>
<line x1="497.70" y1="873.00" x2="499.90" y2="873.00" stroke="#000" stroke-width="1"/>
<text x="492.2" y="741.0" font-size="11.2" text-anchor="end" fill="#111">1.4</text>
<text x="492.2" y="777.4" font-size="11.2" text-anchor="end" fill="#111">1.2</text>
<text x="492.2" y="813.8" font-size="11.2" text-anchor="end" fill="#111">1.0</text>
<text x="492.2" y="850.2" font-size="11.2" text-anchor="end" fill="#111">0.8</text>
<text x="492.2" y="867.7" font-size="11.2" text-anchor="end" fill="#111">0.7</text>
<text x="492.2" y="877.0" font-size="11.2" text-anchor="end" fill="#111">0.5</text>
<line x1="505.42" y1="883.40" x2="505.42" y2="886.00" stroke="#000" stroke-width="1"/>
<line x1="520.80" y1="883.40" x2="520.80" y2="886.00" stroke="#000" stroke-width="1"/>
<line x1="536.18" y1="883.40" x2="536.18" y2="886.00" stroke="#000" stroke-width="1"/>
<line x1="551.56" y1="883.40" x2="551.56" y2="886.00" stroke="#000" stroke-width="1"/>
<line x1="566.94" y1="883.40" x2="566.94" y2="886.00" stroke="#000" stroke-width="1"/>
<line x1="582.32" y1="883.40" x2="582.32" y2="886.00" stroke="#000" stroke-width="1"/>
<line x1="597.70" y1="883.40" x2="597.70" y2="886.00" stroke="#000" stroke-width="1"/>
<line x1="613.08" y1="883.40" x2="613.08" y2="886.00" stroke="#000" stroke-width="1"/>
<line x1="628.46" y1="883.40" x2="628.46" y2="886.00" stroke="#000" stroke-width="1"/>
<line x1="643.84" y1="883.40" x2="643.84" y2="886.00" stroke="#000" stroke-width="1"/>
<text x="505.9" y="897.0" font-size="10.8" text-anchor="middle" fill="#111" transform="rotate(-45 505.92 897)">-2</text>
<text x="536.7" y="897.0" font-size="10.8" text-anchor="middle" fill="#111" transform="rotate(-45 536.68 897)">2</text>
<text x="552.1" y="897.0" font-size="10.8" text-anchor="middle" fill="#111" transform="rotate(-45 552.06 897)">4</text>
<text x="567.4" y="897.0" font-size="10.8" text-anchor="middle" fill="#111" transform="rotate(-45 567.44 897)">6</text>
<text x="582.8" y="897.0" font-size="10.8" text-anchor="middle" fill="#111" transform="rotate(-45 582.82 897)">8</text>
<text x="598.2" y="897.0" font-size="10.8" text-anchor="middle" fill="#111" transform="rotate(-45 598.2 897)">10</text>
<text x="613.6" y="897.0" font-size="10.8" text-anchor="middle" fill="#111" transform="rotate(-45 613.58 897)">12</text>
<text x="629.0" y="897.0" font-size="10.8" text-anchor="middle" fill="#111" transform="rotate(-45 628.96 897)">14</text>
<text x="644.3" y="897.0" font-size="10.8" text-anchor="middle" fill="#111" transform="rotate(-45 644.34 897)">16</text>
<text x="514.0" y="901.0" font-size="11.5" font-weight="bold" text-anchor="middle" fill="#1a22e8" transform="rotate(-45 514 901)">opto</text>
<text x="543.4" y="917.4" font-size="14.44" fill="#1e1e1e">Time (min)</text>
<text x="461.6" y="889.1" font-size="14.46" fill="#1e1e1e" transform="rotate(-90 461.588 889.057)">Norm. intensity and area</text>
<g stroke="#9ddcf5" stroke-width="0.7" stroke-opacity="0.85">
<line x1="505.42" y1="804.34" x2="505.42" y2="815.26"/>
<line x1="504.22" y1="804.34" x2="506.62" y2="804.34"/>
<line x1="504.22" y1="815.26" x2="506.62" y2="815.26"/>
<line x1="509.26" y1="804.34" x2="509.26" y2="815.26"/>
<line x1="508.06" y1="804.34" x2="510.46" y2="804.34"/>
<line x1="508.06" y1="815.26" x2="510.46" y2="815.26"/>
<line x1="513.11" y1="805.25" x2="513.11" y2="816.17"/>
<line x1="511.91" y1="805.25" x2="514.31" y2="805.25"/>
<line x1="511.91" y1="816.17" x2="514.31" y2="816.17"/>
<line x1="516.95" y1="805.25" x2="516.95" y2="816.17"/>
<line x1="515.75" y1="805.25" x2="518.15" y2="805.25"/>
<line x1="515.75" y1="816.17" x2="518.15" y2="816.17"/>
<line x1="521.57" y1="765.16" x2="521.57" y2="776.18"/>
<line x1="520.37" y1="765.16" x2="522.77" y2="765.16"/>
<line x1="520.37" y1="776.18" x2="522.77" y2="776.18"/>
<line x1="525.34" y1="769.99" x2="525.34" y2="781.54"/>
<line x1="524.14" y1="769.99" x2="526.54" y2="769.99"/>
<line x1="524.14" y1="781.54" x2="526.54" y2="781.54"/>
<line x1="529.11" y1="765.55" x2="529.11" y2="777.61"/>
<line x1="527.91" y1="765.55" x2="530.31" y2="765.55"/>
<line x1="527.91" y1="777.61" x2="530.31" y2="777.61"/>
<line x1="532.87" y1="768.93" x2="532.87" y2="781.51"/>
<line x1="531.67" y1="768.93" x2="534.07" y2="768.93"/>
<line x1="531.67" y1="781.51" x2="534.07" y2="781.51"/>
<line x1="536.64" y1="769.94" x2="536.64" y2="783.05"/>
<line x1="535.44" y1="769.94" x2="537.84" y2="769.94"/>
<line x1="535.44" y1="783.05" x2="537.84" y2="783.05"/>
<line x1="540.41" y1="766.59" x2="540.41" y2="780.21"/>
<line x1="539.21" y1="766.59" x2="541.61" y2="766.59"/>
<line x1="539.21" y1="780.21" x2="541.61" y2="780.21"/>
<line x1="544.18" y1="769.97" x2="544.18" y2="784.11"/>
<line x1="542.98" y1="769.97" x2="545.38" y2="769.97"/>
<line x1="542.98" y1="784.11" x2="545.38" y2="784.11"/>
<line x1="547.95" y1="773.35" x2="547.95" y2="788.01"/>
<line x1="546.75" y1="773.35" x2="549.15" y2="773.35"/>
<line x1="546.75" y1="788.01" x2="549.15" y2="788.01"/>
<line x1="551.71" y1="772.18" x2="551.71" y2="787.36"/>
<line x1="550.51" y1="772.18" x2="552.91" y2="772.18"/>
<line x1="550.51" y1="787.36" x2="552.91" y2="787.36"/>
<line x1="555.48" y1="771.01" x2="555.48" y2="786.71"/>
<line x1="554.28" y1="771.01" x2="556.68" y2="771.01"/>
<line x1="554.28" y1="786.71" x2="556.68" y2="786.71"/>
<line x1="559.25" y1="774.39" x2="559.25" y2="790.61"/>
<line x1="558.05" y1="774.39" x2="560.45" y2="774.39"/>
<line x1="558.05" y1="790.61" x2="560.45" y2="790.61"/>
<line x1="563.02" y1="773.22" x2="563.02" y2="789.96"/>
<line x1="561.82" y1="773.22" x2="564.22" y2="773.22"/>
<line x1="561.82" y1="789.96" x2="564.22" y2="789.96"/>
<line x1="566.79" y1="775.69" x2="566.79" y2="792.95"/>
<line x1="565.59" y1="775.69" x2="567.99" y2="775.69"/>
<line x1="565.59" y1="792.95" x2="567.99" y2="792.95"/>
<line x1="570.55" y1="779.07" x2="570.55" y2="796.85"/>
<line x1="569.35" y1="779.07" x2="571.75" y2="779.07"/>
<line x1="569.35" y1="796.85" x2="571.75" y2="796.85"/>
<line x1="574.32" y1="777.90" x2="574.32" y2="796.20"/>
<line x1="573.12" y1="777.90" x2="575.52" y2="777.90"/>
<line x1="573.12" y1="796.20" x2="575.52" y2="796.20"/>
<line x1="578.09" y1="775.82" x2="578.09" y2="794.64"/>
<line x1="576.89" y1="775.82" x2="579.29" y2="775.82"/>
<line x1="576.89" y1="794.64" x2="579.29" y2="794.64"/>
<line x1="581.86" y1="780.11" x2="581.86" y2="799.45"/>
<line x1="580.66" y1="780.11" x2="583.06" y2="780.11"/>
<line x1="580.66" y1="799.45" x2="583.06" y2="799.45"/>
<line x1="585.63" y1="778.03" x2="585.63" y2="797.89"/>
<line x1="584.43" y1="778.03" x2="586.83" y2="778.03"/>
<line x1="584.43" y1="797.89" x2="586.83" y2="797.89"/>
<line x1="589.39" y1="781.40" x2="589.39" y2="801.80"/>
<line x1="588.19" y1="781.40" x2="590.59" y2="781.40"/>
<line x1="588.19" y1="801.80" x2="590.59" y2="801.80"/>
<line x1="593.16" y1="782.96" x2="593.16" y2="803.88"/>
<line x1="591.96" y1="782.96" x2="594.36" y2="782.96"/>
<line x1="591.96" y1="803.88" x2="594.36" y2="803.88"/>
<line x1="596.93" y1="784.52" x2="596.93" y2="805.96"/>
<line x1="595.73" y1="784.52" x2="598.13" y2="784.52"/>
<line x1="595.73" y1="805.96" x2="598.13" y2="805.96"/>
<line x1="600.70" y1="780.62" x2="600.70" y2="802.58"/>
<line x1="599.50" y1="780.62" x2="601.90" y2="780.62"/>
<line x1="599.50" y1="802.58" x2="601.90" y2="802.58"/>
<line x1="604.47" y1="782.18" x2="604.47" y2="804.66"/>
<line x1="603.27" y1="782.18" x2="605.67" y2="782.18"/>
<line x1="603.27" y1="804.66" x2="605.67" y2="804.66"/>
<line x1="608.24" y1="778.28" x2="608.24" y2="801.28"/>
<line x1="607.04" y1="778.28" x2="609.44" y2="778.28"/>
<line x1="607.04" y1="801.28" x2="609.44" y2="801.28"/>
<line x1="612.00" y1="783.48" x2="612.00" y2="807.00"/>
<line x1="610.80" y1="783.48" x2="613.20" y2="783.48"/>
<line x1="610.80" y1="807.00" x2="613.20" y2="807.00"/>
<line x1="615.77" y1="785.23" x2="615.77" y2="808.89"/>
<line x1="614.57" y1="785.23" x2="616.97" y2="785.23"/>
<line x1="614.57" y1="808.89" x2="616.97" y2="808.89"/>
<line x1="619.54" y1="781.59" x2="619.54" y2="805.25"/>
<line x1="618.34" y1="781.59" x2="620.74" y2="781.59"/>
<line x1="618.34" y1="805.25" x2="620.74" y2="805.25"/>
<line x1="623.31" y1="787.05" x2="623.31" y2="810.71"/>
<line x1="622.11" y1="787.05" x2="624.51" y2="787.05"/>
<line x1="622.11" y1="810.71" x2="624.51" y2="810.71"/>
<line x1="627.08" y1="785.23" x2="627.08" y2="808.89"/>
<line x1="625.88" y1="785.23" x2="628.28" y2="785.23"/>
<line x1="625.88" y1="808.89" x2="628.28" y2="808.89"/>
<line x1="630.84" y1="788.87" x2="630.84" y2="812.53"/>
<line x1="629.64" y1="788.87" x2="632.04" y2="788.87"/>
<line x1="629.64" y1="812.53" x2="632.04" y2="812.53"/>
<line x1="634.61" y1="787.05" x2="634.61" y2="810.71"/>
<line x1="633.41" y1="787.05" x2="635.81" y2="787.05"/>
<line x1="633.41" y1="810.71" x2="635.81" y2="810.71"/>
<line x1="638.38" y1="787.05" x2="638.38" y2="810.71"/>
<line x1="637.18" y1="787.05" x2="639.58" y2="787.05"/>
<line x1="637.18" y1="810.71" x2="639.58" y2="810.71"/>
<line x1="642.15" y1="787.96" x2="642.15" y2="811.62"/>
<line x1="640.95" y1="787.96" x2="643.35" y2="787.96"/>
<line x1="640.95" y1="811.62" x2="643.35" y2="811.62"/>
</g>
<rect x="503.72" y="808.10" width="3.40" height="3.40" fill="#5cc8f0"/>
<rect x="507.56" y="808.10" width="3.40" height="3.40" fill="#5cc8f0"/>
<rect x="511.41" y="809.01" width="3.40" height="3.40" fill="#5cc8f0"/>
<rect x="515.25" y="809.01" width="3.40" height="3.40" fill="#5cc8f0"/>
<rect x="519.87" y="768.97" width="3.40" height="3.40" fill="#5cc8f0"/>
<rect x="523.64" y="774.07" width="3.40" height="3.40" fill="#5cc8f0"/>
<rect x="527.41" y="769.88" width="3.40" height="3.40" fill="#5cc8f0"/>
<rect x="531.17" y="773.52" width="3.40" height="3.40" fill="#5cc8f0"/>
<rect x="534.94" y="774.79" width="3.40" height="3.40" fill="#5cc8f0"/>
<rect x="538.71" y="771.70" width="3.40" height="3.40" fill="#5cc8f0"/>
<rect x="542.48" y="775.34" width="3.40" height="3.40" fill="#5cc8f0"/>
<rect x="546.25" y="778.98" width="3.40" height="3.40" fill="#5cc8f0"/>
<rect x="550.01" y="778.07" width="3.40" height="3.40" fill="#5cc8f0"/>
<rect x="553.78" y="777.16" width="3.40" height="3.40" fill="#5cc8f0"/>
<rect x="557.55" y="780.80" width="3.40" height="3.40" fill="#5cc8f0"/>
<rect x="561.32" y="779.89" width="3.40" height="3.40" fill="#5cc8f0"/>
<rect x="565.09" y="782.62" width="3.40" height="3.40" fill="#5cc8f0"/>
<rect x="568.85" y="786.26" width="3.40" height="3.40" fill="#5cc8f0"/>
<rect x="572.62" y="785.35" width="3.40" height="3.40" fill="#5cc8f0"/>
<rect x="576.39" y="783.53" width="3.40" height="3.40" fill="#5cc8f0"/>
<rect x="580.16" y="788.08" width="3.40" height="3.40" fill="#5cc8f0"/>
<rect x="583.93" y="786.26" width="3.40" height="3.40" fill="#5cc8f0"/>
<rect x="587.69" y="789.90" width="3.40" height="3.40" fill="#5cc8f0"/>
<rect x="591.46" y="791.72" width="3.40" height="3.40" fill="#5cc8f0"/>
<rect x="595.23" y="793.54" width="3.40" height="3.40" fill="#5cc8f0"/>
<rect x="599.00" y="789.90" width="3.40" height="3.40" fill="#5cc8f0"/>
<rect x="602.77" y="791.72" width="3.40" height="3.40" fill="#5cc8f0"/>
<rect x="606.54" y="788.08" width="3.40" height="3.40" fill="#5cc8f0"/>
<rect x="610.30" y="793.54" width="3.40" height="3.40" fill="#5cc8f0"/>
<rect x="614.07" y="795.36" width="3.40" height="3.40" fill="#5cc8f0"/>
<rect x="617.84" y="791.72" width="3.40" height="3.40" fill="#5cc8f0"/>
<rect x="621.61" y="797.18" width="3.40" height="3.40" fill="#5cc8f0"/>
<rect x="625.38" y="795.36" width="3.40" height="3.40" fill="#5cc8f0"/>
<rect x="629.14" y="799.00" width="3.40" height="3.40" fill="#5cc8f0"/>
<rect x="632.91" y="797.18" width="3.40" height="3.40" fill="#5cc8f0"/>
<rect x="636.68" y="797.18" width="3.40" height="3.40" fill="#5cc8f0"/>
<rect x="640.45" y="798.09" width="3.40" height="3.40" fill="#5cc8f0"/>
<g stroke="#f5b570" stroke-width="0.7" stroke-opacity="0.85">
<line x1="505.42" y1="799.79" x2="505.42" y2="810.71"/>
<line x1="504.22" y1="799.79" x2="506.62" y2="799.79"/>
<line x1="504.22" y1="810.71" x2="506.62" y2="810.71"/>
<line x1="509.26" y1="800.34" x2="509.26" y2="811.26"/>
<line x1="508.06" y1="800.34" x2="510.46" y2="800.34"/>
<line x1="508.06" y1="811.26" x2="510.46" y2="811.26"/>
<line x1="513.11" y1="800.70" x2="513.11" y2="811.62"/>
<line x1="511.91" y1="800.70" x2="514.31" y2="800.70"/>
<line x1="511.91" y1="811.62" x2="514.31" y2="811.62"/>
<line x1="516.95" y1="801.61" x2="516.95" y2="812.53"/>
<line x1="515.75" y1="801.61" x2="518.15" y2="801.61"/>
<line x1="515.75" y1="812.53" x2="518.15" y2="812.53"/>
<line x1="521.57" y1="785.02" x2="521.57" y2="796.00"/>
<line x1="520.37" y1="785.02" x2="522.77" y2="785.02"/>
<line x1="520.37" y1="796.00" x2="522.77" y2="796.00"/>
<line x1="525.34" y1="787.96" x2="525.34" y2="799.24"/>
<line x1="524.14" y1="787.96" x2="526.54" y2="787.96"/>
<line x1="524.14" y1="799.24" x2="526.54" y2="799.24"/>
<line x1="529.11" y1="788.91" x2="529.11" y2="800.48"/>
<line x1="527.91" y1="788.91" x2="530.31" y2="788.91"/>
<line x1="527.91" y1="800.48" x2="530.31" y2="800.48"/>
<line x1="532.87" y1="788.76" x2="532.87" y2="800.63"/>
<line x1="531.67" y1="788.76" x2="534.07" y2="788.76"/>
<line x1="531.67" y1="800.63" x2="534.07" y2="800.63"/>
<line x1="536.64" y1="786.61" x2="536.64" y2="798.78"/>
<line x1="535.44" y1="786.61" x2="537.84" y2="786.61"/>
<line x1="535.44" y1="798.78" x2="537.84" y2="798.78"/>
<line x1="540.41" y1="785.37" x2="540.41" y2="797.83"/>
<line x1="539.21" y1="785.37" x2="541.61" y2="785.37"/>
<line x1="539.21" y1="797.83" x2="541.61" y2="797.83"/>
<line x1="544.18" y1="787.04" x2="544.18" y2="799.80"/>
<line x1="542.98" y1="787.04" x2="545.38" y2="787.04"/>
<line x1="542.98" y1="799.80" x2="545.38" y2="799.80"/>
<line x1="547.95" y1="785.07" x2="547.95" y2="798.13"/>
<line x1="546.75" y1="785.07" x2="549.15" y2="785.07"/>
<line x1="546.75" y1="798.13" x2="549.15" y2="798.13"/>
<line x1="551.71" y1="786.74" x2="551.71" y2="800.10"/>
<line x1="550.51" y1="786.74" x2="552.91" y2="786.74"/>
<line x1="550.51" y1="800.10" x2="552.91" y2="800.10"/>
<line x1="555.48" y1="786.59" x2="555.48" y2="800.25"/>
<line x1="554.28" y1="786.59" x2="556.68" y2="786.59"/>
<line x1="554.28" y1="800.25" x2="556.68" y2="800.25"/>
<line x1="559.25" y1="787.35" x2="559.25" y2="801.31"/>
<line x1="558.05" y1="787.35" x2="560.45" y2="787.35"/>
<line x1="558.05" y1="801.31" x2="560.45" y2="801.31"/>
<line x1="563.02" y1="786.29" x2="563.02" y2="800.55"/>
<line x1="561.82" y1="786.29" x2="564.22" y2="786.29"/>
<line x1="561.82" y1="800.55" x2="564.22" y2="800.55"/>
<line x1="566.79" y1="787.97" x2="566.79" y2="802.51"/>
<line x1="565.59" y1="787.97" x2="567.99" y2="787.97"/>
<line x1="565.59" y1="802.51" x2="567.99" y2="802.51"/>
<line x1="570.55" y1="789.64" x2="570.55" y2="804.48"/>
<line x1="569.35" y1="789.64" x2="571.75" y2="789.64"/>
<line x1="569.35" y1="804.48" x2="571.75" y2="804.48"/>
<line x1="574.32" y1="791.31" x2="574.32" y2="806.45"/>
<line x1="573.12" y1="791.31" x2="575.52" y2="791.31"/>
<line x1="573.12" y1="806.45" x2="575.52" y2="806.45"/>
<line x1="578.09" y1="792.07" x2="578.09" y2="807.51"/>
<line x1="576.89" y1="792.07" x2="579.29" y2="792.07"/>
<line x1="576.89" y1="807.51" x2="579.29" y2="807.51"/>
<line x1="581.86" y1="790.10" x2="581.86" y2="805.84"/>
<line x1="580.66" y1="790.10" x2="583.06" y2="790.10"/>
<line x1="580.66" y1="805.84" x2="583.06" y2="805.84"/>
<line x1="585.63" y1="790.86" x2="585.63" y2="806.90"/>
<line x1="584.43" y1="790.86" x2="586.83" y2="790.86"/>
<line x1="584.43" y1="806.90" x2="586.83" y2="806.90"/>
<line x1="589.39" y1="792.53" x2="589.39" y2="808.87"/>
<line x1="588.19" y1="792.53" x2="590.59" y2="792.53"/>
<line x1="588.19" y1="808.87" x2="590.59" y2="808.87"/>
<line x1="593.16" y1="794.21" x2="593.16" y2="810.83"/>
<line x1="591.96" y1="794.21" x2="594.36" y2="794.21"/>
<line x1="591.96" y1="810.83" x2="594.36" y2="810.83"/>
<line x1="596.93" y1="795.88" x2="596.93" y2="812.80"/>
<line x1="595.73" y1="795.88" x2="598.13" y2="795.88"/>
<line x1="595.73" y1="812.80" x2="598.13" y2="812.80"/>
<line x1="600.70" y1="797.55" x2="600.70" y2="814.77"/>
<line x1="599.50" y1="797.55" x2="601.90" y2="797.55"/>
<line x1="599.50" y1="814.77" x2="601.90" y2="814.77"/>
<line x1="604.47" y1="795.58" x2="604.47" y2="813.10"/>
<line x1="603.27" y1="795.58" x2="605.67" y2="795.58"/>
<line x1="603.27" y1="813.10" x2="605.67" y2="813.10"/>
<line x1="608.24" y1="799.07" x2="608.24" y2="816.89"/>
<line x1="607.04" y1="799.07" x2="609.44" y2="799.07"/>
<line x1="607.04" y1="816.89" x2="609.44" y2="816.89"/>
<line x1="612.00" y1="797.10" x2="612.00" y2="815.22"/>
<line x1="610.80" y1="797.10" x2="613.20" y2="797.10"/>
<line x1="610.80" y1="815.22" x2="613.20" y2="815.22"/>
<line x1="615.77" y1="798.88" x2="615.77" y2="817.08"/>
<line x1="614.57" y1="798.88" x2="616.97" y2="798.88"/>
<line x1="614.57" y1="817.08" x2="616.97" y2="817.08"/>
<line x1="619.54" y1="798.88" x2="619.54" y2="817.08"/>
<line x1="618.34" y1="798.88" x2="620.74" y2="798.88"/>
<line x1="618.34" y1="817.08" x2="620.74" y2="817.08"/>
<line x1="623.31" y1="800.70" x2="623.31" y2="818.90"/>
<line x1="622.11" y1="800.70" x2="624.51" y2="800.70"/>
<line x1="622.11" y1="818.90" x2="624.51" y2="818.90"/>
<line x1="627.08" y1="800.70" x2="627.08" y2="818.90"/>
<line x1="625.88" y1="800.70" x2="628.28" y2="800.70"/>
<line x1="625.88" y1="818.90" x2="628.28" y2="818.90"/>
<line x1="630.84" y1="801.61" x2="630.84" y2="819.81"/>
<line x1="629.64" y1="801.61" x2="632.04" y2="801.61"/>
<line x1="629.64" y1="819.81" x2="632.04" y2="819.81"/>
<line x1="634.61" y1="804.34" x2="634.61" y2="822.54"/>
<line x1="633.41" y1="804.34" x2="635.81" y2="804.34"/>
<line x1="633.41" y1="822.54" x2="635.81" y2="822.54"/>
<line x1="638.38" y1="805.25" x2="638.38" y2="823.45"/>
<line x1="637.18" y1="805.25" x2="639.58" y2="805.25"/>
<line x1="637.18" y1="823.45" x2="639.58" y2="823.45"/>
<line x1="642.15" y1="804.34" x2="642.15" y2="822.54"/>
<line x1="640.95" y1="804.34" x2="643.35" y2="804.34"/>
<line x1="640.95" y1="822.54" x2="643.35" y2="822.54"/>
</g>
<circle cx="505.42" cy="805.25" r="1.95" fill="#f7941d"/>
<circle cx="509.26" cy="805.80" r="1.95" fill="#f7941d"/>
<circle cx="513.11" cy="806.16" r="1.95" fill="#f7941d"/>
<circle cx="516.95" cy="807.07" r="1.95" fill="#f7941d"/>
<circle cx="521.57" cy="790.51" r="1.95" fill="#f7941d"/>
<circle cx="525.34" cy="793.60" r="1.95" fill="#f7941d"/>
<circle cx="529.11" cy="794.69" r="1.95" fill="#f7941d"/>
<circle cx="532.87" cy="794.69" r="1.95" fill="#f7941d"/>
<circle cx="536.64" cy="792.69" r="1.95" fill="#f7941d"/>
<circle cx="540.41" cy="791.60" r="1.95" fill="#f7941d"/>
<circle cx="544.18" cy="793.42" r="1.95" fill="#f7941d"/>
<circle cx="547.95" cy="791.60" r="1.95" fill="#f7941d"/>
<circle cx="551.71" cy="793.42" r="1.95" fill="#f7941d"/>
<circle cx="555.48" cy="793.42" r="1.95" fill="#f7941d"/>
<circle cx="559.25" cy="794.33" r="1.95" fill="#f7941d"/>
<circle cx="563.02" cy="793.42" r="1.95" fill="#f7941d"/>
<circle cx="566.79" cy="795.24" r="1.95" fill="#f7941d"/>
<circle cx="570.55" cy="797.06" r="1.95" fill="#f7941d"/>
<circle cx="574.32" cy="798.88" r="1.95" fill="#f7941d"/>
<circle cx="578.09" cy="799.79" r="1.95" fill="#f7941d"/>
<circle cx="581.86" cy="797.97" r="1.95" fill="#f7941d"/>
<circle cx="585.63" cy="798.88" r="1.95" fill="#f7941d"/>
<circle cx="589.39" cy="800.70" r="1.95" fill="#f7941d"/>
<circle cx="593.16" cy="802.52" r="1.95" fill="#f7941d"/>
<circle cx="596.93" cy="804.34" r="1.95" fill="#f7941d"/>
<circle cx="600.70" cy="806.16" r="1.95" fill="#f7941d"/>
<circle cx="604.47" cy="804.34" r="1.95" fill="#f7941d"/>
<circle cx="608.24" cy="807.98" r="1.95" fill="#f7941d"/>
<circle cx="612.00" cy="806.16" r="1.95" fill="#f7941d"/>
<circle cx="615.77" cy="807.98" r="1.95" fill="#f7941d"/>
<circle cx="619.54" cy="807.98" r="1.95" fill="#f7941d"/>
<circle cx="623.31" cy="809.80" r="1.95" fill="#f7941d"/>
<circle cx="627.08" cy="809.80" r="1.95" fill="#f7941d"/>
<circle cx="630.84" cy="810.71" r="1.95" fill="#f7941d"/>
<circle cx="634.61" cy="813.44" r="1.95" fill="#f7941d"/>
<circle cx="638.38" cy="814.35" r="1.95" fill="#f7941d"/>
<circle cx="642.15" cy="813.44" r="1.95" fill="#f7941d"/>
<g stroke="#b8b8b8" stroke-width="0.7" stroke-opacity="0.85">
<line x1="505.42" y1="807.98" x2="505.42" y2="813.44"/>
<line x1="504.22" y1="807.98" x2="506.62" y2="807.98"/>
<line x1="504.22" y1="813.44" x2="506.62" y2="813.44"/>
<line x1="509.26" y1="807.43" x2="509.26" y2="812.89"/>
<line x1="508.06" y1="807.43" x2="510.46" y2="807.43"/>
<line x1="508.06" y1="812.89" x2="510.46" y2="812.89"/>
<line x1="513.11" y1="808.89" x2="513.11" y2="814.35"/>
<line x1="511.91" y1="808.89" x2="514.31" y2="808.89"/>
<line x1="511.91" y1="814.35" x2="514.31" y2="814.35"/>
<line x1="516.95" y1="808.89" x2="516.95" y2="814.35"/>
<line x1="515.75" y1="808.89" x2="518.15" y2="808.89"/>
<line x1="515.75" y1="814.35" x2="518.15" y2="814.35"/>
<line x1="521.57" y1="811.60" x2="521.57" y2="817.10"/>
<line x1="520.37" y1="811.60" x2="522.77" y2="811.60"/>
<line x1="520.37" y1="817.10" x2="522.77" y2="817.10"/>
<line x1="525.34" y1="815.13" x2="525.34" y2="820.85"/>
<line x1="524.14" y1="815.13" x2="526.54" y2="815.13"/>
<line x1="524.14" y1="820.85" x2="526.54" y2="820.85"/>
<line x1="529.11" y1="815.92" x2="529.11" y2="821.88"/>
<line x1="527.91" y1="815.92" x2="530.31" y2="815.92"/>
<line x1="527.91" y1="821.88" x2="530.31" y2="821.88"/>
<line x1="532.87" y1="817.63" x2="532.87" y2="823.81"/>
<line x1="531.67" y1="817.63" x2="534.07" y2="817.63"/>
<line x1="531.67" y1="823.81" x2="534.07" y2="823.81"/>
<line x1="536.64" y1="818.43" x2="536.64" y2="824.83"/>
<line x1="535.44" y1="818.43" x2="537.84" y2="818.43"/>
<line x1="535.44" y1="824.83" x2="537.84" y2="824.83"/>
<line x1="540.41" y1="820.14" x2="540.41" y2="826.76"/>
<line x1="539.21" y1="820.14" x2="541.61" y2="820.14"/>
<line x1="539.21" y1="826.76" x2="541.61" y2="826.76"/>
<line x1="544.18" y1="820.94" x2="544.18" y2="827.78"/>
<line x1="542.98" y1="820.94" x2="545.38" y2="820.94"/>
<line x1="542.98" y1="827.78" x2="545.38" y2="827.78"/>
<line x1="547.95" y1="821.74" x2="547.95" y2="828.80"/>
<line x1="546.75" y1="821.74" x2="549.15" y2="821.74"/>
<line x1="546.75" y1="828.80" x2="549.15" y2="828.80"/>
<line x1="551.71" y1="822.54" x2="551.71" y2="829.82"/>
<line x1="550.51" y1="822.54" x2="552.91" y2="822.54"/>
<line x1="550.51" y1="829.82" x2="552.91" y2="829.82"/>
<line x1="555.48" y1="823.33" x2="555.48" y2="830.85"/>
<line x1="554.28" y1="823.33" x2="556.68" y2="823.33"/>
<line x1="554.28" y1="830.85" x2="556.68" y2="830.85"/>
<line x1="559.25" y1="824.13" x2="559.25" y2="831.87"/>
<line x1="558.05" y1="824.13" x2="560.45" y2="824.13"/>
<line x1="558.05" y1="831.87" x2="560.45" y2="831.87"/>
<line x1="563.02" y1="824.93" x2="563.02" y2="832.89"/>
<line x1="561.82" y1="824.93" x2="564.22" y2="824.93"/>
<line x1="561.82" y1="832.89" x2="564.22" y2="832.89"/>
<line x1="566.79" y1="826.64" x2="566.79" y2="834.82"/>
<line x1="565.59" y1="826.64" x2="567.99" y2="826.64"/>
<line x1="565.59" y1="834.82" x2="567.99" y2="834.82"/>
<line x1="570.55" y1="827.44" x2="570.55" y2="835.84"/>
<line x1="569.35" y1="827.44" x2="571.75" y2="827.44"/>
<line x1="569.35" y1="835.84" x2="571.75" y2="835.84"/>
<line x1="574.32" y1="828.24" x2="574.32" y2="836.86"/>
<line x1="573.12" y1="828.24" x2="575.52" y2="828.24"/>
<line x1="573.12" y1="836.86" x2="575.52" y2="836.86"/>
<line x1="578.09" y1="829.04" x2="578.09" y2="837.88"/>
<line x1="576.89" y1="829.04" x2="579.29" y2="829.04"/>
<line x1="576.89" y1="837.88" x2="579.29" y2="837.88"/>
<line x1="581.86" y1="829.83" x2="581.86" y2="838.91"/>
<line x1="580.66" y1="829.83" x2="583.06" y2="829.83"/>
<line x1="580.66" y1="838.91" x2="583.06" y2="838.91"/>
<line x1="585.63" y1="830.63" x2="585.63" y2="839.93"/>
<line x1="584.43" y1="830.63" x2="586.83" y2="830.63"/>
<line x1="584.43" y1="839.93" x2="586.83" y2="839.93"/>
<line x1="589.39" y1="831.43" x2="589.39" y2="840.95"/>
<line x1="588.19" y1="831.43" x2="590.59" y2="831.43"/>
<line x1="588.19" y1="840.95" x2="590.59" y2="840.95"/>
<line x1="593.16" y1="832.23" x2="593.16" y2="841.97"/>
<line x1="591.96" y1="832.23" x2="594.36" y2="832.23"/>
<line x1="591.96" y1="841.97" x2="594.36" y2="841.97"/>
<line x1="596.93" y1="832.12" x2="596.93" y2="842.08"/>
<line x1="595.73" y1="832.12" x2="598.13" y2="832.12"/>
<line x1="595.73" y1="842.08" x2="598.13" y2="842.08"/>
<line x1="600.70" y1="832.92" x2="600.70" y2="843.10"/>
<line x1="599.50" y1="832.92" x2="601.90" y2="832.92"/>
<line x1="599.50" y1="843.10" x2="601.90" y2="843.10"/>
<line x1="604.47" y1="833.71" x2="604.47" y2="844.13"/>
<line x1="603.27" y1="833.71" x2="605.67" y2="833.71"/>
<line x1="603.27" y1="844.13" x2="605.67" y2="844.13"/>
<line x1="608.24" y1="834.51" x2="608.24" y2="845.15"/>
<line x1="607.04" y1="834.51" x2="609.44" y2="834.51"/>
<line x1="607.04" y1="845.15" x2="609.44" y2="845.15"/>
<line x1="612.00" y1="835.31" x2="612.00" y2="846.17"/>
<line x1="610.80" y1="835.31" x2="613.20" y2="835.31"/>
<line x1="610.80" y1="846.17" x2="613.20" y2="846.17"/>
<line x1="615.77" y1="835.28" x2="615.77" y2="846.20"/>
<line x1="614.57" y1="835.28" x2="616.97" y2="835.28"/>
<line x1="614.57" y1="846.20" x2="616.97" y2="846.20"/>
<line x1="619.54" y1="836.19" x2="619.54" y2="847.11"/>
<line x1="618.34" y1="836.19" x2="620.74" y2="836.19"/>
<line x1="618.34" y1="847.11" x2="620.74" y2="847.11"/>
<line x1="623.31" y1="836.19" x2="623.31" y2="847.11"/>
<line x1="622.11" y1="836.19" x2="624.51" y2="836.19"/>
<line x1="622.11" y1="847.11" x2="624.51" y2="847.11"/>
<line x1="627.08" y1="837.10" x2="627.08" y2="848.02"/>
<line x1="625.88" y1="837.10" x2="628.28" y2="837.10"/>
<line x1="625.88" y1="848.02" x2="628.28" y2="848.02"/>
<line x1="630.84" y1="837.10" x2="630.84" y2="848.02"/>
<line x1="629.64" y1="837.10" x2="632.04" y2="837.10"/>
<line x1="629.64" y1="848.02" x2="632.04" y2="848.02"/>
<line x1="634.61" y1="838.01" x2="634.61" y2="848.93"/>
<line x1="633.41" y1="838.01" x2="635.81" y2="838.01"/>
<line x1="633.41" y1="848.93" x2="635.81" y2="848.93"/>
<line x1="638.38" y1="838.01" x2="638.38" y2="848.93"/>
<line x1="637.18" y1="838.01" x2="639.58" y2="838.01"/>
<line x1="637.18" y1="848.93" x2="639.58" y2="848.93"/>
<line x1="642.15" y1="838.92" x2="642.15" y2="849.84"/>
<line x1="640.95" y1="838.92" x2="643.35" y2="838.92"/>
<line x1="640.95" y1="849.84" x2="643.35" y2="849.84"/>
</g>
<path d="M503.32,812.31 L505.42,808.61 L507.52,812.31 Z" fill="#8f8f8f"/>
<path d="M507.16,811.76 L509.26,808.06 L511.36,811.76 Z" fill="#8f8f8f"/>
<path d="M511.01,813.22 L513.11,809.52 L515.21,813.22 Z" fill="#8f8f8f"/>
<path d="M514.85,813.22 L516.95,809.52 L519.05,813.22 Z" fill="#8f8f8f"/>
<path d="M519.47,815.95 L521.57,812.25 L523.67,815.95 Z" fill="#8f8f8f"/>
<path d="M523.24,819.59 L525.34,815.89 L527.44,819.59 Z" fill="#8f8f8f"/>
<path d="M527.01,820.50 L529.11,816.80 L531.21,820.50 Z" fill="#8f8f8f"/>
<path d="M530.77,822.32 L532.87,818.62 L534.97,822.32 Z" fill="#8f8f8f"/>
<path d="M534.54,823.23 L536.64,819.53 L538.74,823.23 Z" fill="#8f8f8f"/>
<path d="M538.31,825.05 L540.41,821.35 L542.51,825.05 Z" fill="#8f8f8f"/>
<path d="M542.08,825.96 L544.18,822.26 L546.28,825.96 Z" fill="#8f8f8f"/>
<path d="M545.85,826.87 L547.95,823.17 L550.05,826.87 Z" fill="#8f8f8f"/>
<path d="M549.61,827.78 L551.71,824.08 L553.81,827.78 Z" fill="#8f8f8f"/>
<path d="M553.38,828.69 L555.48,824.99 L557.58,828.69 Z" fill="#8f8f8f"/>
<path d="M557.15,829.60 L559.25,825.90 L561.35,829.60 Z" fill="#8f8f8f"/>
<path d="M560.92,830.51 L563.02,826.81 L565.12,830.51 Z" fill="#8f8f8f"/>
<path d="M564.69,832.33 L566.79,828.63 L568.89,832.33 Z" fill="#8f8f8f"/>
<path d="M568.45,833.24 L570.55,829.54 L572.65,833.24 Z" fill="#8f8f8f"/>
<path d="M572.22,834.15 L574.32,830.45 L576.42,834.15 Z" fill="#8f8f8f"/>
<path d="M575.99,835.06 L578.09,831.36 L580.19,835.06 Z" fill="#8f8f8f"/>
<path d="M579.76,835.97 L581.86,832.27 L583.96,835.97 Z" fill="#8f8f8f"/>
<path d="M583.53,836.88 L585.63,833.18 L587.73,836.88 Z" fill="#8f8f8f"/>
<path d="M587.29,837.79 L589.39,834.09 L591.49,837.79 Z" fill="#8f8f8f"/>
<path d="M591.06,838.70 L593.16,835.00 L595.26,838.70 Z" fill="#8f8f8f"/>
<path d="M594.83,838.70 L596.93,835.00 L599.03,838.70 Z" fill="#8f8f8f"/>
<path d="M598.60,839.61 L600.70,835.91 L602.80,839.61 Z" fill="#8f8f8f"/>
<path d="M602.37,840.52 L604.47,836.82 L606.57,840.52 Z" fill="#8f8f8f"/>
<path d="M606.14,841.43 L608.24,837.73 L610.34,841.43 Z" fill="#8f8f8f"/>
<path d="M609.90,842.34 L612.00,838.64 L614.10,842.34 Z" fill="#8f8f8f"/>
<path d="M613.67,842.34 L615.77,838.64 L617.87,842.34 Z" fill="#8f8f8f"/>
<path d="M617.44,843.25 L619.54,839.55 L621.64,843.25 Z" fill="#8f8f8f"/>
<path d="M621.21,843.25 L623.31,839.55 L625.41,843.25 Z" fill="#8f8f8f"/>
<path d="M624.98,844.16 L627.08,840.46 L629.18,844.16 Z" fill="#8f8f8f"/>
<path d="M628.74,844.16 L630.84,840.46 L632.94,844.16 Z" fill="#8f8f8f"/>
<path d="M632.51,845.07 L634.61,841.37 L636.71,845.07 Z" fill="#8f8f8f"/>
<path d="M636.28,845.07 L638.38,841.37 L640.48,845.07 Z" fill="#8f8f8f"/>
<path d="M640.05,845.98 L642.15,842.28 L644.25,845.98 Z" fill="#8f8f8f"/>
</svg>
</body></html>
